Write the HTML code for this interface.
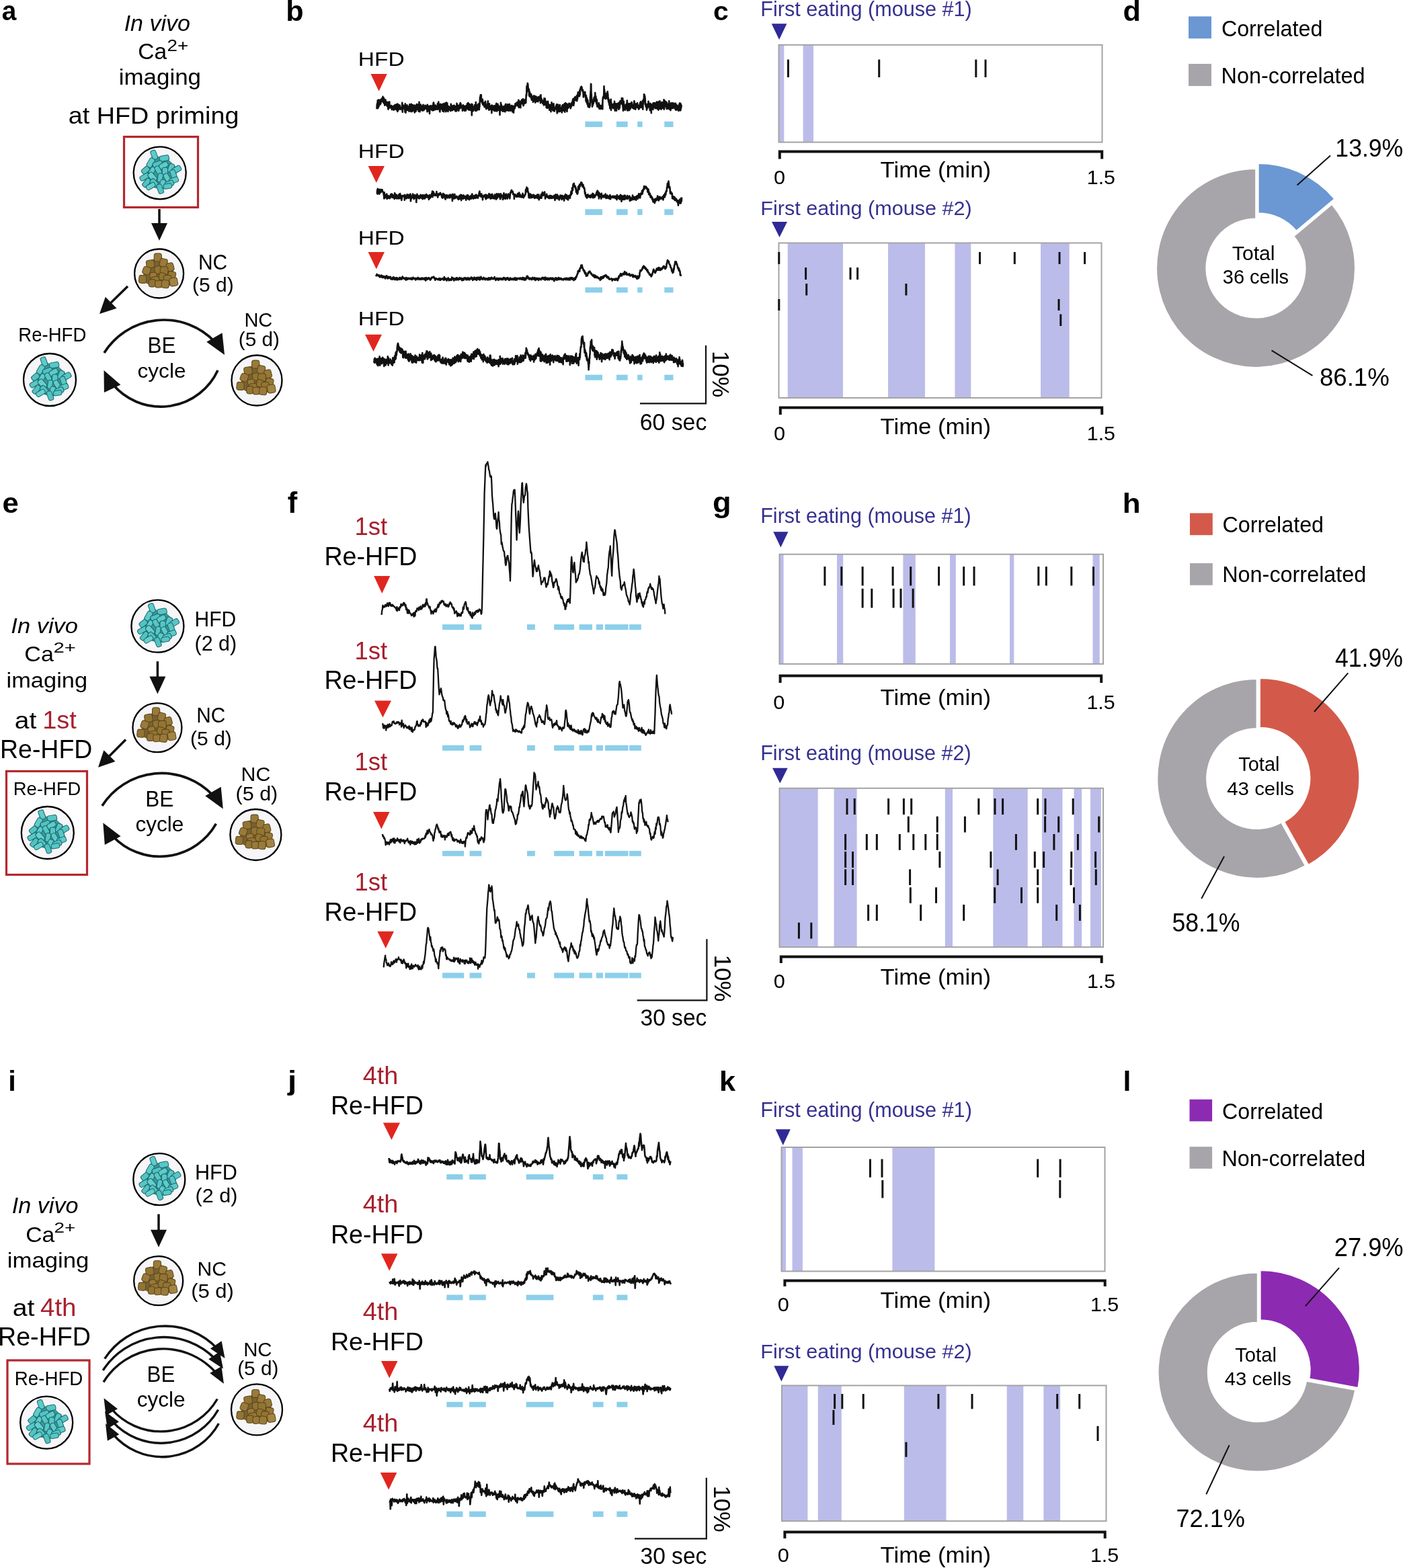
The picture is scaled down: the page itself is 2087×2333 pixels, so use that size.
<!DOCTYPE html><html><head><meta charset="utf-8"><title>Figure</title><style>html,body{margin:0;padding:0;background:#fff;}body{width:2087px;height:2333px;overflow:hidden;}svg{display:block;}text{font-family:"Liberation Sans",Arial,Helvetica,sans-serif;}</style></head><body><svg width="2087" height="2333" viewBox="0 0 2087 2333" font-family="Liberation Sans, Arial, Helvetica, sans-serif"><defs><symbol id="hfd" overflow="visible"><g transform="scale(0.92)"><g transform="scale(0.85)"><path d="M-12,-36 L0,-30 L14,-28 L30,-12 L32,4 L28,18 L14,28 L4,33 L-4,30 L-18,26 L-28,14 L-30,-2 L-24,-14 L-18,-26 Z" fill="#2b8c8c" opacity="0.9"/></g><rect x="-4.34" y="-7.61" width="8.67" height="15.23" rx="3" fill="#5fcbcb" stroke="#1b6a6b" stroke-width="1.1" transform="translate(-9.2 -29.2) rotate(-20)"/><rect x="-4.49" y="-7.66" width="8.98" height="15.33" rx="3" fill="#58c6c7" stroke="#1b6a6b" stroke-width="1.1" transform="translate(7.2 -23.7) rotate(80)"/><rect x="-4.35" y="-7.85" width="8.71" height="15.7" rx="3" fill="#5fcbcb" stroke="#1b6a6b" stroke-width="1.1" transform="translate(-14.7 -16.5) rotate(30)"/><rect x="-4.16" y="-7.8" width="8.32" height="15.61" rx="3" fill="#53c2c3" stroke="#1b6a6b" stroke-width="1.1" transform="translate(-3.7 -14.3) rotate(70)"/><rect x="-4.28" y="-7.36" width="8.56" height="14.72" rx="3" fill="#5fcbcb" stroke="#1b6a6b" stroke-width="1.1" transform="translate(6.2 -12.1) rotate(60)"/><rect x="-4.41" y="-7.11" width="8.82" height="14.22" rx="3" fill="#58c6c7" stroke="#1b6a6b" stroke-width="1.1" transform="translate(18.2 -7.7) rotate(20)"/><rect x="-4.54" y="-7.65" width="9.08" height="15.3" rx="3" fill="#58c6c7" stroke="#1b6a6b" stroke-width="1.1" transform="translate(27 -5.5) rotate(60)"/><rect x="-4.43" y="-6.61" width="8.87" height="13.22" rx="3" fill="#53c2c3" stroke="#1b6a6b" stroke-width="1.1" transform="translate(-23 -4.4) rotate(50)"/><rect x="-3.99" y="-6.5" width="7.98" height="13.01" rx="3" fill="#5fcbcb" stroke="#1b6a6b" stroke-width="1.1" transform="translate(-12.5 -3.3) rotate(30)"/><rect x="-4.05" y="-6.82" width="8.09" height="13.65" rx="3" fill="#58c6c7" stroke="#1b6a6b" stroke-width="1.1" transform="translate(-2.6 -4.4) rotate(-30)"/><rect x="-4.51" y="-6.93" width="9.02" height="13.87" rx="3" fill="#58c6c7" stroke="#1b6a6b" stroke-width="1.1" transform="translate(8.4 -1.7) rotate(0)"/><rect x="-4.28" y="-7.52" width="8.55" height="15.03" rx="3" fill="#58c6c7" stroke="#1b6a6b" stroke-width="1.1" transform="translate(22 2.2) rotate(-20)"/><rect x="-4.03" y="-7.95" width="8.05" height="15.91" rx="3" fill="#58c6c7" stroke="#1b6a6b" stroke-width="1.1" transform="translate(-24.6 6.5) rotate(60)"/><rect x="-4.58" y="-7.84" width="9.15" height="15.68" rx="3" fill="#66d0cf" stroke="#1b6a6b" stroke-width="1.1" transform="translate(-12 6.5) rotate(-40)"/><rect x="-3.92" y="-7.12" width="7.83" height="14.24" rx="3" fill="#58c6c7" stroke="#1b6a6b" stroke-width="1.1" transform="translate(0.6 7.6) rotate(10)"/><rect x="-4.08" y="-7" width="8.17" height="14" rx="3" fill="#5fcbcb" stroke="#1b6a6b" stroke-width="1.1" transform="translate(11.6 7.6) rotate(-30)"/><rect x="-4.32" y="-7.56" width="8.63" height="15.12" rx="3" fill="#5fcbcb" stroke="#1b6a6b" stroke-width="1.1" transform="translate(22.6 12) rotate(70)"/><rect x="-4.12" y="-7.73" width="8.23" height="15.46" rx="3" fill="#53c2c3" stroke="#1b6a6b" stroke-width="1.1" transform="translate(-21.3 15.9) rotate(40)"/><rect x="-4.39" y="-6.78" width="8.77" height="13.55" rx="3" fill="#53c2c3" stroke="#1b6a6b" stroke-width="1.1" transform="translate(-9.2 15.9) rotate(-45)"/><rect x="-4.39" y="-6.59" width="8.79" height="13.17" rx="3" fill="#5fcbcb" stroke="#1b6a6b" stroke-width="1.1" transform="translate(4.5 17.5) rotate(20)"/><rect x="-4.56" y="-7.04" width="9.13" height="14.07" rx="3" fill="#53c2c3" stroke="#1b6a6b" stroke-width="1.1" transform="translate(15.5 17.5) rotate(70)"/><rect x="-3.91" y="-7.68" width="7.83" height="15.36" rx="3" fill="#66d0cf" stroke="#1b6a6b" stroke-width="1.1" transform="translate(-14.7 21.4) rotate(60)"/><rect x="-4.16" y="-7.76" width="8.33" height="15.52" rx="3" fill="#53c2c3" stroke="#1b6a6b" stroke-width="1.1" transform="translate(0.6 25.8) rotate(-20)"/><rect x="-3.93" y="-6.77" width="7.87" height="13.54" rx="3" fill="#58c6c7" stroke="#1b6a6b" stroke-width="1.1" transform="translate(12.7 21.4) rotate(80)"/></g></symbol><symbol id="nc" overflow="visible"><g transform="scale(0.95)"><g transform="scale(0.85)"><path d="M-6,-30 L4,-31 L12,-22 L24,-14 L28,0 L30,18 L22,22 L2,24 L-16,22 L-31,14 L-30,4 L-24,-10 L-18,-20 Z" fill="#6a521f" opacity="0.9"/></g><rect x="-5.87" y="-6.24" width="11.75" height="12.48" rx="3.5" fill="#9a7a3a" stroke="#5e4819" stroke-width="1.1" transform="translate(-1.9 -25.2) rotate(0)"/><rect x="-6.09" y="-6.28" width="12.18" height="12.55" rx="3.5" fill="#927434" stroke="#5e4819" stroke-width="1.1" transform="translate(-13.6 -14.9) rotate(80)"/><rect x="-5.9" y="-6.4" width="11.8" height="12.8" rx="3.5" fill="#9a7a3a" stroke="#5e4819" stroke-width="1.1" transform="translate(7 -16.8) rotate(10)"/><rect x="-5.62" y="-6.37" width="11.24" height="12.74" rx="3.5" fill="#967838" stroke="#5e4819" stroke-width="1.1" transform="translate(17.3 -10.2) rotate(-15)"/><rect x="-5.79" y="-6.07" width="11.59" height="12.15" rx="3.5" fill="#9a7a3a" stroke="#5e4819" stroke-width="1.1" transform="translate(-19.6 -4.6) rotate(20)"/><rect x="-5.98" y="-5.91" width="11.96" height="11.82" rx="3.5" fill="#927434" stroke="#5e4819" stroke-width="1.1" transform="translate(-1 -5.6) rotate(85)"/><rect x="-6.17" y="-6.27" width="12.33" height="12.53" rx="3.5" fill="#927434" stroke="#5e4819" stroke-width="1.1" transform="translate(7.9 -4.6) rotate(0)"/><rect x="-6.01" y="-5.57" width="12.02" height="11.14" rx="3.5" fill="#967838" stroke="#5e4819" stroke-width="1.1" transform="translate(20 2.4) rotate(10)"/><rect x="-5.38" y="-5.5" width="10.75" height="11" rx="3.5" fill="#9a7a3a" stroke="#5e4819" stroke-width="1.1" transform="translate(-8.9 3.8) rotate(-10)"/><rect x="-5.46" y="-5.72" width="10.92" height="11.43" rx="3.5" fill="#927434" stroke="#5e4819" stroke-width="1.1" transform="translate(5.1 4.7) rotate(15)"/><rect x="-6.12" y="-5.79" width="12.24" height="11.58" rx="3.5" fill="#927434" stroke="#5e4819" stroke-width="1.1" transform="translate(13.1 8.4) rotate(0)"/><rect x="-5.79" y="-6.18" width="11.58" height="12.36" rx="3.5" fill="#927434" stroke="#5e4819" stroke-width="1.1" transform="translate(-25.7 8.9) rotate(5)"/><rect x="-5.43" y="-6.47" width="10.86" height="12.94" rx="3.5" fill="#927434" stroke="#5e4819" stroke-width="1.1" transform="translate(-6.1 10.3) rotate(80)"/><rect x="-6.22" y="-6.39" width="12.43" height="12.79" rx="3.5" fill="#a48444" stroke="#5e4819" stroke-width="1.1" transform="translate(22.8 13.1) rotate(-10)"/><rect x="-5.27" y="-5.91" width="10.54" height="11.83" rx="3.5" fill="#927434" stroke="#5e4819" stroke-width="1.1" transform="translate(-10.8 15) rotate(0)"/><rect x="-5.51" y="-5.83" width="11.03" height="11.66" rx="3.5" fill="#9a7a3a" stroke="#5e4819" stroke-width="1.1" transform="translate(-0.5 16.4) rotate(85)"/><rect x="-5.85" y="-6.21" width="11.69" height="12.42" rx="3.5" fill="#9a7a3a" stroke="#5e4819" stroke-width="1.1" transform="translate(9.8 16.4) rotate(5)"/></g></symbol></defs><text transform="translate(2.83 30.4) scale(0.972 1)" font-size="40" font-weight="bold" fill="#000">a</text><text transform="translate(1061.07 30.42) scale(1.074 1)" font-size="38" font-weight="bold" fill="#000">c</text><text transform="translate(3.56 762.58) scale(1.037 1)" font-size="42" font-weight="bold" fill="#000">e</text><text transform="translate(427.85 763.1) scale(0.987 1)" font-size="44" font-weight="bold" fill="#000">f</text><text transform="translate(1059.89 761.75) scale(1.049 1)" font-size="43.05" font-weight="bold" fill="#000">g</text><text transform="translate(1669.82 763) scale(1.099 1)" font-size="40" font-weight="bold" fill="#000">h</text><text transform="translate(12.3 1623.2) scale(0.973 1)" font-size="42.62" font-weight="bold" fill="#000">i</text><text transform="translate(427.92 1622.49) scale(1.150 1)" font-size="41.5" font-weight="bold" fill="#000">j</text><text transform="translate(1069.97 1623) scale(1.061 1)" font-size="40.83" font-weight="bold" fill="#000">k</text><text transform="translate(1670.39 1622.8) scale(1.052 1)" font-size="40.83" font-weight="bold" fill="#000">l</text><text transform="translate(425.29 30.8) scale(1.028 1)" font-size="42" font-weight="bold" fill="#000">b</text><text transform="translate(1670.47 30.8) scale(1.028 1)" font-size="42" font-weight="bold" fill="#000">d</text><text x="184.64" y="45.66" font-size="34.01" font-style="italic" fill="#000">In vivo</text><text x="205.33" y="88" font-size="33.5" fill="#000">Ca</text><text transform="translate(248.61 76) scale(1.212 1)" font-size="23" fill="#000">2+</text><text transform="translate(176.73 126.08) scale(1.061 1)" font-size="32.94" fill="#000">imaging</text><text transform="translate(101.8 184.09) scale(1.069 1)" font-size="35.29" fill="#000">at HFD priming</text><rect x="184.5" y="203.5" width="110" height="105" fill="none" stroke="#b5272d" stroke-width="3.2"/><circle cx="237.7" cy="257.3" r="39" fill="#f6f5f7" stroke="#000" stroke-width="2.3"/><use href="#hfd" x="237.7" y="257.3"/><line x1="237" y1="311" x2="237" y2="336" stroke="#111" stroke-width="3.5"/><polygon points="237,358 225,332 249,332" fill="#111"/><circle cx="236.6" cy="407" r="36.5" fill="#f6f5f7" stroke="#000" stroke-width="2.3"/><use href="#nc" x="236.6" y="407"/><text transform="translate(294.9 400.79) scale(0.980 1)" font-size="30.56" fill="#000">NC</text><text transform="translate(286.1 433.73) scale(1.006 1)" font-size="29.84" fill="#000">(5 d)</text><line x1="190" y1="426" x2="162.31" y2="453.03" stroke="#111" stroke-width="3.5"/><polygon points="148,467 156.79,441.65 173.56,458.82" fill="#111"/><text transform="translate(27.29 507.91) scale(0.955 1)" font-size="28.86" fill="#000">Re-HFD</text><circle cx="74" cy="565" r="39" fill="#f6f5f7" stroke="#000" stroke-width="2.3"/><use href="#hfd" x="74" y="565"/><path d="M155,525 A104.59,104.59 0 0 1 318.98,508.09" fill="none" stroke="#111" stroke-width="3.7"/><polygon points="334,528 307.25,508.86 330.58,495.28" fill="#111"/><text transform="translate(219.38 524.8) scale(0.966 1)" font-size="32.61" fill="#000">BE</text><text transform="translate(204.58 562.22) scale(1.039 1)" font-size="30.37" fill="#000">cycle</text><path d="M324,551 A93.43,93.43 0 0 1 167.91,572.01" fill="none" stroke="#111" stroke-width="3.7"/><polygon points="154.5,551 179.37,572.53 154.88,583.9" fill="#111"/><text transform="translate(363.38 486.01) scale(0.992 1)" font-size="29.3" fill="#000">NC</text><text transform="translate(354.82 515.12) scale(1.009 1)" font-size="29.41" fill="#000">(5 d)</text><circle cx="382" cy="566" r="37.5" fill="#f6f5f7" stroke="#000" stroke-width="2.3"/><use href="#nc" x="382" y="566"/><text transform="translate(16.32 942.28) scale(1.075 1)" font-size="32.11" font-style="italic" fill="#000">In vivo</text><text transform="translate(36.29 984) scale(1.067 1)" font-size="32" fill="#000">Ca</text><text transform="translate(79.53 970.7) scale(1.333 1)" font-size="22" fill="#000">2+</text><text transform="translate(9.56 1023) scale(1.095 1)" font-size="31.44" fill="#000">imaging</text><text transform="translate(21.85 1084) scale(1.083 1)" font-size="36" fill="#000">at</text><text transform="translate(63.15 1084) scale(1.056 1)" font-size="36" fill="#a8202d">1st</text><text transform="translate(0 1128.02) scale(0.975 1)" font-size="38.43" fill="#000">Re-HFD</text><rect x="9.5" y="1147.5" width="120" height="154" fill="none" stroke="#b5272d" stroke-width="3.2"/><text x="19.8" y="1182.73" font-size="27.43" fill="#000">Re-HFD</text><circle cx="70.8" cy="1239" r="39" fill="#f6f5f7" stroke="#000" stroke-width="2.3"/><use href="#hfd" x="70.8" y="1239"/><circle cx="234.4" cy="931.7" r="39" fill="#f6f5f7" stroke="#000" stroke-width="2.3"/><use href="#hfd" x="234.4" y="931.7"/><text transform="translate(289.5 931.6) scale(0.973 1)" font-size="30.87" fill="#000">HFD</text><text transform="translate(289.57 967.65) scale(0.992 1)" font-size="30.7" fill="#000">(2 d)</text><line x1="234.4" y1="984" x2="234.4" y2="1010.6" stroke="#111" stroke-width="3.5"/><polygon points="234.4,1032.6 222.4,1006.6 246.4,1006.6" fill="#111"/><circle cx="233.9" cy="1082.7" r="36.5" fill="#f6f5f7" stroke="#000" stroke-width="2.3"/><use href="#nc" x="233.9" y="1082.7"/><text transform="translate(292.22 1075.39) scale(0.975 1)" font-size="30.56" fill="#000">NC</text><text x="283.09" y="1108.79" font-size="30.05" fill="#000">(5 d)</text><line x1="187" y1="1100.4" x2="160.09" y2="1127.51" stroke="#111" stroke-width="3.5"/><polygon points="146,1141.7 154.39,1116.21 171.42,1133.12" fill="#111"/><path d="M151.9,1199 A105.09,105.09 0 0 1 316.98,1183.54" fill="none" stroke="#111" stroke-width="3.7"/><polygon points="331.8,1203.6 305.23,1184.2 328.69,1170.85" fill="#111"/><text transform="translate(216.28 1199.8) scale(0.945 1)" font-size="33.33" fill="#000">BE</text><text transform="translate(201.38 1236.81) scale(1.022 1)" font-size="30.91" fill="#000">cycle</text><path d="M321.4,1225.7 A96.21,96.21 0 0 1 167.98,1244.45" fill="none" stroke="#111" stroke-width="3.7"/><polygon points="153.3,1224.3 179.53,1244.16 155.83,1257.1" fill="#111"/><text x="358.58" y="1161.8" font-size="30.28" fill="#000">NC</text><text transform="translate(350.57 1191.21) scale(1.018 1)" font-size="29.95" fill="#000">(5 d)</text><circle cx="380.4" cy="1242" r="38" fill="#f6f5f7" stroke="#000" stroke-width="2.3"/><use href="#nc" x="380.4" y="1242"/><circle cx="236.8" cy="1754.7" r="38.5" fill="#f6f5f7" stroke="#000" stroke-width="2.3"/><use href="#hfd" x="236.8" y="1754.7"/><text transform="translate(289.94 1754.9) scale(0.985 1)" font-size="31.16" fill="#000">HFD</text><text transform="translate(290.57 1788.51) scale(1.020 1)" font-size="29.95" fill="#000">(2 d)</text><line x1="236" y1="1806.5" x2="236" y2="1833.7" stroke="#111" stroke-width="3.5"/><polygon points="236,1855.7 224,1829.7 248,1829.7" fill="#111"/><circle cx="235.7" cy="1905.7" r="36.5" fill="#f6f5f7" stroke="#000" stroke-width="2.3"/><use href="#nc" x="235.7" y="1905.7"/><text x="293.58" y="1898.4" font-size="30.14" fill="#000">NC</text><text transform="translate(284.14 1930.71) scale(1.035 1)" font-size="29.95" fill="#000">(5 d)</text><text transform="translate(17.83 1805.37) scale(1.046 1)" font-size="32.65" font-style="italic" fill="#000">In vivo</text><text transform="translate(38.32 1848.3) scale(1.052 1)" font-size="32" fill="#000">Ca</text><text transform="translate(80.61 1834) scale(1.267 1)" font-size="22" fill="#000">2+</text><text transform="translate(10.74 1886.03) scale(1.094 1)" font-size="31.76" fill="#000">imaging</text><text transform="translate(18.63 1957.5) scale(1.090 1)" font-size="36" fill="#000">at</text><text transform="translate(60.04 1957.5) scale(1.068 1)" font-size="36" fill="#a8202d">4th</text><text transform="translate(-3.01 2001.61) scale(0.958 1)" font-size="39.29" fill="#000">Re-HFD</text><rect x="11" y="2024" width="122" height="154" fill="none" stroke="#b5272d" stroke-width="3.2"/><text transform="translate(21.79 2060.71) scale(0.955 1)" font-size="29" fill="#000">Re-HFD</text><circle cx="69.2" cy="2116.6" r="39" fill="#f6f5f7" stroke="#000" stroke-width="2.3"/><use href="#hfd" x="69.2" y="2116.6"/><path d="M155.7,2021.7 A106.83,106.83 0 0 1 322.68,2006.06" fill="none" stroke="#111" stroke-width="3.4"/><polygon points="334.5,2020.9 312.93,2006.39 329.62,1995.36" fill="#111"/><path d="M153.2,2039 A107.04,107.04 0 0 1 320,2021.8" fill="none" stroke="#111" stroke-width="3.4"/><polygon points="332,2036.5 310.25,2022.26 326.8,2011.03" fill="#111"/><path d="M154,2056.3 A104.33,104.33 0 0 1 321.91,2043.33" fill="none" stroke="#111" stroke-width="3.4"/><polygon points="332.9,2058.8 312.19,2043.08 329.48,2033.03" fill="#111"/><path d="M323.3,2081.5 A97.14,97.14 0 0 1 165.34,2095.77" fill="none" stroke="#111" stroke-width="3.4"/><polygon points="154.5,2080.2 174.95,2096.26 157.5,2106.03" fill="#111"/><path d="M324.6,2097.5 A97.61,97.61 0 0 1 167.33,2115.21" fill="none" stroke="#111" stroke-width="3.4"/><polygon points="156,2100 176.96,2115.38 159.84,2125.72" fill="#111"/><path d="M325.4,2118 A96.18,96.18 0 0 1 167.76,2133.62" fill="none" stroke="#111" stroke-width="3.4"/><polygon points="157,2118 177.35,2134.18 159.84,2143.84" fill="#111"/><text transform="translate(218.6 2055.8) scale(0.950 1)" font-size="32.9" fill="#000">BE</text><text transform="translate(203.78 2093.15) scale(1.028 1)" font-size="30.7" fill="#000">cycle</text><text transform="translate(362.15 2017.8) scale(0.970 1)" font-size="30.28" fill="#000">NC</text><text transform="translate(353.21 2045.71) scale(0.994 1)" font-size="29.95" fill="#000">(5 d)</text><circle cx="382" cy="2097.4" r="38" fill="#f6f5f7" stroke="#000" stroke-width="2.3"/><use href="#nc" x="382" y="2097.4"/><path d="M560.5,162.3 560.8,155.4 561.0,155.4 561.3,153.5 561.5,159.1 561.8,149.3 562.0,161.2 562.3,153.4 562.5,156.4 562.8,154.5 563.0,159.4 563.3,148.5 563.5,153.5 563.8,153.1 564.0,157.4 564.3,150.4 564.5,152.9 564.8,150.5 565.0,153.0 565.3,154.3 565.5,148.9 565.8,155.3 566.0,154.3 566.3,152.8 566.5,153.7 566.8,148.6 567.0,150.0 567.3,147.2 567.5,148.9 567.8,151.0 568.0,147.0 568.3,147.6 568.5,146.4 568.8,145.6 569.0,145.8 569.3,147.5 569.5,143.9 569.8,147.7 570.0,152.3 570.3,149.8 570.5,147.4 570.8,145.6 571.0,146.4 571.3,154.0 571.5,149.4 571.8,147.7 572.0,150.5 572.3,156.6 572.5,151.0 572.8,152.8 573.0,152.2 573.3,150.6 573.5,148.5 573.8,151.2 574.0,151.9 574.3,154.5 574.5,155.5 574.8,156.1 575.0,154.4 575.3,156.4 575.5,151.7 575.8,158.0 576.0,156.0 576.3,153.9 576.5,156.5 576.8,155.0 577.0,158.9 577.3,160.3 577.5,162.6 577.8,152.1 578.0,152.2 578.3,155.2 578.5,157.5 578.8,159.9 579.0,158.4 579.3,151.5 579.5,156.8 579.8,160.4 580.0,158.7 580.3,160.4 580.5,157.6 580.8,157.8 581.0,159.1 581.3,159.8 581.5,159.3 581.8,159.2 582.0,157.0 582.3,160.2 582.5,159.6 582.8,162.8 583.0,163.1 583.3,160.2 583.5,158.6 583.8,158.0 584.0,161.3 584.3,160.3 584.5,159.1 584.8,160.2 585.0,158.2 585.3,162.2 585.5,158.8 585.8,163.8 586.0,161.3 586.3,161.9 586.5,156.8 586.8,160.6 587.0,162.3 587.3,157.2 587.5,159.3 587.8,160.2 588.0,156.0 588.3,161.1 588.5,162.6 588.8,157.5 589.0,161.2 589.3,156.2 589.5,160.0 589.8,155.3 590.0,163.5 590.3,161.3 590.5,160.0 590.8,157.8 591.0,163.9 591.3,166.0 591.5,154.5 591.8,163.8 592.0,165.0 592.3,161.1 592.5,156.5 592.8,162.7 593.0,159.6 593.3,158.3 593.5,156.4 593.8,161.8 594.0,162.5 594.3,158.2 594.5,161.7 594.8,156.7 595.0,162.5 595.3,160.2 595.5,159.5 595.8,159.8 596.0,162.7 596.3,162.4 596.5,161.7 596.8,160.5 597.0,160.3 597.3,162.0 597.5,160.8 597.8,162.2 598.0,159.2 598.3,152.8 598.5,163.2 598.8,166.7 599.0,161.4 599.3,159.8 599.5,159.7 599.8,159.8 600.0,160.2 600.3,156.7 600.5,158.6 600.8,157.1 601.0,160.9 601.3,159.2 601.5,161.6 601.8,159.6 602.0,163.1 602.3,160.8 602.5,166.7 602.8,154.4 603.0,158.2 603.3,162.8 603.5,167.7 603.8,159.4 604.0,160.2 604.3,159.4 604.5,164.1 604.8,159.2 605.0,162.1 605.3,159.2 605.5,156.3 605.8,161.1 606.0,161.6 606.3,164.0 606.5,159.8 606.8,158.3 607.0,161.8 607.3,160.8 607.5,161.0 607.8,159.9 608.0,163.6 608.3,161.2 608.5,165.8 608.8,163.4 609.0,162.1 609.3,155.2 609.5,161.9 609.8,161.4 610.0,162.5 610.3,163.2 610.5,158.9 610.8,162.6 611.0,158.4 611.3,166.0 611.5,156.1 611.8,154.8 612.0,155.2 612.3,157.4 612.5,156.8 612.8,166.0 613.0,159.1 613.3,156.1 613.5,163.5 613.8,158.3 614.0,156.4 614.3,162.7 614.5,162.0 614.8,158.8 615.0,164.3 615.3,160.5 615.5,165.0 615.8,161.6 616.0,164.8 616.3,160.4 616.5,156.5 616.8,167.5 617.0,158.5 617.3,159.5 617.5,158.0 617.8,159.5 618.0,160.8 618.3,160.7 618.5,162.1 618.8,165.5 619.0,159.7 619.3,156.4 619.5,156.6 619.8,158.1 620.0,155.1 620.3,162.6 620.5,158.6 620.8,159.2 621.0,160.1 621.3,155.9 621.5,157.5 621.8,162.1 622.0,162.0 622.3,158.8 622.5,165.5 622.8,156.2 623.0,159.1 623.3,159.4 623.5,151.7 623.8,165.9 624.0,161.2 624.3,157.0 624.5,166.3 624.8,161.9 625.0,161.4 625.3,158.3 625.5,160.4 625.8,155.5 626.0,162.5 626.3,159.0 626.5,160.5 626.8,163.7 627.0,161.0 627.3,160.9 627.5,160.9 627.8,157.9 628.0,162.6 628.3,164.7 628.5,162.4 628.8,162.8 629.0,157.5 629.3,157.5 629.5,155.8 629.8,163.8 630.0,159.3 630.3,164.3 630.5,157.8 630.8,158.8 631.0,160.4 631.3,162.9 631.5,160.3 631.8,160.7 632.0,160.1 632.3,160.6 632.5,156.7 632.8,160.3 633.0,159.5 633.3,159.9 633.5,161.6 633.8,158.0 634.0,159.8 634.3,159.2 634.5,161.3 634.8,162.4 635.0,157.2 635.3,161.8 635.5,166.3 635.8,155.7 636.0,157.6 636.3,157.4 636.5,159.2 636.8,164.9 637.0,160.1 637.3,158.0 637.5,161.9 637.8,158.3 638.0,163.4 638.3,161.0 638.5,164.2 638.8,158.1 639.0,169.1 639.3,162.5 639.5,162.0 639.8,159.9 640.0,157.9 640.3,157.4 640.5,159.6 640.8,157.6 641.0,160.9 641.3,157.5 641.5,161.9 641.8,162.9 642.0,157.9 642.3,163.6 642.5,159.3 642.8,163.5 643.0,161.3 643.3,163.4 643.5,157.0 643.8,159.7 644.0,164.4 644.3,158.2 644.5,153.9 644.8,154.2 645.0,152.5 645.3,153.7 645.5,158.8 645.8,163.8 646.0,158.7 646.3,161.0 646.5,159.7 646.8,160.0 647.0,159.5 647.3,159.5 647.5,161.4 647.8,156.5 648.0,163.0 648.3,162.7 648.5,159.4 648.8,162.4 649.0,157.9 649.3,158.4 649.5,160.4 649.8,159.4 650.0,158.6 650.3,158.0 650.5,158.3 650.8,162.8 651.0,154.1 651.3,161.0 651.5,159.3 651.8,162.1 652.0,161.5 652.3,151.6 652.5,161.7 652.8,160.9 653.0,160.0 653.3,158.5 653.5,162.5 653.8,158.7 654.0,165.4 654.3,161.6 654.5,166.4 654.8,157.6 655.0,154.7 655.3,162.1 655.5,162.5 655.8,160.0 656.0,155.3 656.3,158.6 656.5,161.8 656.8,159.4 657.0,159.6 657.3,159.4 657.5,157.1 657.8,158.3 658.0,155.6 658.3,165.2 658.5,158.5 658.8,161.3 659.0,156.8 659.3,162.3 659.5,154.3 659.8,162.7 660.0,159.8 660.3,166.2 660.5,156.0 660.8,160.1 661.0,161.0 661.3,163.6 661.5,158.6 661.8,160.2 662.0,153.5 662.3,157.4 662.5,161.2 662.8,163.2 663.0,159.0 663.3,166.1 663.5,165.2 663.8,159.7 664.0,152.6 664.3,154.5 664.5,157.5 664.8,163.2 665.0,160.8 665.3,153.6 665.5,159.2 665.8,164.7 666.0,158.7 666.3,157.6 666.5,166.0 666.8,160.0 667.0,158.4 667.3,160.9 667.5,159.9 667.8,158.6 668.0,163.5 668.3,163.2 668.5,162.4 668.8,159.5 669.0,163.3 669.3,159.7 669.5,161.2 669.8,162.9 670.0,162.3 670.3,165.2 670.5,161.2 670.8,154.8 671.0,156.3 671.3,163.9 671.5,158.8 671.8,161.0 672.0,157.3 672.3,162.8 672.5,158.7 672.8,164.2 673.0,158.2 673.3,163.2 673.5,161.8 673.8,157.6 674.0,163.1 674.3,157.1 674.5,157.3 674.8,162.0 675.0,157.9 675.3,158.0 675.5,158.8 675.8,156.8 676.0,162.9 676.3,161.6 676.5,159.6 676.8,159.5 677.0,161.1 677.3,165.1 677.5,162.4 677.8,158.3 678.0,162.1 678.3,159.4 678.5,159.2 678.8,165.4 679.0,158.5 679.3,158.3 679.5,153.9 679.8,155.6 680.0,161.1 680.3,157.7 680.5,161.3 680.8,156.4 681.0,157.5 681.3,161.8 681.5,164.1 681.8,161.5 682.0,163.4 682.3,164.9 682.5,162.9 682.8,157.0 683.0,159.4 683.3,161.6 683.5,158.5 683.8,161.1 684.0,155.0 684.3,157.3 684.5,161.3 684.8,153.0 685.0,156.4 685.3,159.7 685.5,154.6 685.8,159.9 686.0,157.3 686.3,158.9 686.5,158.9 686.8,160.3 687.0,158.0 687.3,160.0 687.5,157.9 687.8,161.4 688.0,164.8 688.3,160.3 688.5,160.2 688.8,156.2 689.0,161.8 689.3,157.4 689.5,157.3 689.8,161.4 690.0,160.2 690.3,163.0 690.5,164.0 690.8,158.1 691.0,160.1 691.3,165.0 691.5,162.6 691.8,161.8 692.0,163.6 692.3,157.9 692.5,161.6 692.8,163.9 693.0,164.5 693.3,157.3 693.5,158.9 693.8,160.8 694.0,158.8 694.3,158.5 694.5,161.7 694.8,158.6 695.0,154.3 695.3,160.8 695.5,158.4 695.8,157.5 696.0,155.0 696.3,162.7 696.5,153.0 696.8,154.6 697.0,158.8 697.3,163.3 697.5,163.6 697.8,156.2 698.0,159.1 698.3,155.1 698.5,162.7 698.8,155.2 699.0,159.2 699.3,162.7 699.5,159.0 699.8,164.0 700.0,157.0 700.3,160.7 700.5,162.2 700.8,159.2 701.0,163.8 701.3,161.3 701.5,154.7 701.8,171.5 702.0,161.6 702.3,159.9 702.5,155.4 702.8,159.9 703.0,158.2 703.3,161.5 703.5,160.7 703.8,165.2 704.0,160.0 704.3,161.1 704.5,160.7 704.8,159.2 705.0,159.1 705.3,162.9 705.5,161.9 705.8,157.7 706.0,156.3 706.3,159.4 706.5,163.1 706.8,159.5 707.0,164.8 707.3,157.3 707.5,160.0 707.8,152.0 708.0,157.8 708.3,158.6 708.5,161.1 708.8,164.6 709.0,159.6 709.3,163.8 709.5,161.3 709.8,162.3 710.0,157.9 710.3,163.4 710.5,156.0 710.8,160.6 711.0,156.3 711.3,157.5 711.5,154.6 711.8,157.4 712.0,160.0 712.3,158.7 712.5,154.8 712.8,163.2 713.0,159.3 713.3,159.4 713.5,156.7 713.8,150.4 714.0,144.6 714.3,145.7 714.5,150.2 714.8,141.4 715.0,147.3 715.3,143.7 715.5,147.4 715.8,141.4 716.0,151.0 716.3,148.1 716.5,151.5 716.8,150.1 717.0,152.6 717.3,150.6 717.5,153.8 717.8,147.7 718.0,149.6 718.3,155.7 718.5,154.1 718.8,154.2 719.0,154.4 719.3,156.6 719.5,153.5 719.8,156.9 720.0,152.8 720.3,154.4 720.5,158.8 720.8,159.2 721.0,152.8 721.3,158.7 721.5,153.2 721.8,158.7 722.0,150.9 722.3,153.4 722.5,155.4 722.8,156.5 723.0,161.4 723.3,160.0 723.5,162.2 723.8,161.2 724.0,156.9 724.3,157.1 724.5,161.2 724.8,158.3 725.0,157.8 725.3,154.4 725.5,158.2 725.8,150.3 726.0,157.5 726.3,156.0 726.5,161.2 726.8,157.8 727.0,158.4 727.3,163.6 727.5,156.5 727.8,160.7 728.0,154.2 728.3,160.3 728.5,161.4 728.8,162.9 729.0,157.8 729.3,161.6 729.5,161.6 729.8,160.6 730.0,161.1 730.3,162.1 730.5,161.9 730.8,157.7 731.0,157.1 731.3,168.2 731.5,166.5 731.8,156.5 732.0,162.1 732.3,162.6 732.5,163.0 732.8,161.1 733.0,157.9 733.3,160.2 733.5,159.3 733.8,161.2 734.0,159.9 734.3,160.4 734.5,163.8 734.8,164.5 735.0,157.2 735.3,159.4 735.5,158.4 735.8,164.5 736.0,160.6 736.3,165.2 736.5,159.4 736.8,160.9 737.0,156.8 737.3,164.7 737.5,159.8 737.8,156.4 738.0,159.1 738.3,153.9 738.5,160.8 738.8,161.2 739.0,161.7 739.3,165.4 739.5,160.0 739.8,163.3 740.0,161.8 740.3,160.3 740.5,154.7 740.8,163.8 741.0,159.4 741.3,161.0 741.5,157.1 741.8,161.8 742.0,161.3 742.3,161.0 742.5,160.6 742.8,164.1 743.0,163.9 743.3,163.2 743.5,171.0 743.8,159.2 744.0,159.9 744.3,158.0 744.5,162.3 744.8,159.0 745.0,152.9 745.3,157.4 745.5,161.3 745.8,164.1 746.0,156.4 746.3,159.2 746.5,160.6 746.8,158.9 747.0,162.7 747.3,161.1 747.5,162.1 747.8,158.9 748.0,165.7 748.3,161.1 748.5,165.0 748.8,159.8 749.0,162.9 749.3,159.1 749.5,158.3 749.8,159.0 750.0,161.0 750.3,160.5 750.5,165.8 750.8,157.7 751.0,157.9 751.3,166.3 751.5,163.0 751.8,155.6 752.0,162.7 752.3,161.9 752.5,154.8 752.8,160.1 753.0,161.2 753.3,163.4 753.5,164.1 753.8,161.5 754.0,164.4 754.3,160.8 754.5,158.7 754.8,158.5 755.0,162.9 755.3,155.4 755.5,163.3 755.8,158.0 756.0,160.2 756.3,162.8 756.5,165.0 756.8,155.5 757.0,158.9 757.3,161.5 757.5,159.6 757.8,163.9 758.0,155.1 758.3,162.4 758.5,162.6 758.8,161.5 759.0,164.7 759.3,157.7 759.5,164.7 759.8,159.3 760.0,163.6 760.3,160.4 760.5,163.9 760.8,163.8 761.0,157.0 761.3,160.9 761.5,161.0 761.8,160.4 762.0,158.8 762.3,166.5 762.5,161.5 762.8,165.5 763.0,159.0 763.3,157.5 763.5,161.0 763.8,158.8 764.0,167.6 764.3,161.1 764.5,163.7 764.8,159.5 765.0,159.0 765.3,159.4 765.5,160.2 765.8,161.2 766.0,157.9 766.3,155.8 766.5,154.2 766.8,156.8 767.0,158.3 767.3,157.6 767.5,155.7 767.8,153.5 768.0,155.4 768.3,156.2 768.5,154.0 768.8,154.0 769.0,153.0 769.3,156.2 769.5,152.1 769.8,154.0 770.0,154.6 770.3,155.5 770.5,157.8 770.8,155.3 771.0,155.0 771.3,148.8 771.5,155.0 771.8,160.0 772.0,150.6 772.3,150.0 772.5,152.4 772.8,156.1 773.0,154.6 773.3,151.5 773.5,152.8 773.8,156.0 774.0,154.9 774.3,160.1 774.5,155.8 774.8,153.8 775.0,154.6 775.3,151.7 775.5,149.8 775.8,153.2 776.0,154.1 776.3,148.4 776.5,151.0 776.8,151.4 777.0,153.3 777.3,151.7 777.5,153.8 777.8,152.7 778.0,155.6 778.3,147.2 778.5,157.3 778.8,156.5 779.0,152.4 779.3,154.2 779.5,153.9 779.8,149.6 780.0,152.1 780.3,153.7 780.5,152.0 780.8,154.0 781.0,150.9 781.3,150.6 781.5,147.8 781.8,148.8 782.0,148.2 782.3,152.9 782.5,146.5 782.8,140.7 783.0,142.9 783.3,139.0 783.5,128.4 783.8,136.9 784.0,128.8 784.3,133.1 784.5,126.5 784.8,123.8 785.0,130.5 785.3,125.4 785.5,129.5 785.8,132.3 786.0,134.4 786.3,135.6 786.5,134.2 786.8,132.6 787.0,141.8 787.3,135.0 787.5,143.1 787.8,137.2 788.0,142.9 788.3,143.5 788.5,138.1 788.8,142.9 789.0,144.4 789.3,144.6 789.5,142.2 789.8,144.0 790.0,142.3 790.3,140.3 790.5,147.1 790.8,142.8 791.0,148.9 791.3,146.9 791.5,142.8 791.8,145.3 792.0,145.3 792.3,143.9 792.5,148.3 792.8,145.5 793.0,151.9 793.3,149.6 793.5,144.4 793.8,147.0 794.0,146.4 794.3,142.4 794.5,150.0 794.8,150.0 795.0,150.0 795.3,145.9 795.5,150.5 795.8,146.7 796.0,150.2 796.3,152.8 796.5,147.8 796.8,143.2 797.0,146.5 797.3,149.4 797.5,151.2 797.8,144.2 798.0,147.0 798.3,148.3 798.5,149.0 798.8,150.4 799.0,144.9 799.3,146.5 799.5,150.8 799.8,149.0 800.0,149.2 800.3,151.3 800.5,148.2 800.8,149.5 801.0,147.0 801.3,144.0 801.5,144.2 801.8,148.3 802.0,147.5 802.3,146.2 802.5,149.1 802.8,145.5 803.0,148.6 803.3,148.3 803.5,146.0 803.8,141.8 804.0,153.3 804.3,150.0 804.5,141.3 804.8,148.2 805.0,150.8 805.3,149.1 805.5,151.8 805.8,147.3 806.0,150.9 806.3,150.4 806.5,150.2 806.8,150.3 807.0,151.7 807.3,154.1 807.5,149.9 807.8,150.5 808.0,152.4 808.3,151.7 808.5,153.4 808.8,154.6 809.0,156.5 809.3,152.5 809.5,146.2 809.8,153.0 810.0,154.5 810.3,153.0 810.5,153.3 810.8,146.7 811.0,155.7 811.3,153.4 811.5,150.0 811.8,152.1 812.0,152.3 812.3,156.9 812.5,156.9 812.8,160.0 813.0,157.6 813.3,151.8 813.5,151.8 813.8,159.6 814.0,161.0 814.3,155.7 814.5,158.2 814.8,152.1 815.0,150.8 815.3,153.3 815.5,155.8 815.8,155.4 816.0,156.4 816.3,155.7 816.5,159.3 816.8,161.7 817.0,157.6 817.3,163.7 817.5,155.8 817.8,156.2 818.0,159.0 818.3,156.9 818.5,161.6 818.8,156.3 819.0,162.2 819.3,159.0 819.5,166.2 819.8,157.2 820.0,158.1 820.3,159.2 820.5,152.3 820.8,160.8 821.0,160.5 821.3,159.5 821.5,154.6 821.8,154.7 822.0,161.2 822.3,163.1 822.5,164.5 822.8,157.1 823.0,156.8 823.3,159.2 823.5,154.2 823.8,158.4 824.0,162.8 824.3,165.3 824.5,161.3 824.8,165.5 825.0,161.9 825.3,161.4 825.5,160.4 825.8,161.5 826.0,160.3 826.3,160.8 826.5,159.3 826.8,162.2 827.0,161.5 827.3,157.0 827.5,160.7 827.8,158.9 828.0,155.3 828.3,162.9 828.5,166.1 828.8,168.5 829.0,166.1 829.3,158.8 829.5,165.0 829.8,164.8 830.0,155.5 830.3,164.0 830.5,163.3 830.8,161.9 831.0,162.3 831.3,161.6 831.5,166.3 831.8,160.2 832.0,160.8 832.3,161.5 832.5,162.3 832.8,156.1 833.0,165.6 833.3,162.1 833.5,163.1 833.8,162.0 834.0,160.9 834.3,160.4 834.5,161.7 834.8,161.9 835.0,164.9 835.3,162.5 835.5,161.0 835.8,167.4 836.0,157.6 836.3,157.4 836.5,162.5 836.8,160.8 837.0,156.1 837.3,160.5 837.5,159.3 837.8,164.8 838.0,159.6 838.3,164.6 838.5,162.8 838.8,160.8 839.0,161.5 839.3,162.7 839.5,154.5 839.8,162.4 840.0,160.3 840.3,166.7 840.5,159.1 840.8,164.4 841.0,153.3 841.3,163.1 841.5,161.4 841.8,159.6 842.0,159.9 842.3,159.3 842.5,161.2 842.8,159.3 843.0,154.2 843.3,158.9 843.5,166.0 843.8,159.3 844.0,159.8 844.3,157.5 844.5,159.2 844.8,159.0 845.0,157.6 845.3,160.8 845.5,155.3 845.8,157.5 846.0,159.2 846.3,156.8 846.5,153.7 846.8,158.9 847.0,154.1 847.3,155.6 847.5,154.3 847.8,156.3 848.0,155.2 848.3,154.9 848.5,158.2 848.8,161.3 849.0,154.8 849.3,157.3 849.5,154.5 849.8,155.7 850.0,158.6 850.3,155.2 850.5,152.5 850.8,152.5 851.0,152.5 851.3,153.9 851.5,156.2 851.8,149.2 852.0,149.9 852.3,149.9 852.5,147.1 852.8,156.0 853.0,151.5 853.3,157.0 853.5,146.7 853.8,154.5 854.0,148.2 854.3,148.8 854.5,146.7 854.8,146.5 855.0,145.0 855.3,149.3 855.5,144.4 855.8,147.3 856.0,147.6 856.3,149.3 856.5,147.3 856.8,147.6 857.0,147.9 857.3,145.9 857.5,146.7 857.8,142.4 858.0,142.7 858.3,150.3 858.5,144.3 858.8,141.6 859.0,147.4 859.3,142.2 859.5,140.2 859.8,137.2 860.0,143.4 860.3,137.2 860.5,138.3 860.8,141.3 861.0,139.4 861.3,138.0 861.5,137.1 861.8,140.6 862.0,143.3 862.3,134.4 862.5,137.2 862.8,140.8 863.0,137.7 863.3,131.8 863.5,132.0 863.8,131.0 864.0,129.5 864.3,129.8 864.5,131.9 864.8,128.8 865.0,132.7 865.3,130.5 865.5,129.5 865.8,133.9 866.0,132.7 866.3,133.1 866.5,136.0 866.8,135.2 867.0,133.7 867.3,137.4 867.5,136.1 867.8,144.5 868.0,139.6 868.3,140.3 868.5,141.3 868.8,138.2 869.0,142.5 869.3,139.2 869.5,137.2 869.8,138.5 870.0,142.4 870.3,136.7 870.5,142.6 870.8,140.5 871.0,145.5 871.3,141.8 871.5,150.3 871.8,147.7 872.0,142.3 872.3,152.0 872.5,146.8 872.8,146.0 873.0,145.8 873.3,151.2 873.5,154.7 873.8,149.2 874.0,148.6 874.3,148.9 874.5,157.4 874.8,158.7 875.0,153.3 875.3,156.6 875.5,155.7 875.8,156.0 876.0,159.3 876.3,157.9 876.5,157.7 876.8,156.1 877.0,159.6 877.3,156.4 877.5,157.6 877.8,153.4 878.0,144.2 878.3,142.0 878.5,137.0 878.8,133.4 879.0,124.8 879.3,125.5 879.5,138.1 879.8,140.9 880.0,144.3 880.3,151.4 880.5,151.4 880.8,154.1 881.0,158.7 881.3,150.7 881.5,152.1 881.8,156.8 882.0,153.7 882.3,148.8 882.5,153.7 882.8,153.8 883.0,151.9 883.3,148.9 883.5,145.6 883.8,147.5 884.0,147.5 884.3,144.2 884.5,146.2 884.8,144.4 885.0,144.3 885.3,138.1 885.5,148.2 885.8,151.0 886.0,145.5 886.3,143.1 886.5,150.2 886.8,147.8 887.0,147.1 887.3,154.5 887.5,147.5 887.8,154.6 888.0,149.6 888.3,158.5 888.5,156.5 888.8,155.1 889.0,156.7 889.3,158.1 889.5,159.0 889.8,159.2 890.0,158.5 890.3,155.6 890.5,159.1 890.8,153.4 891.0,160.5 891.3,160.2 891.5,161.9 891.8,156.1 892.0,158.6 892.3,160.8 892.5,159.3 892.8,157.2 893.0,159.6 893.3,159.0 893.5,161.9 893.8,157.2 894.0,160.3 894.3,160.3 894.5,161.8 894.8,159.5 895.0,160.2 895.3,159.8 895.5,159.8 895.8,157.7 896.0,154.7 896.3,162.2 896.5,149.2 896.8,146.2 897.0,145.4 897.3,143.7 897.5,143.9 897.8,146.1 898.0,144.9 898.3,138.6 898.5,128.4 898.8,137.0 899.0,133.3 899.3,137.2 899.5,136.6 899.8,142.8 900.0,141.0 900.3,146.6 900.5,147.1 900.8,146.0 901.0,145.6 901.3,146.7 901.5,141.4 901.8,143.9 902.0,139.6 902.3,139.1 902.5,139.3 902.8,139.5 903.0,137.7 903.3,137.9 903.5,141.4 903.8,136.2 904.0,147.3 904.3,140.0 904.5,148.2 904.8,145.4 905.0,150.2 905.3,149.9 905.5,152.7 905.8,150.9 906.0,148.4 906.3,156.1 906.5,153.2 906.8,153.1 907.0,153.0 907.3,161.2 907.5,153.5 907.8,156.3 908.0,152.0 908.3,160.1 908.5,153.9 908.8,147.9 909.0,163.9 909.3,152.5 909.5,159.8 909.8,158.2 910.0,158.0 910.3,155.4 910.5,156.8 910.8,159.9 911.0,155.4 911.3,157.2 911.5,159.3 911.8,156.8 912.0,155.4 912.3,161.1 912.5,157.8 912.8,156.5 913.0,154.6 913.3,154.0 913.5,159.8 913.8,160.0 914.0,150.7 914.3,155.5 914.5,160.3 914.8,164.7 915.0,164.0 915.3,160.4 915.5,161.8 915.8,156.2 916.0,160.2 916.3,154.2 916.5,156.3 916.8,159.0 917.0,164.6 917.3,160.5 917.5,159.1 917.8,157.9 918.0,154.5 918.3,160.3 918.5,157.5 918.8,159.4 919.0,156.1 919.3,159.0 919.5,153.6 919.8,159.3 920.0,161.3 920.3,159.7 920.5,162.8 920.8,157.0 921.0,157.1 921.3,156.7 921.5,152.1 921.8,160.7 922.0,156.8 922.3,152.7 922.5,150.3 922.8,154.3 923.0,154.7 923.3,152.1 923.5,151.8 923.8,150.2 924.0,150.3 924.3,153.9 924.5,153.9 924.8,146.1 925.0,151.9 925.3,148.7 925.5,149.2 925.8,155.9 926.0,152.5 926.3,146.4 926.5,158.7 926.8,161.4 927.0,164.6 927.3,157.6 927.5,163.1 927.8,150.9 928.0,155.6 928.3,160.3 928.5,160.1 928.8,162.7 929.0,161.6 929.3,158.4 929.5,163.3 929.8,160.7 930.0,163.8 930.3,156.2 930.5,159.5 930.8,157.3 931.0,161.0 931.3,157.9 931.5,157.8 931.8,154.6 932.0,159.5 932.3,161.9 932.5,161.6 932.8,149.5 933.0,153.7 933.3,164.5 933.5,157.9 933.8,158.0 934.0,162.0 934.3,159.1 934.5,156.6 934.8,157.8 935.0,164.1 935.3,154.3 935.5,162.3 935.8,157.5 936.0,157.6 936.3,164.0 936.5,156.4 936.8,160.9 937.0,157.3 937.3,154.0 937.5,157.8 937.8,161.8 938.0,157.7 938.3,159.9 938.5,158.8 938.8,158.4 939.0,157.0 939.3,158.6 939.5,152.1 939.8,156.9 940.0,152.8 940.3,159.0 940.5,159.2 940.8,155.8 941.0,160.6 941.3,159.3 941.5,159.0 941.8,157.0 942.0,159.5 942.3,161.3 942.5,156.1 942.8,155.6 943.0,161.6 943.3,151.1 943.5,150.2 943.8,152.6 944.0,158.6 944.3,158.5 944.5,159.5 944.8,158.2 945.0,162.6 945.3,162.7 945.5,161.4 945.8,154.5 946.0,159.0 946.3,155.3 946.5,156.4 946.8,154.8 947.0,157.9 947.3,159.5 947.5,158.1 947.8,154.3 948.0,153.3 948.3,155.5 948.5,155.5 948.8,160.2 949.0,156.8 949.3,157.2 949.5,157.3 949.8,161.1 950.0,162.7 950.3,159.0 950.5,157.0 950.8,161.9 951.0,159.0 951.3,156.4 951.5,160.7 951.8,158.3 952.0,153.4 952.3,159.5 952.5,158.5 952.8,152.1 953.0,151.2 953.3,158.0 953.5,159.6 953.8,159.4 954.0,153.5 954.3,156.5 954.5,159.5 954.8,152.9 955.0,157.8 955.3,158.2 955.5,160.3 955.8,150.1 956.0,157.9 956.3,162.6 956.5,153.0 956.8,152.3 957.0,154.5 957.3,147.7 957.5,151.8 957.8,148.4 958.0,140.4 958.3,144.2 958.5,140.8 958.8,149.2 959.0,142.5 959.3,143.3 959.5,146.5 959.8,148.7 960.0,156.2 960.3,153.4 960.5,155.5 960.8,159.0 961.0,154.9 961.3,156.5 961.5,156.2 961.8,161.1 962.0,163.6 962.3,159.5 962.5,156.8 962.8,157.1 963.0,155.3 963.3,160.7 963.5,155.3 963.8,157.7 964.0,155.0 964.3,152.7 964.5,150.8 964.8,155.7 965.0,159.0 965.3,157.4 965.5,157.6 965.8,155.0 966.0,155.4 966.3,155.0 966.5,158.8 966.8,164.3 967.0,157.7 967.3,153.9 967.5,161.8 967.8,155.0 968.0,159.6 968.3,156.6 968.5,158.1 968.8,168.2 969.0,155.6 969.3,156.0 969.5,158.9 969.8,157.7 970.0,156.5 970.3,155.6 970.5,159.4 970.8,160.9 971.0,154.7 971.3,154.1 971.5,163.0 971.8,153.2 972.0,159.6 972.3,158.7 972.5,154.1 972.8,159.6 973.0,154.0 973.3,154.0 973.5,153.1 973.8,159.7 974.0,155.9 974.3,160.4 974.5,154.7 974.8,159.0 975.0,161.3 975.3,156.8 975.5,153.6 975.8,156.0 976.0,160.7 976.3,159.1 976.5,155.7 976.8,151.6 977.0,159.0 977.3,161.7 977.5,161.7 977.8,158.0 978.0,156.1 978.3,154.3 978.5,154.9 978.8,151.7 979.0,163.0 979.3,156.5 979.5,163.7 979.8,156.3 980.0,151.6 980.3,162.0 980.5,153.8 980.8,155.1 981.0,161.3 981.3,160.7 981.5,150.2 981.8,156.2 982.0,152.9 982.3,157.8 982.5,161.6 982.8,154.6 983.0,160.7 983.3,153.4 983.5,162.8 983.8,153.8 984.0,154.9 984.3,157.2 984.5,152.1 984.8,161.0 985.0,153.2 985.3,158.2 985.5,152.5 985.8,156.8 986.0,156.4 986.3,155.3 986.5,158.0 986.8,153.2 987.0,161.1 987.3,157.2 987.5,148.2 987.8,162.6 988.0,158.0 988.3,161.3 988.5,156.1 988.8,149.9 989.0,155.4 989.3,153.0 989.5,156.6 989.8,155.3 990.0,157.4 990.3,151.5 990.5,157.0 990.8,155.5 991.0,158.8 991.3,151.8 991.5,155.6 991.8,161.9 992.0,153.4 992.3,159.2 992.5,161.0 992.8,157.0 993.0,160.0 993.3,160.2 993.5,161.8 993.8,156.0 994.0,156.8 994.3,159.5 994.5,154.9 994.8,157.3 995.0,155.1 995.3,150.2 995.5,158.2 995.8,162.4 996.0,156.2 996.3,157.6 996.5,156.0 996.8,155.1 997.0,157.8 997.3,160.6 997.5,164.1 997.8,159.9 998.0,154.6 998.3,153.2 998.5,161.4 998.8,158.5 999.0,155.7 999.3,154.4 999.5,155.1 999.8,161.3 1000.0,157.5 1000.3,153.4 1000.5,160.3 1000.8,158.6 1001.0,156.8 1001.3,159.5 1001.5,155.3 1001.8,160.7 1002.0,153.5 1002.3,155.1 1002.5,153.7 1002.8,156.6 1003.0,155.6 1003.3,156.8 1003.5,157.9 1003.8,159.6 1004.0,158.4 1004.3,158.7 1004.5,162.8 1004.8,157.2 1005.0,153.7 1005.3,160.9 1005.5,163.6 1005.8,158.7 1006.0,160.6 1006.3,156.2 1006.5,158.7 1006.8,160.1 1007.0,159.3 1007.3,156.6 1007.5,163.1 1007.8,158.8 1008.0,161.1 1008.3,159.5 1008.5,160.9 1008.8,161.1 1009.0,157.7 1009.3,160.9 1009.5,164.9 1009.8,164.4 1010.0,160.7 1010.3,163.5 1010.5,154.6 1010.8,162.9 1011.0,158.8 1011.3,153.2 1011.5,159.1 1011.8,161.5 1012.0,156.5 1012.3,164.4 1012.5,162.7 1012.8,154.9 1013.0,161.7 1013.3,159.1 1013.5,157.1 1013.8,157.8 1014.0,157.4" fill="none" stroke="#111" stroke-width="2.6" stroke-linejoin="round"/><path d="M560.5,288.7 560.9,288.0 561.2,282.5 561.6,288.6 561.9,280.7 562.3,282.6 562.6,285.2 563.0,281.7 563.3,282.1 563.7,282.3 564.0,285.2 564.4,288.7 564.7,284.1 565.1,281.8 565.4,285.1 565.8,282.8 566.1,283.9 566.5,286.3 566.8,282.4 567.2,283.9 567.5,282.1 567.9,283.5 568.2,284.3 568.6,282.2 568.9,284.4 569.3,285.5 569.6,285.7 570.0,285.5 570.3,286.0 570.7,289.5 571.0,290.2 571.4,295.4 571.7,286.2 572.1,291.5 572.4,292.1 572.8,294.2 573.1,292.6 573.5,290.0 573.8,291.8 574.2,293.0 574.5,291.5 574.9,293.8 575.2,288.6 575.6,295.9 575.9,295.5 576.3,292.0 576.6,293.9 577.0,292.8 577.3,291.1 577.7,292.9 578.0,294.7 578.4,292.0 578.7,292.0 579.1,292.6 579.4,293.6 579.8,295.3 580.1,291.5 580.5,293.7 580.8,293.2 581.2,289.0 581.5,291.9 581.9,292.5 582.2,292.6 582.6,293.4 582.9,288.6 583.3,292.8 583.6,291.4 584.0,289.8 584.3,293.8 584.7,294.2 585.0,291.4 585.4,294.4 585.7,292.0 586.1,292.9 586.4,290.5 586.8,295.9 587.1,287.4 587.5,292.5 587.8,294.1 588.2,288.7 588.5,292.3 588.9,292.6 589.2,294.4 589.6,295.2 589.9,291.9 590.3,290.0 590.6,295.5 591.0,295.2 591.3,291.8 591.7,293.4 592.0,293.5 592.4,293.9 592.7,293.1 593.1,295.5 593.4,289.2 593.8,294.8 594.1,293.5 594.5,292.3 594.8,295.1 595.2,288.0 595.5,295.0 595.9,293.5 596.2,290.5 596.6,293.6 596.9,292.1 597.3,297.9 597.6,296.4 598.0,293.6 598.3,291.3 598.7,291.6 599.0,292.1 599.4,291.6 599.7,290.9 600.1,291.5 600.4,292.2 600.8,291.7 601.1,291.3 601.5,290.9 601.8,297.8 602.2,289.8 602.5,290.7 602.9,293.6 603.2,292.1 603.6,293.6 603.9,294.3 604.3,295.3 604.6,294.2 605.0,290.7 605.3,294.9 605.7,289.2 606.0,292.5 606.4,291.7 606.7,290.6 607.1,293.9 607.4,292.4 607.8,294.8 608.1,289.8 608.5,294.4 608.8,293.7 609.2,293.0 609.5,289.9 609.9,292.2 610.2,289.6 610.6,288.6 610.9,299.3 611.3,294.7 611.6,296.3 612.0,291.9 612.3,294.1 612.7,294.1 613.0,293.9 613.4,292.7 613.7,292.3 614.1,288.6 614.4,293.9 614.8,293.6 615.1,295.0 615.5,292.2 615.8,296.2 616.2,291.8 616.5,290.2 616.9,294.6 617.2,291.8 617.6,290.2 617.9,293.0 618.3,294.2 618.6,293.2 619.0,293.7 619.3,300.9 619.7,294.4 620.0,295.8 620.4,288.8 620.7,293.5 621.1,294.3 621.4,292.0 621.8,291.0 622.1,293.5 622.5,292.1 622.8,291.5 623.2,295.0 623.5,295.4 623.9,293.3 624.2,291.8 624.6,293.8 624.9,294.4 625.3,294.0 625.6,289.8 626.0,292.0 626.3,293.4 626.7,294.0 627.0,294.6 627.4,294.2 627.7,290.5 628.1,291.3 628.4,290.3 628.8,296.3 629.1,293.1 629.5,293.8 629.8,294.8 630.2,292.1 630.5,290.4 630.9,291.9 631.2,292.4 631.6,295.7 631.9,294.5 632.3,290.6 632.6,294.1 633.0,294.2 633.3,290.6 633.7,292.5 634.0,289.0 634.4,293.4 634.7,292.1 635.1,290.0 635.4,291.3 635.8,293.2 636.1,291.6 636.5,293.3 636.8,293.8 637.2,291.0 637.5,292.1 637.9,297.0 638.2,293.0 638.6,291.0 638.9,292.8 639.3,290.0 639.6,295.0 640.0,293.1 640.3,294.1 640.7,293.3 641.0,291.8 641.4,292.6 641.7,290.6 642.1,288.5 642.4,287.5 642.8,288.7 643.1,284.6 643.5,293.3 643.8,286.2 644.2,289.5 644.5,287.0 644.9,285.6 645.2,289.5 645.6,289.1 645.9,289.4 646.3,290.8 646.6,288.5 647.0,290.5 647.3,290.8 647.7,289.1 648.0,289.2 648.4,290.9 648.7,289.9 649.1,290.1 649.4,285.1 649.8,290.0 650.1,290.6 650.5,289.6 650.8,290.6 651.2,293.7 651.5,290.1 651.9,291.3 652.2,288.3 652.6,288.3 652.9,289.0 653.3,288.0 653.6,290.0 654.0,288.2 654.3,289.7 654.7,287.2 655.0,286.8 655.4,288.7 655.7,288.1 656.1,289.1 656.4,289.3 656.8,290.0 657.1,293.0 657.5,293.8 657.8,292.7 658.2,290.7 658.5,294.6 658.9,288.7 659.2,287.9 659.6,292.7 659.9,292.3 660.3,292.2 660.6,292.7 661.0,289.4 661.3,290.4 661.7,295.2 662.0,294.8 662.4,291.3 662.7,296.6 663.1,290.6 663.4,291.6 663.8,293.3 664.1,290.3 664.5,291.7 664.8,292.4 665.2,291.9 665.5,294.5 665.9,293.9 666.2,290.5 666.6,291.4 666.9,293.1 667.3,292.6 667.6,291.1 668.0,293.6 668.3,294.4 668.7,291.5 669.0,294.3 669.4,289.5 669.7,289.5 670.1,293.7 670.4,291.1 670.8,290.7 671.1,292.2 671.5,291.4 671.8,293.4 672.2,289.8 672.5,292.0 672.9,299.0 673.2,292.9 673.6,288.9 673.9,293.9 674.3,293.8 674.6,295.5 675.0,293.0 675.3,291.4 675.7,295.5 676.0,294.1 676.4,289.1 676.7,294.2 677.1,292.3 677.4,294.9 677.8,292.0 678.1,294.3 678.5,293.1 678.8,293.9 679.2,292.7 679.5,291.9 679.9,292.9 680.2,294.0 680.6,293.6 680.9,296.0 681.3,293.6 681.6,294.0 682.0,296.9 682.3,292.9 682.7,293.8 683.0,291.5 683.4,292.8 683.7,296.0 684.1,293.3 684.4,295.6 684.8,290.6 685.1,289.9 685.5,293.3 685.8,290.0 686.2,298.1 686.5,295.2 686.9,290.2 687.2,292.4 687.6,291.6 687.9,293.6 688.3,292.6 688.6,294.6 689.0,295.7 689.3,292.3 689.7,290.4 690.0,293.9 690.4,292.4 690.7,295.0 691.1,292.4 691.4,294.4 691.8,293.4 692.1,292.3 692.5,291.8 692.8,294.2 693.2,297.8 693.5,294.4 693.9,292.5 694.2,294.1 694.6,293.0 694.9,290.2 695.3,293.3 695.6,295.8 696.0,292.1 696.3,290.5 696.7,293.7 697.0,296.4 697.4,294.6 697.7,294.8 698.1,297.3 698.4,296.0 698.8,294.2 699.1,292.3 699.5,293.0 699.8,292.5 700.2,294.4 700.5,291.0 700.9,295.8 701.2,293.0 701.6,291.9 701.9,294.4 702.3,288.6 702.6,291.1 703.0,291.4 703.3,294.4 703.7,291.7 704.0,295.6 704.4,291.8 704.7,293.8 705.1,291.3 705.4,295.0 705.8,292.2 706.1,293.8 706.5,291.7 706.8,290.6 707.2,292.3 707.5,294.9 707.9,290.7 708.2,289.7 708.6,292.1 708.9,294.3 709.3,290.6 709.6,291.6 710.0,293.1 710.3,292.1 710.7,293.3 711.0,294.7 711.4,291.6 711.7,290.7 712.1,291.6 712.4,289.1 712.8,286.6 713.1,285.7 713.5,284.7 713.8,291.5 714.2,288.3 714.5,290.4 714.9,291.4 715.2,288.9 715.6,292.8 715.9,291.1 716.3,288.5 716.6,292.3 717.0,290.6 717.3,292.0 717.7,293.4 718.0,297.3 718.4,291.7 718.7,292.4 719.1,293.4 719.4,293.1 719.8,292.4 720.1,290.5 720.5,290.8 720.8,292.3 721.2,290.3 721.5,291.3 721.9,290.2 722.2,294.9 722.6,289.6 722.9,296.4 723.3,291.5 723.6,290.5 724.0,290.3 724.3,294.2 724.7,294.7 725.0,290.9 725.4,293.3 725.7,292.3 726.1,292.1 726.4,292.9 726.8,294.1 727.1,288.8 727.5,288.1 727.8,293.0 728.2,292.4 728.5,293.9 728.9,289.2 729.2,290.6 729.6,295.6 729.9,289.9 730.3,293.3 730.6,291.0 731.0,291.7 731.3,289.8 731.7,294.9 732.0,288.7 732.4,290.1 732.7,290.7 733.1,294.9 733.4,293.1 733.8,293.9 734.1,292.5 734.5,293.0 734.8,293.5 735.2,295.6 735.5,293.0 735.9,289.5 736.2,294.8 736.6,292.7 736.9,290.3 737.3,292.1 737.6,290.5 738.0,296.6 738.3,291.8 738.7,288.4 739.0,293.0 739.4,290.8 739.7,295.0 740.1,292.7 740.4,288.9 740.8,291.4 741.1,290.2 741.5,290.9 741.8,291.1 742.2,288.4 742.5,292.8 742.9,290.6 743.2,290.6 743.6,293.9 743.9,296.2 744.3,291.1 744.6,296.0 745.0,288.3 745.3,293.5 745.7,291.2 746.0,292.2 746.4,290.4 746.7,291.2 747.1,291.7 747.4,291.6 747.8,293.2 748.1,297.0 748.5,291.1 748.8,292.0 749.2,288.8 749.5,287.3 749.9,295.1 750.2,289.6 750.6,290.8 750.9,292.3 751.3,294.1 751.6,292.9 752.0,296.0 752.3,291.9 752.7,288.6 753.0,292.5 753.4,292.5 753.7,290.6 754.1,291.6 754.4,291.1 754.8,295.7 755.1,291.0 755.5,289.4 755.8,292.8 756.2,288.6 756.5,293.1 756.9,293.0 757.2,290.5 757.6,291.1 757.9,291.0 758.3,295.4 758.6,291.9 759.0,287.5 759.3,286.2 759.7,287.3 760.0,286.2 760.4,283.5 760.7,284.4 761.1,282.8 761.4,286.0 761.8,285.5 762.1,285.1 762.5,286.3 762.8,284.9 763.2,289.2 763.5,288.9 763.9,288.0 764.2,289.7 764.6,289.1 764.9,295.9 765.3,290.0 765.6,292.0 766.0,291.7 766.3,289.4 766.7,291.0 767.0,290.4 767.4,291.6 767.7,291.6 768.1,292.7 768.4,292.8 768.8,290.4 769.1,290.2 769.5,290.1 769.8,289.6 770.2,287.9 770.5,292.6 770.9,291.3 771.2,291.0 771.6,288.2 771.9,288.5 772.3,286.5 772.6,291.4 773.0,292.9 773.3,292.8 773.7,291.5 774.0,289.5 774.4,291.7 774.7,291.8 775.1,293.2 775.4,293.4 775.8,291.3 776.1,291.8 776.5,293.3 776.8,292.9 777.2,291.7 777.5,287.7 777.9,290.7 778.2,293.8 778.6,292.4 778.9,294.1 779.3,291.5 779.6,291.8 780.0,292.3 780.3,291.2 780.7,289.6 781.0,290.1 781.4,289.7 781.7,288.8 782.1,281.8 782.4,283.2 782.8,282.6 783.1,281.6 783.5,278.6 783.8,285.3 784.2,281.5 784.5,284.5 784.9,280.3 785.2,284.9 785.6,286.3 785.9,285.7 786.3,289.9 786.6,294.0 787.0,288.3 787.3,289.1 787.7,294.4 788.0,292.1 788.4,290.4 788.7,288.6 789.1,292.6 789.4,291.7 789.8,294.4 790.1,289.6 790.5,291.1 790.8,290.8 791.2,291.1 791.5,293.7 791.9,293.3 792.2,290.4 792.6,291.6 792.9,291.3 793.3,293.6 793.6,291.6 794.0,289.7 794.3,291.4 794.7,292.0 795.0,294.0 795.4,294.8 795.7,294.9 796.1,293.1 796.4,291.4 796.8,293.6 797.1,292.1 797.5,291.3 797.8,293.2 798.2,293.5 798.5,294.5 798.9,291.0 799.2,289.5 799.6,293.9 799.9,291.0 800.3,295.0 800.6,290.9 801.0,292.0 801.3,289.6 801.7,297.3 802.0,292.4 802.4,293.2 802.7,292.4 803.1,293.0 803.4,294.9 803.8,293.2 804.1,292.6 804.5,294.7 804.8,289.4 805.2,294.0 805.5,294.7 805.9,288.4 806.2,291.4 806.6,288.0 806.9,286.1 807.3,288.3 807.6,290.7 808.0,290.9 808.3,288.4 808.7,287.5 809.0,288.6 809.4,288.4 809.7,288.8 810.1,285.6 810.4,290.2 810.8,290.7 811.1,295.6 811.5,292.9 811.8,291.6 812.2,292.3 812.5,293.1 812.9,291.4 813.2,288.9 813.6,291.9 813.9,293.0 814.3,293.7 814.6,292.0 815.0,291.6 815.3,292.9 815.7,293.6 816.0,294.6 816.4,293.0 816.7,294.3 817.1,291.5 817.4,295.1 817.8,293.4 818.1,290.7 818.5,293.0 818.8,293.7 819.2,291.3 819.5,294.9 819.9,292.8 820.2,294.4 820.6,291.5 820.9,294.1 821.3,294.9 821.6,292.6 822.0,293.1 822.3,292.3 822.7,294.1 823.0,293.5 823.4,294.5 823.7,293.4 824.1,290.9 824.4,290.8 824.8,292.6 825.1,294.4 825.5,298.0 825.8,295.2 826.2,292.2 826.5,289.4 826.9,294.5 827.2,293.5 827.6,291.1 827.9,295.3 828.3,293.5 828.6,292.7 829.0,289.6 829.3,295.4 829.7,293.6 830.0,293.0 830.4,291.6 830.7,292.7 831.1,296.0 831.4,294.5 831.8,297.5 832.1,295.6 832.5,294.2 832.8,295.3 833.2,293.8 833.5,290.6 833.9,292.3 834.2,294.2 834.6,291.6 834.9,292.5 835.3,291.0 835.6,296.9 836.0,290.9 836.3,291.4 836.7,291.7 837.0,295.4 837.4,295.7 837.7,292.4 838.1,294.6 838.4,291.7 838.8,293.5 839.1,298.7 839.5,295.4 839.8,293.4 840.2,290.8 840.5,292.9 840.9,290.9 841.2,289.1 841.6,294.7 841.9,294.7 842.3,293.9 842.6,295.5 843.0,290.2 843.3,296.3 843.7,291.3 844.0,294.3 844.4,294.4 844.7,295.7 845.1,297.5 845.4,294.2 845.8,292.8 846.1,291.3 846.5,294.0 846.8,291.8 847.2,290.8 847.5,293.1 847.9,294.9 848.2,292.1 848.6,289.4 848.9,290.5 849.3,286.5 849.6,284.8 850.0,289.5 850.3,285.8 850.7,288.1 851.0,279.6 851.4,283.0 851.7,279.0 852.1,283.2 852.4,275.8 852.8,273.8 853.1,273.9 853.5,273.3 853.8,272.9 854.2,276.5 854.5,276.9 854.9,278.2 855.2,278.1 855.6,276.8 855.9,277.7 856.3,281.3 856.6,279.3 857.0,285.6 857.3,283.3 857.7,282.7 858.0,287.4 858.4,286.4 858.7,288.8 859.1,285.8 859.4,287.8 859.8,282.5 860.1,277.8 860.5,278.1 860.8,276.8 861.2,280.2 861.5,281.9 861.9,277.2 862.2,274.3 862.6,277.6 862.9,276.4 863.3,274.1 863.6,274.9 864.0,273.7 864.3,271.4 864.7,275.1 865.0,272.7 865.4,271.8 865.7,273.3 866.1,276.9 866.4,277.7 866.8,277.5 867.1,274.8 867.5,274.7 867.8,278.5 868.2,278.6 868.5,280.2 868.9,278.7 869.2,280.4 869.6,281.4 869.9,286.5 870.3,288.5 870.6,286.4 871.0,290.3 871.3,291.9 871.7,290.5 872.0,292.2 872.4,293.8 872.7,290.2 873.1,294.7 873.4,291.8 873.8,292.3 874.1,291.7 874.5,289.2 874.8,292.9 875.2,292.2 875.5,291.4 875.9,291.8 876.2,293.0 876.6,291.9 876.9,291.1 877.3,292.4 877.6,293.7 878.0,292.3 878.3,290.6 878.7,293.9 879.0,291.6 879.4,293.4 879.7,291.9 880.1,290.3 880.4,289.6 880.8,290.4 881.1,291.7 881.5,287.7 881.8,293.0 882.2,294.4 882.5,291.7 882.9,290.0 883.2,288.9 883.6,292.6 883.9,293.0 884.3,292.3 884.6,293.6 885.0,290.8 885.3,291.0 885.7,291.5 886.0,289.9 886.4,290.7 886.7,290.2 887.1,288.1 887.4,286.1 887.8,286.0 888.1,289.0 888.5,283.9 888.8,285.8 889.2,284.1 889.5,291.3 889.9,286.0 890.2,289.1 890.6,286.5 890.9,295.4 891.3,286.9 891.6,290.9 892.0,288.3 892.3,293.0 892.7,289.4 893.0,291.3 893.4,289.0 893.7,291.4 894.1,292.3 894.4,295.8 894.8,287.7 895.1,293.4 895.5,292.4 895.8,291.1 896.2,291.9 896.5,293.2 896.9,292.3 897.2,292.3 897.6,290.9 897.9,291.7 898.3,293.4 898.6,290.6 899.0,291.5 899.3,292.7 899.7,293.2 900.0,293.3 900.4,292.2 900.7,288.5 901.1,294.1 901.4,294.6 901.8,295.0 902.1,293.3 902.5,294.4 902.8,292.1 903.2,290.5 903.5,292.4 903.9,292.3 904.2,294.8 904.6,294.4 904.9,291.8 905.3,292.0 905.6,292.7 906.0,293.0 906.3,295.7 906.7,291.9 907.0,295.5 907.4,290.1 907.7,291.6 908.1,296.3 908.4,293.7 908.8,293.2 909.1,294.1 909.5,292.6 909.8,293.1 910.2,293.5 910.5,293.5 910.9,293.8 911.2,291.9 911.6,293.8 911.9,291.7 912.3,294.3 912.6,292.8 913.0,293.7 913.3,293.7 913.7,291.7 914.0,292.1 914.4,292.9 914.7,294.1 915.1,295.1 915.4,293.2 915.8,291.9 916.1,293.8 916.5,293.3 916.8,294.9 917.2,295.8 917.5,297.3 917.9,290.1 918.2,292.5 918.6,293.3 918.9,295.0 919.3,294.8 919.6,293.6 920.0,295.0 920.3,292.4 920.7,292.8 921.0,294.2 921.4,291.5 921.7,296.7 922.1,292.0 922.4,291.4 922.8,294.3 923.1,289.9 923.5,292.8 923.8,293.4 924.2,296.3 924.5,299.8 924.9,294.1 925.2,291.2 925.6,294.3 925.9,295.1 926.3,292.0 926.6,294.5 927.0,297.0 927.3,294.9 927.7,292.4 928.0,292.8 928.4,290.7 928.7,293.1 929.1,292.8 929.4,296.8 929.8,290.9 930.1,290.9 930.5,294.4 930.8,295.2 931.2,293.0 931.5,294.5 931.9,295.4 932.2,295.6 932.6,294.9 932.9,295.2 933.3,291.1 933.6,295.8 934.0,294.5 934.3,292.6 934.7,293.5 935.0,293.7 935.4,293.2 935.7,294.0 936.1,293.6 936.4,291.5 936.8,298.6 937.1,295.1 937.5,298.8 937.8,293.9 938.2,297.6 938.5,294.2 938.9,297.6 939.2,296.3 939.6,296.0 939.9,294.2 940.3,295.0 940.6,297.2 941.0,290.6 941.3,293.2 941.7,292.1 942.0,292.8 942.4,295.9 942.7,296.3 943.1,294.3 943.4,297.0 943.8,293.3 944.1,293.6 944.5,295.0 944.8,295.6 945.2,294.5 945.5,292.7 945.9,295.8 946.2,297.8 946.6,293.4 946.9,294.0 947.3,291.5 947.6,293.5 948.0,291.4 948.3,293.3 948.7,295.9 949.0,293.6 949.4,290.9 949.7,293.7 950.1,288.4 950.4,294.0 950.8,292.0 951.1,289.0 951.5,290.2 951.8,288.8 952.2,294.4 952.5,291.3 952.9,287.9 953.2,288.4 953.6,289.7 953.9,287.5 954.3,288.4 954.6,288.0 955.0,283.7 955.3,287.1 955.7,288.5 956.0,285.1 956.4,285.0 956.7,282.0 957.1,281.4 957.4,282.3 957.8,279.2 958.1,277.1 958.5,281.2 958.8,277.6 959.2,278.6 959.5,277.7 959.9,277.6 960.2,277.8 960.6,278.4 960.9,277.5 961.3,280.4 961.6,278.7 962.0,280.8 962.3,279.6 962.7,281.7 963.0,280.5 963.4,285.7 963.7,284.3 964.1,282.9 964.4,281.5 964.8,284.3 965.1,289.0 965.5,285.9 965.8,289.8 966.2,288.1 966.5,288.6 966.9,287.8 967.2,291.2 967.6,293.4 967.9,293.6 968.3,293.8 968.6,291.3 969.0,294.3 969.3,292.5 969.7,293.5 970.0,296.4 970.4,294.0 970.7,297.5 971.1,296.3 971.4,300.2 971.8,297.5 972.1,299.2 972.5,300.7 972.8,300.3 973.2,300.8 973.5,296.5 973.9,302.2 974.2,297.6 974.6,299.9 974.9,295.7 975.3,299.2 975.6,297.8 976.0,298.0 976.3,295.8 976.7,296.7 977.0,294.9 977.4,295.6 977.7,297.5 978.1,291.5 978.4,295.7 978.8,295.4 979.1,292.6 979.5,294.7 979.8,298.4 980.2,296.2 980.5,294.3 980.9,296.8 981.2,296.0 981.6,292.7 981.9,294.5 982.3,295.0 982.6,295.1 983.0,295.7 983.3,295.0 983.7,295.0 984.0,293.8 984.4,294.1 984.7,293.7 985.1,295.7 985.4,294.0 985.8,292.5 986.1,294.7 986.5,297.5 986.8,291.9 987.2,294.2 987.5,290.1 987.9,291.0 988.2,291.9 988.6,291.8 988.9,293.3 989.3,287.6 989.6,288.2 990.0,290.2 990.3,289.6 990.7,284.2 991.0,284.5 991.4,285.2 991.7,284.3 992.1,278.6 992.4,279.8 992.8,273.3 993.1,278.5 993.5,278.6 993.8,271.5 994.2,271.9 994.5,269.6 994.9,273.1 995.2,276.8 995.6,278.6 995.9,279.9 996.3,278.0 996.6,280.8 997.0,287.9 997.3,285.5 997.7,285.0 998.0,287.2 998.4,286.3 998.7,288.6 999.1,287.6 999.4,288.6 999.8,287.6 1000.1,295.1 1000.5,293.8 1000.8,294.4 1001.2,295.5 1001.5,293.8 1001.9,292.3 1002.2,295.8 1002.6,296.5 1002.9,296.6 1003.3,295.1 1003.6,293.2 1004.0,298.1 1004.3,297.7 1004.7,297.1 1005.0,297.1 1005.4,297.7 1005.7,297.2 1006.1,295.7 1006.4,298.8 1006.8,298.5 1007.1,300.3 1007.5,299.4 1007.8,301.0 1008.2,298.3 1008.5,302.0 1008.9,305.6 1009.2,301.0 1009.6,302.2 1009.9,302.4 1010.3,301.1 1010.6,300.6 1011.0,296.7 1011.3,298.0 1011.7,302.4 1012.0,299.5 1012.4,299.2 1012.7,302.4 1013.1,294.9 1013.4,300.1 1013.8,299.1 1014.1,293.6" fill="none" stroke="#111" stroke-width="2.6" stroke-linejoin="round"/><path d="M559.2,411.3 559.7,410.1 560.1,409.8 560.6,408.0 561.0,409.6 561.5,409.7 561.9,410.0 562.4,409.6 562.8,410.2 563.3,409.9 563.7,409.1 564.2,411.4 564.6,411.5 565.1,412.4 565.5,410.9 566.0,410.5 566.4,410.5 566.9,409.6 567.3,412.2 567.8,410.2 568.2,410.2 568.7,411.3 569.1,413.1 569.6,411.9 570.0,410.8 570.5,411.2 570.9,412.6 571.4,411.9 571.8,411.4 572.3,412.0 572.7,413.1 573.2,414.4 573.6,411.3 574.1,412.0 574.5,412.0 575.0,410.4 575.4,412.0 575.9,412.0 576.3,414.3 576.8,413.1 577.2,411.7 577.7,414.1 578.1,413.2 578.6,411.9 579.0,413.1 579.5,413.2 579.9,413.1 580.4,414.1 580.8,411.9 581.3,414.0 581.7,415.3 582.2,415.2 582.6,415.4 583.1,415.4 583.5,415.8 584.0,413.2 584.4,415.2 584.9,412.5 585.3,413.7 585.8,412.4 586.2,415.4 586.7,415.7 587.1,414.2 587.6,416.1 588.0,413.7 588.5,414.5 588.9,414.5 589.4,413.3 589.8,414.8 590.3,416.3 590.7,413.4 591.2,415.3 591.6,414.2 592.1,416.2 592.5,414.9 593.0,415.1 593.4,415.1 593.9,414.7 594.3,413.0 594.8,415.8 595.2,413.1 595.7,414.7 596.1,415.0 596.6,413.6 597.0,414.6 597.5,415.6 597.9,414.4 598.4,413.6 598.8,411.5 599.3,413.5 599.7,413.9 600.2,414.0 600.6,413.5 601.1,414.9 601.5,413.9 602.0,414.4 602.4,415.2 602.9,413.6 603.3,414.2 603.8,416.7 604.2,415.4 604.7,413.2 605.1,414.4 605.6,415.1 606.0,415.8 606.5,414.7 606.9,414.0 607.4,413.8 607.8,415.2 608.3,414.9 608.7,414.0 609.2,414.4 609.6,414.1 610.1,415.3 610.5,413.9 611.0,415.0 611.4,415.4 611.9,415.1 612.3,413.7 612.8,415.9 613.2,413.9 613.7,415.0 614.1,413.8 614.6,412.8 615.0,414.8 615.5,414.9 615.9,414.5 616.4,414.9 616.8,414.0 617.3,413.9 617.7,414.5 618.2,416.5 618.6,415.4 619.1,414.1 619.5,415.2 620.0,414.2 620.4,414.2 620.9,415.5 621.3,414.1 621.8,413.0 622.2,413.8 622.7,414.8 623.1,414.8 623.6,415.9 624.0,414.0 624.5,415.4 624.9,415.1 625.4,414.5 625.8,415.5 626.3,415.2 626.7,413.8 627.2,415.8 627.6,413.5 628.1,414.8 628.5,414.7 629.0,415.1 629.4,414.0 629.9,414.7 630.3,414.6 630.8,415.7 631.2,413.9 631.7,414.8 632.1,414.5 632.6,413.5 633.0,417.4 633.5,414.7 633.9,413.3 634.4,416.2 634.8,413.7 635.3,415.1 635.7,415.6 636.2,414.1 636.6,414.4 637.1,414.2 637.5,414.7 638.0,413.2 638.4,413.6 638.9,414.7 639.3,415.8 639.8,415.4 640.2,416.5 640.7,415.5 641.1,414.3 641.6,414.7 642.0,412.8 642.5,413.5 642.9,412.6 643.4,413.0 643.8,413.0 644.3,412.1 644.7,412.3 645.2,411.7 645.6,413.4 646.1,414.1 646.5,414.6 647.0,413.7 647.4,416.7 647.9,416.0 648.3,414.7 648.8,414.3 649.2,414.5 649.7,415.0 650.1,414.8 650.6,415.3 651.0,415.6 651.5,416.2 651.9,416.0 652.4,414.7 652.8,415.2 653.3,414.4 653.7,414.2 654.2,416.7 654.6,414.4 655.1,416.8 655.5,414.5 656.0,415.1 656.4,415.9 656.9,414.9 657.3,415.2 657.8,414.6 658.2,414.4 658.7,414.7 659.1,414.2 659.6,416.5 660.0,414.7 660.5,416.6 660.9,412.1 661.4,414.9 661.8,415.4 662.3,414.5 662.7,415.9 663.2,415.5 663.6,414.6 664.1,415.3 664.5,417.6 665.0,415.1 665.4,415.1 665.9,414.4 666.3,415.0 666.8,413.5 667.2,414.6 667.7,417.3 668.1,415.9 668.6,415.5 669.0,415.9 669.5,416.7 669.9,415.4 670.4,416.9 670.8,415.9 671.3,415.0 671.7,416.6 672.2,412.5 672.6,414.3 673.1,415.1 673.5,413.9 674.0,414.7 674.4,414.2 674.9,414.2 675.3,417.5 675.8,415.5 676.2,414.8 676.7,416.1 677.1,414.6 677.6,415.7 678.0,415.2 678.5,416.5 678.9,413.4 679.4,415.6 679.8,415.0 680.3,413.7 680.7,415.9 681.2,414.0 681.6,416.5 682.1,415.3 682.5,415.5 683.0,414.9 683.4,415.7 683.9,413.0 684.3,414.9 684.8,414.2 685.2,415.1 685.7,414.8 686.1,415.5 686.6,414.0 687.0,416.7 687.5,417.2 687.9,414.6 688.4,414.8 688.8,415.1 689.3,416.1 689.7,416.7 690.2,413.6 690.6,414.2 691.1,413.8 691.5,413.7 692.0,413.2 692.4,415.2 692.9,413.7 693.3,416.3 693.8,415.7 694.2,413.8 694.7,413.8 695.1,414.2 695.6,416.2 696.0,414.0 696.5,413.3 696.9,414.8 697.4,415.2 697.8,414.2 698.3,416.5 698.7,415.1 699.2,415.3 699.6,414.0 700.1,414.8 700.5,414.7 701.0,412.6 701.4,415.1 701.9,413.0 702.3,414.8 702.8,413.4 703.2,416.9 703.7,415.2 704.1,415.7 704.6,415.8 705.0,413.5 705.5,412.6 705.9,414.5 706.4,415.7 706.8,414.9 707.3,415.6 707.7,415.8 708.2,413.3 708.6,415.1 709.1,416.8 709.5,414.3 710.0,412.8 710.4,414.6 710.9,414.4 711.3,415.3 711.8,413.9 712.2,414.9 712.7,412.6 713.1,415.7 713.6,416.4 714.0,416.1 714.5,413.3 714.9,415.2 715.4,411.9 715.8,415.1 716.3,414.8 716.7,413.8 717.2,415.2 717.6,415.0 718.1,415.8 718.5,415.0 719.0,415.1 719.4,412.9 719.9,413.7 720.3,414.4 720.8,415.1 721.2,414.8 721.7,416.3 722.1,414.0 722.6,414.6 723.0,415.1 723.5,414.6 723.9,415.3 724.4,414.3 724.8,416.3 725.3,414.5 725.7,416.0 726.2,414.8 726.6,416.3 727.1,413.4 727.5,415.4 728.0,414.4 728.4,415.1 728.9,416.0 729.3,413.7 729.8,413.5 730.2,413.8 730.7,415.1 731.1,412.9 731.6,414.9 732.0,413.5 732.5,413.7 732.9,414.5 733.4,415.2 733.8,414.2 734.3,414.3 734.7,414.8 735.2,414.6 735.6,412.2 736.1,414.4 736.5,414.9 737.0,415.9 737.4,416.9 737.9,415.5 738.3,414.9 738.8,413.9 739.2,414.9 739.7,415.6 740.1,416.1 740.6,414.0 741.0,415.1 741.5,415.7 741.9,416.7 742.4,415.1 742.8,414.3 743.3,414.1 743.7,414.5 744.2,414.2 744.6,415.7 745.1,415.9 745.5,415.6 746.0,416.0 746.4,414.4 746.9,415.2 747.3,414.5 747.8,414.9 748.2,416.1 748.7,414.8 749.1,413.0 749.6,414.6 750.0,414.1 750.5,413.3 750.9,414.0 751.4,415.8 751.8,416.5 752.3,414.3 752.7,415.8 753.2,416.0 753.6,413.7 754.1,414.8 754.5,414.8 755.0,415.0 755.4,413.2 755.9,414.5 756.3,415.9 756.8,416.1 757.2,416.7 757.7,414.5 758.1,416.7 758.6,415.5 759.0,413.5 759.5,415.6 759.9,414.5 760.4,415.4 760.8,414.7 761.3,416.0 761.7,415.1 762.2,414.6 762.6,415.8 763.1,415.1 763.5,414.4 764.0,416.1 764.4,414.4 764.9,414.2 765.3,414.3 765.8,413.4 766.2,414.3 766.7,416.7 767.1,413.9 767.6,414.8 768.0,413.7 768.5,414.2 768.9,416.4 769.4,415.7 769.8,414.2 770.3,414.8 770.7,414.0 771.2,414.1 771.6,413.9 772.1,413.9 772.5,415.2 773.0,415.4 773.4,415.3 773.9,414.7 774.3,413.5 774.8,414.8 775.2,413.9 775.7,415.7 776.1,415.4 776.6,415.6 777.0,414.5 777.5,413.0 777.9,415.8 778.4,416.1 778.8,413.4 779.3,415.0 779.7,416.0 780.2,413.8 780.6,416.6 781.1,414.5 781.5,413.8 782.0,416.2 782.4,414.7 782.9,413.2 783.3,414.2 783.8,410.8 784.2,414.1 784.7,410.9 785.1,412.4 785.6,412.3 786.0,413.7 786.5,414.7 786.9,413.5 787.4,415.6 787.8,414.5 788.3,414.1 788.7,414.6 789.2,413.8 789.6,414.0 790.1,415.8 790.5,414.7 791.0,416.0 791.4,415.3 791.9,413.8 792.3,412.9 792.8,414.1 793.2,415.1 793.7,414.8 794.1,414.0 794.6,415.8 795.0,413.1 795.5,413.6 795.9,415.0 796.4,417.0 796.8,415.2 797.3,413.8 797.7,415.4 798.2,415.5 798.6,415.8 799.1,414.4 799.5,414.0 800.0,415.0 800.4,415.3 800.9,416.4 801.3,416.9 801.8,414.1 802.2,414.3 802.7,414.8 803.1,414.6 803.6,415.3 804.0,415.3 804.5,415.1 804.9,416.2 805.4,414.7 805.8,413.8 806.3,413.3 806.7,413.8 807.2,413.8 807.6,413.0 808.1,415.5 808.5,415.0 809.0,414.4 809.4,413.9 809.9,413.3 810.3,413.9 810.8,416.7 811.2,412.6 811.7,415.0 812.1,415.6 812.6,415.0 813.0,414.5 813.5,415.6 813.9,413.7 814.4,415.4 814.8,416.3 815.3,413.8 815.7,414.0 816.2,415.0 816.6,415.8 817.1,416.2 817.5,415.5 818.0,414.2 818.4,413.7 818.9,415.1 819.3,415.2 819.8,413.7 820.2,414.9 820.7,415.2 821.1,415.9 821.6,413.8 822.0,415.4 822.5,413.7 822.9,414.4 823.4,414.8 823.8,416.4 824.3,418.1 824.7,415.1 825.2,415.3 825.6,415.8 826.1,413.5 826.5,415.6 827.0,413.6 827.4,416.5 827.9,416.3 828.3,415.3 828.8,414.0 829.2,416.5 829.7,415.1 830.1,414.9 830.6,415.4 831.0,413.1 831.5,415.3 831.9,415.8 832.4,415.2 832.8,415.0 833.3,413.9 833.7,415.5 834.2,415.0 834.6,414.8 835.1,414.3 835.5,415.7 836.0,416.1 836.4,415.2 836.9,415.7 837.3,416.2 837.8,416.4 838.2,415.1 838.7,414.6 839.1,414.4 839.6,414.8 840.0,415.4 840.5,415.8 840.9,414.4 841.4,415.0 841.8,413.8 842.3,416.1 842.7,414.4 843.2,415.2 843.6,414.1 844.1,414.5 844.5,414.1 845.0,416.5 845.4,415.2 845.9,414.7 846.3,413.9 846.8,414.2 847.2,415.4 847.7,416.5 848.1,413.4 848.6,413.9 849.0,414.7 849.5,414.2 849.9,413.2 850.4,414.9 850.8,415.6 851.3,413.3 851.7,415.0 852.2,415.8 852.6,415.8 853.1,414.4 853.5,417.1 854.0,415.4 854.4,414.0 854.9,415.8 855.3,413.7 855.8,415.7 856.2,412.8 856.7,413.8 857.1,411.3 857.6,411.8 858.0,410.3 858.5,408.9 858.9,407.4 859.4,407.3 859.8,403.3 860.3,404.4 860.7,403.2 861.2,402.3 861.6,401.8 862.1,404.0 862.5,399.7 863.0,399.7 863.4,398.4 863.9,399.1 864.3,394.8 864.8,397.9 865.2,395.0 865.7,394.5 866.1,396.6 866.6,398.5 867.0,399.9 867.5,400.6 867.9,402.5 868.4,402.6 868.8,403.6 869.3,402.4 869.7,405.8 870.2,407.1 870.6,406.4 871.1,405.7 871.5,407.0 872.0,410.7 872.4,409.2 872.9,409.9 873.3,409.5 873.8,410.1 874.2,408.0 874.7,406.8 875.1,405.3 875.6,405.8 876.0,406.0 876.5,403.9 876.9,404.0 877.4,403.7 877.8,404.4 878.3,405.2 878.7,405.8 879.2,407.6 879.6,407.8 880.1,407.5 880.5,408.9 881.0,409.5 881.4,410.2 881.9,410.1 882.3,410.6 882.8,408.9 883.2,410.9 883.7,412.1 884.1,409.6 884.6,412.8 885.0,411.7 885.5,411.3 885.9,410.0 886.4,413.0 886.8,411.2 887.3,411.8 887.7,413.1 888.2,411.7 888.6,412.0 889.1,412.0 889.5,413.2 890.0,414.1 890.4,414.2 890.9,414.4 891.3,413.8 891.8,414.5 892.2,413.9 892.7,416.8 893.1,414.9 893.6,412.4 894.0,413.1 894.5,415.5 894.9,412.2 895.4,412.9 895.8,413.5 896.3,411.7 896.7,413.6 897.2,413.9 897.6,411.1 898.1,412.8 898.5,410.5 899.0,410.2 899.4,411.1 899.9,410.9 900.3,409.8 900.8,410.9 901.2,409.0 901.7,410.1 902.1,410.2 902.6,412.5 903.0,412.9 903.5,413.2 903.9,411.6 904.4,413.5 904.8,414.2 905.3,412.5 905.7,413.7 906.2,415.5 906.6,415.6 907.1,415.2 907.5,415.5 908.0,415.4 908.4,415.2 908.9,415.0 909.3,414.3 909.8,415.0 910.2,414.9 910.7,417.6 911.1,415.6 911.6,415.4 912.0,415.2 912.5,415.4 912.9,415.3 913.4,416.1 913.8,415.6 914.3,416.5 914.7,415.0 915.2,416.1 915.6,416.7 916.1,414.7 916.5,416.1 917.0,416.2 917.4,415.6 917.9,415.5 918.3,414.2 918.8,417.3 919.2,415.2 919.7,413.8 920.1,414.6 920.6,410.9 921.0,412.6 921.5,411.0 921.9,410.1 922.4,409.2 922.8,408.0 923.3,407.2 923.7,410.4 924.2,408.3 924.6,408.1 925.1,410.1 925.5,407.7 926.0,408.0 926.4,407.8 926.9,407.8 927.3,406.7 927.8,407.0 928.2,408.7 928.7,408.0 929.1,404.2 929.6,405.0 930.0,407.3 930.5,407.0 930.9,406.9 931.4,408.4 931.8,405.7 932.3,408.8 932.7,407.8 933.2,408.4 933.6,408.2 934.1,408.9 934.5,407.9 935.0,407.8 935.4,409.2 935.9,408.7 936.3,407.4 936.8,410.1 937.2,410.1 937.7,410.5 938.1,409.3 938.6,409.7 939.0,409.1 939.5,408.7 939.9,409.8 940.4,410.1 940.8,409.4 941.3,412.1 941.7,408.8 942.2,409.7 942.6,410.0 943.1,412.1 943.5,410.7 944.0,410.8 944.4,410.4 944.9,410.7 945.3,410.3 945.8,412.8 946.2,412.5 946.7,413.1 947.1,411.6 947.6,415.0 948.0,411.6 948.5,410.7 948.9,412.7 949.4,413.3 949.8,414.1 950.3,412.5 950.7,412.2 951.2,411.1 951.6,406.3 952.1,404.1 952.5,402.1 953.0,403.3 953.4,403.3 953.9,402.5 954.3,401.9 954.8,401.8 955.2,399.9 955.7,400.0 956.1,397.4 956.6,396.9 957.0,397.3 957.5,395.6 957.9,397.4 958.4,398.7 958.8,398.1 959.3,397.4 959.7,397.9 960.2,400.5 960.6,398.7 961.1,400.1 961.5,400.2 962.0,401.2 962.4,402.9 962.9,401.9 963.3,401.7 963.8,405.2 964.2,404.6 964.7,405.7 965.1,405.6 965.6,407.1 966.0,408.2 966.5,408.9 966.9,407.9 967.4,408.5 967.8,409.9 968.3,410.4 968.7,411.4 969.2,410.7 969.6,408.1 970.1,408.9 970.5,407.3 971.0,405.2 971.4,404.3 971.9,401.6 972.3,400.7 972.8,402.9 973.2,402.8 973.7,405.0 974.1,404.9 974.6,406.0 975.0,405.1 975.5,404.2 975.9,401.9 976.4,402.7 976.8,399.6 977.3,401.7 977.7,401.4 978.2,401.7 978.6,399.4 979.1,398.6 979.5,398.1 980.0,401.9 980.4,398.8 980.9,401.4 981.3,398.5 981.8,401.1 982.2,402.1 982.7,401.8 983.1,401.0 983.6,399.8 984.0,399.2 984.5,400.7 984.9,399.7 985.4,398.6 985.8,398.5 986.3,397.0 986.7,398.5 987.2,398.3 987.6,395.8 988.1,396.8 988.5,398.2 989.0,396.9 989.4,400.0 989.9,400.0 990.3,398.6 990.8,398.4 991.2,397.1 991.7,392.2 992.1,392.0 992.6,389.2 993.0,387.1 993.5,388.7 993.9,388.4 994.4,388.4 994.8,389.2 995.3,391.5 995.7,393.1 996.2,393.3 996.6,394.1 997.1,395.2 997.5,397.8 998.0,398.4 998.4,398.5 998.9,400.3 999.3,403.2 999.8,402.7 1000.2,404.3 1000.7,406.0 1001.1,405.2 1001.6,405.0 1002.0,399.7 1002.5,401.2 1002.9,397.1 1003.4,394.2 1003.8,393.5 1004.3,389.4 1004.7,389.5 1005.2,389.4 1005.6,389.3 1006.1,390.7 1006.5,393.3 1007.0,393.0 1007.4,394.9 1007.9,396.5 1008.3,399.0 1008.8,398.2 1009.2,399.9 1009.7,402.2 1010.1,399.7 1010.6,403.2 1011.0,402.8 1011.5,404.1 1011.9,409.1 1012.4,408.5 1012.8,411.0" fill="none" stroke="#111" stroke-width="2.7" stroke-linejoin="round"/><path d="M556.3,537.6 556.6,539.0 556.8,534.5 557.1,539.6 557.3,536.2 557.6,532.7 557.8,535.5 558.1,539.3 558.3,538.5 558.6,534.0 558.8,539.3 559.1,537.2 559.3,538.7 559.6,538.5 559.8,534.0 560.1,538.5 560.3,535.7 560.6,542.1 560.8,539.6 561.1,537.6 561.3,534.5 561.6,537.6 561.8,538.0 562.1,533.8 562.3,544.1 562.6,538.7 562.8,542.5 563.1,534.1 563.3,542.4 563.6,533.4 563.8,535.5 564.1,539.1 564.3,537.6 564.6,530.4 564.8,534.2 565.1,540.0 565.3,543.7 565.6,540.2 565.8,536.6 566.1,539.9 566.3,534.0 566.6,539.0 566.8,533.4 567.1,537.4 567.3,537.1 567.6,539.9 567.8,536.6 568.1,541.1 568.3,536.9 568.6,540.0 568.8,539.8 569.1,531.9 569.3,537.6 569.6,537.6 569.8,535.1 570.1,538.0 570.3,533.1 570.6,539.1 570.8,539.0 571.1,538.4 571.3,544.9 571.6,538.5 571.8,537.7 572.1,535.3 572.3,538.4 572.6,534.6 572.8,541.3 573.1,535.5 573.3,537.9 573.6,543.4 573.8,541.0 574.1,538.2 574.3,541.6 574.6,537.3 574.8,539.9 575.1,537.5 575.3,534.8 575.6,538.8 575.8,540.3 576.1,536.4 576.3,534.2 576.6,535.9 576.8,530.3 577.1,535.6 577.3,534.2 577.6,543.5 577.8,535.8 578.1,532.8 578.3,540.1 578.6,536.9 578.8,537.6 579.1,538.0 579.3,538.1 579.6,536.3 579.8,540.3 580.1,539.0 580.3,536.0 580.6,537.0 580.8,534.6 581.1,538.3 581.3,539.7 581.6,539.4 581.8,539.3 582.1,537.1 582.3,542.2 582.6,536.9 582.8,537.6 583.1,536.5 583.3,537.7 583.6,536.8 583.8,543.6 584.1,538.7 584.3,532.4 584.6,536.1 584.8,532.7 585.1,539.2 585.3,540.2 585.6,534.3 585.8,537.1 586.1,534.2 586.3,535.7 586.6,539.2 586.8,532.6 587.1,529.5 587.3,534.9 587.6,533.9 587.8,534.0 588.1,534.6 588.3,529.1 588.6,524.8 588.8,533.4 589.1,528.2 589.3,524.4 589.6,523.1 589.8,528.5 590.1,524.3 590.3,523.2 590.6,523.4 590.8,517.4 591.1,514.6 591.3,514.0 591.6,511.8 591.8,512.9 592.1,510.8 592.3,514.1 592.6,513.1 592.8,514.8 593.1,517.5 593.3,520.3 593.6,521.3 593.8,517.5 594.1,518.4 594.3,516.7 594.6,521.8 594.8,523.9 595.1,518.1 595.3,522.7 595.6,519.9 595.8,520.9 596.1,522.5 596.3,521.3 596.6,525.5 596.8,518.5 597.1,521.1 597.3,523.1 597.6,520.5 597.8,524.9 598.1,519.5 598.3,524.4 598.6,520.1 598.8,524.2 599.1,526.4 599.3,531.7 599.6,528.5 599.8,530.4 600.1,525.9 600.3,532.3 600.6,525.4 600.8,525.6 601.1,522.7 601.3,527.4 601.6,530.1 601.8,525.3 602.1,526.3 602.3,526.2 602.6,526.8 602.8,526.2 603.1,524.2 603.3,532.6 603.6,522.7 603.8,526.1 604.1,530.1 604.3,532.3 604.6,528.8 604.8,528.8 605.1,530.0 605.3,529.3 605.6,532.8 605.8,528.8 606.1,527.4 606.3,529.0 606.6,530.8 606.8,534.3 607.1,535.5 607.3,529.6 607.6,526.5 607.8,526.9 608.1,537.5 608.3,530.0 608.6,532.7 608.8,537.1 609.1,529.4 609.3,531.0 609.6,529.9 609.8,528.5 610.1,534.3 610.3,535.1 610.6,526.4 610.8,535.1 611.1,531.5 611.3,532.9 611.6,533.0 611.8,528.6 612.1,531.7 612.3,529.7 612.6,538.5 612.8,539.4 613.1,533.2 613.3,529.5 613.6,536.6 613.8,532.7 614.1,538.6 614.3,539.4 614.6,538.6 614.8,532.4 615.1,530.7 615.3,531.8 615.6,533.6 615.8,531.2 616.1,537.7 616.3,536.2 616.6,534.2 616.8,533.2 617.1,536.4 617.3,538.6 617.6,528.6 617.8,535.0 618.1,533.4 618.3,532.0 618.6,533.1 618.8,534.5 619.1,539.6 619.3,534.1 619.6,532.6 619.8,530.2 620.1,536.1 620.3,531.5 620.6,533.3 620.8,535.7 621.1,533.7 621.3,532.3 621.6,532.9 621.8,536.0 622.1,533.2 622.3,533.9 622.6,534.4 622.8,532.1 623.1,534.0 623.3,532.1 623.6,536.3 623.8,534.3 624.1,527.6 624.3,532.1 624.6,536.0 624.8,531.9 625.1,531.3 625.3,535.4 625.6,529.2 625.8,532.5 626.1,534.0 626.3,534.8 626.6,529.0 626.8,528.3 627.1,536.5 627.3,529.6 627.6,531.6 627.8,539.1 628.1,530.4 628.3,525.1 628.6,540.0 628.8,534.6 629.1,532.6 629.3,539.6 629.6,530.8 629.8,535.1 630.1,530.5 630.3,529.4 630.6,531.9 630.8,532.4 631.1,533.3 631.3,532.8 631.6,527.5 631.8,528.5 632.1,534.3 632.3,530.1 632.6,528.3 632.8,531.8 633.1,531.7 633.3,531.1 633.6,525.3 633.8,525.6 634.1,528.7 634.3,529.8 634.6,522.4 634.8,524.4 635.1,525.0 635.3,528.9 635.6,522.8 635.8,534.4 636.1,526.7 636.3,528.5 636.6,533.5 636.8,528.9 637.1,529.5 637.3,526.9 637.6,529.0 637.8,524.6 638.1,527.7 638.3,528.3 638.6,525.4 638.8,531.6 639.1,530.1 639.3,523.3 639.6,531.5 639.8,526.5 640.1,531.2 640.3,527.3 640.6,528.8 640.8,531.3 641.1,536.0 641.3,525.7 641.6,529.3 641.8,529.5 642.1,533.9 642.3,529.9 642.6,532.0 642.8,534.9 643.1,533.3 643.3,529.9 643.6,529.9 643.8,530.5 644.1,531.9 644.3,528.9 644.6,531.5 644.8,533.5 645.1,530.4 645.3,530.5 645.6,532.9 645.8,534.5 646.1,528.2 646.3,529.4 646.6,536.3 646.8,532.5 647.1,529.4 647.3,533.1 647.6,537.6 647.8,531.1 648.1,530.2 648.3,532.4 648.6,538.1 648.8,531.4 649.1,535.1 649.3,536.6 649.6,535.5 649.8,532.8 650.1,535.8 650.3,534.5 650.6,536.5 650.8,535.4 651.1,534.7 651.3,529.2 651.6,536.4 651.8,534.3 652.1,528.5 652.3,534.7 652.6,535.8 652.8,534.7 653.1,527.8 653.3,533.1 653.6,532.5 653.8,534.5 654.1,528.7 654.3,536.5 654.6,537.4 654.8,537.6 655.1,535.8 655.3,535.8 655.6,539.2 655.8,537.6 656.1,535.1 656.3,537.4 656.6,538.7 656.8,540.3 657.1,538.2 657.3,534.6 657.6,535.6 657.8,537.8 658.1,538.2 658.3,540.4 658.6,531.8 658.8,535.4 659.1,534.1 659.3,540.7 659.6,539.8 659.8,538.5 660.1,539.9 660.3,535.8 660.6,539.1 660.8,537.7 661.1,537.8 661.3,537.1 661.6,540.4 661.8,540.7 662.1,533.3 662.3,535.9 662.6,537.8 662.8,539.2 663.1,532.7 663.3,534.8 663.6,536.6 663.8,542.7 664.1,534.9 664.3,536.3 664.6,537.4 664.8,537.2 665.1,538.0 665.3,537.4 665.6,536.9 665.8,538.3 666.1,538.3 666.3,538.6 666.6,538.7 666.8,534.0 667.1,538.0 667.3,537.9 667.6,539.8 667.8,539.6 668.1,542.1 668.3,535.1 668.6,537.1 668.8,538.1 669.1,535.6 669.3,536.7 669.6,536.4 669.8,536.1 670.1,544.3 670.3,537.3 670.6,541.9 670.8,535.0 671.1,538.4 671.3,535.6 671.6,538.5 671.8,542.5 672.1,543.3 672.3,540.0 672.6,538.9 672.8,537.6 673.1,538.7 673.3,541.6 673.6,532.7 673.8,536.5 674.1,534.4 674.3,540.1 674.6,533.3 674.8,539.3 675.1,533.2 675.3,533.3 675.6,540.8 675.8,539.2 676.1,533.4 676.3,530.8 676.6,533.0 676.8,537.4 677.1,535.4 677.3,532.6 677.6,536.8 677.8,539.1 678.1,531.6 678.3,534.5 678.6,532.2 678.8,537.7 679.1,534.6 679.3,532.2 679.6,529.1 679.8,535.9 680.1,532.9 680.3,534.0 680.6,532.9 680.8,534.5 681.1,528.0 681.3,530.6 681.6,533.8 681.8,538.1 682.1,533.5 682.3,532.2 682.6,530.4 682.8,530.1 683.1,531.3 683.3,529.5 683.6,532.0 683.8,531.6 684.1,537.3 684.3,531.0 684.6,534.4 684.8,529.7 685.1,533.6 685.3,537.9 685.6,528.8 685.8,527.0 686.1,533.4 686.3,530.3 686.6,529.2 686.8,531.2 687.1,530.6 687.3,533.2 687.6,530.7 687.8,527.6 688.1,525.8 688.3,523.8 688.6,525.6 688.8,532.0 689.1,524.3 689.3,528.5 689.6,531.9 689.8,529.8 690.1,532.5 690.3,530.0 690.6,532.3 690.8,525.8 691.1,524.9 691.3,533.0 691.6,528.6 691.8,528.1 692.1,526.5 692.3,533.2 692.6,530.2 692.8,530.6 693.1,527.5 693.3,530.0 693.6,528.8 693.8,530.0 694.1,531.6 694.3,529.4 694.6,528.8 694.8,533.9 695.1,528.9 695.3,536.3 695.6,537.1 695.8,528.7 696.1,537.9 696.3,531.0 696.6,537.7 696.8,532.3 697.1,536.7 697.3,531.4 697.6,536.2 697.8,534.4 698.1,538.6 698.3,536.0 698.6,530.8 698.8,534.2 699.1,531.1 699.3,533.4 699.6,537.2 699.8,537.1 700.1,532.7 700.3,529.6 700.6,532.1 700.8,537.8 701.1,531.0 701.3,526.9 701.6,526.9 701.8,527.2 702.1,533.8 702.3,529.3 702.6,527.9 702.8,531.0 703.1,532.6 703.3,529.1 703.6,526.9 703.8,529.7 704.1,531.3 704.3,523.7 704.6,524.3 704.8,534.2 705.1,529.3 705.3,528.9 705.6,523.4 705.8,524.4 706.1,526.4 706.3,530.7 706.6,527.0 706.8,521.7 707.1,530.9 707.3,530.8 707.6,528.5 707.8,522.4 708.1,523.5 708.3,524.5 708.6,525.4 708.8,530.2 709.1,520.6 709.3,522.3 709.6,524.1 709.8,522.3 710.1,522.2 710.3,519.1 710.6,523.4 710.8,522.5 711.1,524.3 711.3,526.8 711.6,523.5 711.8,524.2 712.1,525.7 712.3,523.8 712.6,526.0 712.8,520.5 713.1,523.5 713.3,527.8 713.6,527.2 713.8,529.3 714.1,523.2 714.3,525.8 714.6,527.4 714.8,527.7 715.1,527.6 715.3,532.7 715.6,527.4 715.8,528.1 716.1,530.9 716.3,531.0 716.6,530.3 716.8,535.1 717.1,532.1 717.3,530.1 717.6,528.2 717.8,534.9 718.1,529.7 718.3,532.8 718.6,530.2 718.8,538.2 719.1,534.2 719.3,527.0 719.6,533.2 719.8,528.3 720.1,530.9 720.3,535.1 720.6,529.0 720.8,533.9 721.1,532.8 721.3,535.4 721.6,530.4 721.8,535.2 722.1,532.5 722.3,536.7 722.6,533.9 722.8,535.8 723.1,538.0 723.3,537.4 723.6,534.2 723.8,536.5 724.1,534.5 724.3,535.9 724.6,539.6 724.8,532.3 725.1,531.5 725.3,536.5 725.6,533.6 725.8,539.0 726.1,538.0 726.3,537.5 726.6,535.7 726.8,534.5 727.1,533.4 727.3,534.5 727.6,536.1 727.8,533.5 728.1,539.5 728.3,538.5 728.6,532.8 728.8,528.9 729.1,540.3 729.3,533.5 729.6,528.7 729.8,532.4 730.1,538.1 730.3,541.6 730.6,540.5 730.8,542.3 731.1,543.3 731.3,543.7 731.6,535.4 731.8,537.9 732.1,536.7 732.3,538.8 732.6,537.8 732.8,539.7 733.1,544.4 733.3,536.8 733.6,541.1 733.8,536.0 734.1,535.1 734.3,541.9 734.6,538.5 734.8,539.1 735.1,543.2 735.3,534.9 735.6,539.0 735.8,543.2 736.1,535.7 736.3,539.6 736.6,541.5 736.8,541.5 737.1,540.8 737.3,541.6 737.6,540.2 737.8,541.1 738.1,539.9 738.3,536.0 738.6,539.0 738.8,538.3 739.1,542.0 739.3,540.2 739.6,540.2 739.8,539.2 740.1,540.6 740.3,537.0 740.6,539.4 740.8,536.6 741.1,537.5 741.3,535.3 741.6,545.2 741.8,540.4 742.1,535.7 742.3,537.4 742.6,539.5 742.8,537.2 743.1,540.7 743.3,539.8 743.6,541.9 743.8,530.0 744.1,540.7 744.3,539.1 744.6,541.4 744.8,536.7 745.1,536.2 745.3,535.0 745.6,539.8 745.8,538.8 746.1,533.3 746.3,536.6 746.6,538.2 746.8,534.7 747.1,537.2 747.3,537.9 747.6,536.6 747.8,533.4 748.1,541.6 748.3,538.9 748.6,539.2 748.8,536.5 749.1,538.7 749.3,536.1 749.6,537.8 749.8,538.5 750.1,539.9 750.3,536.4 750.6,535.8 750.8,541.8 751.1,534.0 751.3,538.6 751.6,537.7 751.8,540.1 752.1,536.7 752.3,534.9 752.6,538.3 752.8,534.0 753.1,534.8 753.3,537.9 753.6,538.3 753.8,533.6 754.1,541.7 754.3,537.8 754.6,541.6 754.8,541.1 755.1,538.0 755.3,536.6 755.6,533.6 755.8,540.8 756.1,542.4 756.3,538.3 756.6,538.0 756.8,535.1 757.1,534.8 757.3,537.4 757.6,541.3 757.8,536.9 758.1,540.3 758.3,538.9 758.6,537.4 758.8,535.2 759.1,536.6 759.3,534.1 759.6,540.2 759.8,539.1 760.1,534.8 760.3,535.6 760.6,533.7 760.8,538.1 761.1,539.4 761.3,535.0 761.6,536.3 761.8,538.7 762.1,532.7 762.3,538.2 762.6,542.2 762.8,542.3 763.1,537.1 763.3,537.3 763.6,539.6 763.8,539.3 764.1,541.6 764.3,538.0 764.6,538.2 764.8,538.1 765.1,542.1 765.3,534.3 765.6,540.9 765.8,537.8 766.1,537.9 766.3,534.6 766.6,536.9 766.8,534.3 767.1,529.3 767.3,537.6 767.6,532.9 767.8,536.9 768.1,532.9 768.3,535.6 768.6,535.4 768.8,531.5 769.1,536.6 769.3,534.7 769.6,529.4 769.8,541.7 770.1,537.8 770.3,537.3 770.6,536.3 770.8,538.6 771.1,534.7 771.3,538.2 771.6,538.8 771.8,534.5 772.1,536.1 772.3,536.3 772.6,531.5 772.8,536.8 773.1,535.5 773.3,539.3 773.6,536.1 773.8,533.0 774.1,535.9 774.3,533.9 774.6,528.5 774.8,534.7 775.1,531.5 775.3,538.9 775.6,536.0 775.8,537.6 776.1,536.0 776.3,534.3 776.6,536.9 776.8,530.3 777.1,537.1 777.3,534.3 777.6,528.5 777.8,533.5 778.1,535.3 778.3,531.7 778.6,536.7 778.8,536.0 779.1,530.1 779.3,529.2 779.6,530.4 779.8,529.2 780.1,532.3 780.3,533.0 780.6,531.3 780.8,531.0 781.1,528.1 781.3,527.1 781.6,524.6 781.8,532.6 782.1,527.6 782.3,525.8 782.6,521.3 782.8,517.9 783.1,519.3 783.3,519.5 783.6,520.4 783.8,523.9 784.1,521.5 784.3,525.2 784.6,525.4 784.8,526.5 785.1,524.8 785.3,528.0 785.6,526.8 785.8,527.6 786.1,527.1 786.3,527.8 786.6,529.5 786.8,531.4 787.1,528.0 787.3,529.8 787.6,531.5 787.8,535.0 788.1,531.9 788.3,533.9 788.6,534.8 788.8,532.3 789.1,536.9 789.3,529.5 789.6,528.5 789.8,529.2 790.1,530.2 790.3,531.0 790.6,532.0 790.8,534.0 791.1,531.6 791.3,531.5 791.6,534.9 791.8,532.8 792.1,534.1 792.3,532.3 792.6,529.8 792.8,533.5 793.1,533.4 793.3,535.0 793.6,534.0 793.8,531.6 794.1,538.5 794.3,530.6 794.6,528.8 794.8,532.5 795.1,532.9 795.3,535.7 795.6,532.0 795.8,533.2 796.1,533.4 796.3,534.2 796.6,526.9 796.8,531.9 797.1,527.0 797.3,533.5 797.6,527.4 797.8,527.1 798.1,530.2 798.3,528.1 798.6,527.4 798.8,529.3 799.1,525.2 799.3,524.4 799.6,528.7 799.8,523.5 800.1,525.2 800.3,520.6 800.6,523.6 800.8,522.2 801.1,523.8 801.3,529.7 801.6,518.0 801.8,521.4 802.1,523.9 802.3,525.9 802.6,521.7 802.8,526.5 803.1,524.8 803.3,528.0 803.6,525.6 803.8,537.3 804.1,530.2 804.3,532.2 804.6,523.8 804.8,528.9 805.1,531.4 805.3,537.5 805.6,530.5 805.8,534.1 806.1,530.4 806.3,532.7 806.6,527.4 806.8,527.4 807.1,530.8 807.3,535.6 807.6,535.6 807.8,532.5 808.1,529.3 808.3,536.5 808.6,532.1 808.8,530.4 809.1,532.0 809.3,532.4 809.6,538.3 809.8,533.2 810.1,531.6 810.3,531.9 810.6,528.6 810.8,537.0 811.1,530.4 811.3,533.6 811.6,530.4 811.8,531.0 812.1,526.8 812.3,533.6 812.6,539.9 812.8,538.7 813.1,534.6 813.3,537.6 813.6,531.1 813.8,530.0 814.1,536.9 814.3,531.5 814.6,539.8 814.8,537.6 815.1,530.1 815.3,532.4 815.6,532.4 815.8,535.8 816.1,532.4 816.3,533.4 816.6,529.0 816.8,538.4 817.1,536.2 817.3,533.8 817.6,528.8 817.8,534.1 818.1,542.6 818.3,534.9 818.6,537.4 818.8,527.2 819.1,532.8 819.3,533.0 819.6,536.9 819.8,530.8 820.1,536.3 820.3,537.0 820.6,534.0 820.8,533.2 821.1,535.1 821.3,530.7 821.6,528.9 821.8,528.6 822.1,534.2 822.3,532.9 822.6,533.3 822.8,532.1 823.1,533.4 823.3,539.3 823.6,532.8 823.8,531.0 824.1,530.1 824.3,530.9 824.6,535.4 824.8,533.1 825.1,532.6 825.3,533.1 825.6,529.5 825.8,531.1 826.1,532.6 826.3,532.5 826.6,534.5 826.8,536.5 827.1,531.8 827.3,534.8 827.6,535.0 827.8,532.0 828.1,535.5 828.3,536.8 828.6,529.0 828.8,535.1 829.1,535.1 829.3,534.9 829.6,529.4 829.8,536.9 830.1,533.5 830.3,531.5 830.6,529.3 830.8,535.2 831.1,533.5 831.3,529.9 831.6,538.9 831.8,530.3 832.1,536.1 832.3,531.2 832.6,533.5 832.8,536.1 833.1,533.4 833.3,535.8 833.6,534.3 833.8,538.8 834.1,536.5 834.3,535.8 834.6,532.2 834.8,533.2 835.1,535.0 835.3,539.5 835.6,539.0 835.8,535.0 836.1,538.0 836.3,535.0 836.6,535.3 836.8,534.6 837.1,533.0 837.3,534.9 837.6,542.2 837.8,531.6 838.1,535.4 838.3,534.1 838.6,531.1 838.8,532.7 839.1,528.6 839.3,529.9 839.6,533.3 839.8,533.8 840.1,529.5 840.3,529.5 840.6,526.6 840.8,533.3 841.1,529.9 841.3,529.5 841.6,533.2 841.8,532.9 842.1,529.2 842.3,537.5 842.6,529.4 842.8,529.6 843.1,537.4 843.3,533.6 843.6,529.3 843.8,537.6 844.1,537.1 844.3,533.9 844.6,534.2 844.8,535.0 845.1,536.9 845.3,534.0 845.6,531.1 845.8,534.1 846.1,532.9 846.3,529.5 846.6,532.9 846.8,531.2 847.1,534.7 847.3,538.0 847.6,535.9 847.8,542.9 848.1,535.7 848.3,534.9 848.6,531.7 848.8,537.0 849.1,535.5 849.3,529.5 849.6,532.5 849.8,536.4 850.1,533.0 850.3,535.7 850.6,535.1 850.8,540.6 851.1,530.0 851.3,533.9 851.6,530.4 851.8,531.8 852.1,540.3 852.3,537.3 852.6,536.3 852.8,534.3 853.1,534.6 853.3,540.6 853.6,531.4 853.8,538.4 854.1,537.9 854.3,531.8 854.6,535.2 854.8,532.4 855.1,534.7 855.3,537.2 855.6,535.5 855.8,538.3 856.1,536.8 856.3,527.8 856.6,537.0 856.8,530.7 857.1,525.7 857.3,533.5 857.6,533.0 857.8,540.8 858.1,537.7 858.3,537.2 858.6,534.8 858.8,537.3 859.1,532.6 859.3,538.0 859.6,533.2 859.8,534.1 860.1,535.5 860.3,532.4 860.6,543.6 860.8,535.2 861.1,533.4 861.3,531.8 861.6,532.6 861.8,534.5 862.1,534.9 862.3,526.5 862.6,527.4 862.8,532.0 863.1,525.2 863.3,522.1 863.6,518.6 863.8,516.8 864.1,515.7 864.3,517.2 864.6,514.8 864.8,506.9 865.1,503.6 865.3,505.5 865.6,501.2 865.8,506.8 866.1,508.1 866.3,503.4 866.6,500.2 866.8,503.3 867.1,508.0 867.3,505.7 867.6,511.1 867.8,511.7 868.1,512.1 868.3,512.5 868.6,511.7 868.8,516.6 869.1,509.9 869.3,517.9 869.6,524.7 869.8,522.8 870.1,520.1 870.3,520.4 870.6,523.6 870.8,523.2 871.1,529.8 871.3,524.2 871.6,526.6 871.8,524.7 872.1,531.2 872.3,525.8 872.6,534.2 872.8,534.6 873.1,530.3 873.3,536.5 873.6,535.7 873.8,535.9 874.1,534.4 874.3,534.5 874.6,535.9 874.8,536.1 875.1,542.1 875.3,539.9 875.6,550.2 875.8,545.8 876.1,545.9 876.3,537.4 876.6,541.1 876.8,532.1 877.1,533.4 877.3,528.5 877.6,526.6 877.8,517.9 878.1,515.6 878.3,518.3 878.6,513.8 878.8,507.7 879.1,511.6 879.3,510.8 879.6,509.4 879.8,517.9 880.1,505.5 880.3,512.1 880.6,516.2 880.8,515.5 881.1,520.8 881.3,517.3 881.6,517.7 881.8,514.8 882.1,522.3 882.3,516.2 882.6,517.6 882.8,518.2 883.1,521.8 883.3,518.7 883.6,520.9 883.8,520.2 884.1,517.1 884.3,520.7 884.6,529.2 884.8,522.1 885.1,524.0 885.3,531.5 885.6,521.7 885.8,526.4 886.1,528.2 886.3,521.9 886.6,529.7 886.8,528.0 887.1,522.0 887.3,526.0 887.6,522.4 887.8,534.7 888.1,532.9 888.3,526.8 888.6,525.0 888.8,528.6 889.1,524.1 889.3,527.1 889.6,524.7 889.8,527.5 890.1,529.8 890.3,529.8 890.6,531.2 890.8,527.8 891.1,532.2 891.3,530.1 891.6,531.1 891.8,534.8 892.1,530.7 892.3,527.9 892.6,533.1 892.8,528.2 893.1,531.8 893.3,531.3 893.6,525.1 893.8,527.1 894.1,528.6 894.3,532.3 894.6,534.0 894.8,531.4 895.1,538.1 895.3,533.5 895.6,526.4 895.8,532.9 896.1,527.9 896.3,528.5 896.6,530.0 896.8,530.1 897.1,531.8 897.3,533.0 897.6,534.0 897.8,528.9 898.1,530.8 898.3,534.0 898.6,527.1 898.8,533.4 899.1,532.5 899.3,529.2 899.6,533.9 899.8,531.4 900.1,532.3 900.3,534.9 900.6,529.8 900.8,526.6 901.1,528.6 901.3,526.6 901.6,532.9 901.8,528.7 902.1,528.4 902.3,527.8 902.6,533.0 902.8,530.5 903.1,531.8 903.3,530.2 903.6,527.2 903.8,526.6 904.1,532.9 904.3,528.4 904.6,531.2 904.8,525.7 905.1,528.2 905.3,527.4 905.6,526.4 905.8,530.6 906.1,531.5 906.3,528.1 906.6,535.1 906.8,528.7 907.1,523.9 907.3,530.2 907.6,524.7 907.8,527.4 908.1,528.9 908.3,531.0 908.6,528.6 908.8,524.1 909.1,529.5 909.3,525.8 909.6,528.2 909.8,527.7 910.1,523.2 910.3,520.4 910.6,524.0 910.8,521.5 911.1,521.5 911.3,522.8 911.6,520.6 911.8,520.8 912.1,523.0 912.3,525.8 912.6,525.1 912.8,528.7 913.1,529.7 913.3,529.5 913.6,525.9 913.8,525.3 914.1,527.5 914.3,527.6 914.6,533.7 914.8,533.3 915.1,525.6 915.3,528.9 915.6,529.3 915.8,526.7 916.1,528.0 916.3,526.0 916.6,526.9 916.8,527.8 917.1,528.4 917.3,524.6 917.6,528.8 917.8,523.7 918.1,524.8 918.3,524.9 918.6,523.3 918.8,527.9 919.1,525.1 919.3,524.7 919.6,533.0 919.8,527.7 920.1,527.8 920.3,522.7 920.6,529.5 920.8,535.1 921.1,530.0 921.3,530.6 921.6,534.3 921.8,535.1 922.1,536.5 922.3,535.6 922.6,533.3 922.8,531.6 923.1,533.1 923.3,530.6 923.6,528.2 923.8,522.4 924.1,520.6 924.3,524.3 924.6,516.2 924.8,516.8 925.1,512.7 925.3,507.9 925.6,515.6 925.8,511.7 926.1,520.6 926.3,515.6 926.6,515.7 926.8,518.0 927.1,519.3 927.3,519.2 927.6,520.3 927.8,525.5 928.1,523.7 928.3,526.4 928.6,525.4 928.8,527.5 929.1,524.0 929.3,530.8 929.6,523.7 929.8,521.5 930.1,522.9 930.3,524.2 930.6,526.5 930.8,532.7 931.1,524.2 931.3,530.2 931.6,525.6 931.8,532.6 932.1,530.6 932.3,534.6 932.6,528.6 932.8,532.0 933.1,532.5 933.3,528.9 933.6,530.1 933.8,528.8 934.1,528.5 934.3,529.3 934.6,527.9 934.8,534.1 935.1,531.5 935.3,529.4 935.6,532.4 935.8,533.5 936.1,531.8 936.3,536.2 936.6,532.6 936.8,534.0 937.1,540.4 937.3,532.4 937.6,534.4 937.8,535.2 938.1,530.6 938.3,533.1 938.6,536.7 938.8,539.2 939.1,532.3 939.3,535.8 939.6,533.5 939.8,533.0 940.1,530.8 940.3,535.5 940.6,528.1 940.8,536.3 941.1,535.1 941.3,535.3 941.6,533.7 941.8,530.5 942.1,529.7 942.3,534.7 942.6,535.9 942.8,534.9 943.1,531.6 943.3,537.0 943.6,541.3 943.8,533.1 944.1,531.5 944.3,533.2 944.6,539.7 944.8,532.0 945.1,533.0 945.3,533.9 945.6,533.5 945.8,536.4 946.1,533.1 946.3,530.8 946.6,534.9 946.8,534.5 947.1,540.4 947.3,538.1 947.6,539.9 947.8,534.6 948.1,535.7 948.3,536.0 948.6,534.5 948.8,529.7 949.1,536.2 949.3,535.1 949.6,539.4 949.8,537.7 950.1,533.0 950.3,535.6 950.6,531.2 950.8,538.0 951.1,534.0 951.3,530.5 951.6,528.0 951.8,536.9 952.1,536.3 952.3,531.7 952.6,541.4 952.8,532.7 953.1,539.2 953.3,532.3 953.6,535.2 953.8,532.8 954.1,540.7 954.3,537.4 954.6,535.3 954.8,535.7 955.1,535.0 955.3,535.1 955.6,530.0 955.8,534.9 956.1,537.3 956.3,530.5 956.6,528.2 956.8,527.4 957.1,528.2 957.3,533.5 957.6,531.4 957.8,525.6 958.1,533.4 958.3,527.5 958.6,530.9 958.8,528.4 959.1,526.8 959.3,530.9 959.6,529.8 959.8,532.2 960.1,532.1 960.3,528.9 960.6,534.3 960.8,532.2 961.1,535.4 961.3,537.1 961.6,535.9 961.8,537.2 962.1,539.6 962.3,533.5 962.6,532.5 962.8,531.3 963.1,537.5 963.3,531.8 963.6,536.4 963.8,538.8 964.1,531.9 964.3,538.8 964.6,531.5 964.8,536.7 965.1,534.5 965.3,529.9 965.6,534.3 965.8,539.1 966.1,533.9 966.3,530.8 966.6,537.3 966.8,537.3 967.1,531.1 967.3,534.8 967.6,530.5 967.8,530.1 968.1,536.6 968.3,536.7 968.6,539.1 968.8,536.8 969.1,533.9 969.3,537.8 969.6,531.8 969.8,533.2 970.1,534.8 970.3,533.1 970.6,533.9 970.8,532.0 971.1,537.3 971.3,538.9 971.6,537.9 971.8,540.2 972.1,537.4 972.3,537.0 972.6,530.6 972.8,535.0 973.1,530.1 973.3,537.8 973.6,535.2 973.8,534.2 974.1,533.3 974.3,532.5 974.6,534.2 974.8,533.6 975.1,535.5 975.3,530.6 975.6,533.2 975.8,539.0 976.1,528.6 976.3,533.1 976.6,530.7 976.8,535.6 977.1,536.7 977.3,533.3 977.6,532.3 977.8,533.7 978.1,537.2 978.3,532.1 978.6,533.6 978.8,537.7 979.1,531.3 979.3,530.2 979.6,535.9 979.8,537.3 980.1,535.3 980.3,539.7 980.6,529.2 980.8,530.1 981.1,532.8 981.3,524.3 981.6,529.3 981.8,536.6 982.1,533.8 982.3,527.2 982.6,537.3 982.8,535.7 983.1,532.3 983.3,530.3 983.6,534.4 983.8,537.0 984.1,533.4 984.3,531.0 984.6,535.4 984.8,535.5 985.1,530.0 985.3,530.3 985.6,531.4 985.8,536.6 986.1,530.7 986.3,533.4 986.6,534.9 986.8,531.0 987.1,530.9 987.3,531.3 987.6,532.9 987.8,530.8 988.1,539.1 988.3,535.1 988.6,536.7 988.8,530.4 989.1,530.3 989.3,529.6 989.6,530.4 989.8,535.1 990.1,536.6 990.3,536.4 990.6,535.6 990.8,526.6 991.1,531.6 991.3,534.0 991.6,535.0 991.8,532.1 992.1,533.7 992.3,532.3 992.6,531.9 992.8,534.1 993.1,529.9 993.3,530.5 993.6,533.2 993.8,533.0 994.1,532.3 994.3,534.6 994.6,530.4 994.8,532.7 995.1,535.3 995.3,529.8 995.6,530.7 995.8,535.6 996.1,530.7 996.3,533.6 996.6,529.0 996.8,529.5 997.1,527.9 997.3,527.7 997.6,535.4 997.8,531.8 998.1,530.3 998.3,535.3 998.6,533.3 998.8,534.2 999.1,533.4 999.3,535.7 999.6,529.3 999.8,529.3 1000.1,532.6 1000.3,534.4 1000.6,534.3 1000.8,532.4 1001.1,536.0 1001.3,535.7 1001.6,534.7 1001.8,534.8 1002.1,539.1 1002.3,534.7 1002.6,531.9 1002.8,532.6 1003.1,539.0 1003.3,535.3 1003.6,537.0 1003.8,537.4 1004.1,536.3 1004.3,534.2 1004.6,536.2 1004.8,538.5 1005.1,533.9 1005.3,536.8 1005.6,537.0 1005.8,533.2 1006.1,536.1 1006.3,538.3 1006.6,537.3 1006.8,534.8 1007.1,541.2 1007.3,535.6 1007.6,540.0 1007.8,539.2 1008.1,537.8 1008.3,541.9 1008.6,545.2 1008.8,540.9 1009.1,539.7 1009.3,539.0 1009.6,538.6 1009.8,534.2 1010.1,540.9 1010.3,536.1 1010.6,531.4 1010.8,539.0 1011.1,537.6 1011.3,534.5 1011.6,541.3 1011.8,539.6 1012.1,542.3 1012.3,538.1 1012.6,538.3 1012.8,540.2 1013.1,542.2 1013.3,540.1 1013.6,544.6 1013.8,538.6 1014.1,538.9 1014.3,537.9 1014.6,537.5 1014.8,536.4 1015.1,535.8 1015.3,539.0 1015.6,541.6 1015.8,545.0 1016.1,540.4" fill="none" stroke="#111" stroke-width="2.6" stroke-linejoin="round"/><text transform="translate(532.82 97.9) scale(1.122 1)" font-size="29.86" fill="#000">HFD</text><text transform="translate(532.82 235) scale(1.117 1)" font-size="30" fill="#000">HFD</text><text transform="translate(532.82 364.2) scale(1.122 1)" font-size="29.86" fill="#000">HFD</text><text transform="translate(532.82 484) scale(1.117 1)" font-size="30" fill="#000">HFD</text><polygon points="551.4,110 575.8,110 563.6,135.8" fill="#e0271f"/><polygon points="547.6,247 572,247 559.8,272" fill="#e0271f"/><polygon points="547.6,375 572,375 559.8,400.5" fill="#e0271f"/><polygon points="543,497.7 568,497.7 555.5,523" fill="#e0271f"/><rect x="870.4" y="180.7" width="25.6" height="8.4" fill="#8ccfea"/><rect x="917" y="180.7" width="16.7" height="8.4" fill="#8ccfea"/><rect x="948.2" y="180.7" width="7.4" height="8.4" fill="#8ccfea"/><rect x="988.3" y="180.7" width="13.2" height="8.4" fill="#8ccfea"/><rect x="870.4" y="311.2" width="25.6" height="8.7" fill="#8ccfea"/><rect x="917" y="311.2" width="16.7" height="8.7" fill="#8ccfea"/><rect x="948.2" y="311.2" width="7.4" height="8.7" fill="#8ccfea"/><rect x="988.3" y="311.2" width="13.2" height="8.7" fill="#8ccfea"/><rect x="870.4" y="427.5" width="25.6" height="7.9" fill="#8ccfea"/><rect x="917" y="427.5" width="16.7" height="7.9" fill="#8ccfea"/><rect x="948.2" y="427.5" width="7.4" height="7.9" fill="#8ccfea"/><rect x="988.3" y="427.5" width="13.2" height="7.9" fill="#8ccfea"/><rect x="870.4" y="557.6" width="25.6" height="8.1" fill="#8ccfea"/><rect x="917" y="557.6" width="16.7" height="8.1" fill="#8ccfea"/><rect x="948.2" y="557.6" width="7.4" height="8.1" fill="#8ccfea"/><rect x="988.3" y="557.6" width="13.2" height="8.1" fill="#8ccfea"/><path d="M952,600.3 H1050 V514" fill="none" stroke="#111" stroke-width="2.2"/><text transform="translate(951.71 640.45) scale(0.980 1)" font-size="34.51" fill="#000">60 sec</text><text transform="translate(1059.75 521.9) rotate(90) scale(0.998 1)" font-size="34.79" fill="#000">10%</text><path d="M567.6,914.8 568.2,908.9 568.8,906.8 569.4,900.6 570.0,904.1 570.6,902.8 571.2,902.0 571.8,903.3 572.4,903.2 573.0,899.8 573.6,899.8 574.2,900.2 574.8,902.2 575.4,901.6 576.0,897.5 576.6,897.5 577.2,900.8 577.8,902.1 578.4,898.5 579.0,896.8 579.6,900.0 580.2,896.8 580.8,899.4 581.4,901.7 582.0,900.4 582.6,899.9 583.2,901.8 583.8,899.7 584.4,901.2 585.0,901.0 585.6,902.3 586.2,902.1 586.8,903.1 587.4,903.1 588.0,904.5 588.6,904.8 589.2,905.7 589.8,908.3 590.4,902.8 591.0,908.9 591.6,906.2 592.2,904.6 592.8,907.1 593.4,906.9 594.0,908.0 594.6,902.8 595.2,904.5 595.8,903.4 596.4,898.9 597.0,899.0 597.6,901.6 598.2,900.9 598.8,900.8 599.4,898.8 600.0,897.6 600.6,896.7 601.2,900.2 601.8,897.5 602.4,900.2 603.0,902.6 603.6,900.1 604.2,907.2 604.8,904.3 605.4,907.1 606.0,912.3 606.6,906.8 607.2,907.9 607.8,912.7 608.4,907.9 609.0,909.7 609.6,912.1 610.2,912.5 610.8,913.3 611.4,913.4 612.0,915.9 612.6,915.8 613.2,915.4 613.8,913.4 614.4,913.9 615.0,912.0 615.6,917.7 616.2,911.6 616.8,915.8 617.4,916.5 618.0,909.5 618.6,909.1 619.2,908.3 619.8,909.7 620.4,905.1 621.0,905.9 621.6,904.9 622.2,905.3 622.8,908.1 623.4,903.4 624.0,905.3 624.6,905.5 625.2,906.5 625.8,902.0 626.4,906.6 627.0,905.0 627.6,905.7 628.2,903.9 628.8,899.7 629.4,900.8 630.0,902.9 630.6,900.5 631.2,899.5 631.8,902.4 632.4,902.3 633.0,897.0 633.6,900.1 634.2,891.4 634.8,891.3 635.4,898.4 636.0,897.4 636.6,900.4 637.2,901.6 637.8,901.7 638.4,904.5 639.0,904.8 639.6,902.7 640.2,907.5 640.8,908.7 641.4,913.3 642.0,908.7 642.6,911.1 643.2,909.8 643.8,910.1 644.4,913.3 645.0,910.4 645.6,908.3 646.2,909.2 646.8,910.1 647.4,906.2 648.0,907.3 648.6,910.4 649.2,908.1 649.8,905.4 650.4,903.6 651.0,903.3 651.6,899.5 652.2,903.6 652.8,901.4 653.4,900.1 654.0,896.3 654.6,896.5 655.2,898.0 655.8,896.5 656.4,894.1 657.0,895.1 657.6,895.9 658.2,893.5 658.8,894.6 659.4,894.8 660.0,895.1 660.6,899.8 661.2,900.1 661.8,900.6 662.4,898.4 663.0,899.5 663.6,902.3 664.2,901.1 664.8,901.6 665.4,899.3 666.0,901.4 666.6,903.1 667.2,902.0 667.8,901.5 668.4,897.9 669.0,899.0 669.6,895.8 670.2,898.5 670.8,897.2 671.4,898.3 672.0,899.3 672.6,903.4 673.2,903.8 673.8,905.0 674.4,903.6 675.0,907.5 675.6,905.7 676.2,912.8 676.8,910.3 677.4,911.6 678.0,911.6 678.6,909.2 679.2,910.2 679.8,913.5 680.4,917.2 681.0,912.5 681.6,914.0 682.2,915.9 682.8,913.2 683.4,913.8 684.0,916.5 684.6,915.9 685.2,913.9 685.8,916.4 686.4,911.6 687.0,911.3 687.6,912.4 688.2,911.3 688.8,903.4 689.4,904.4 690.0,906.1 690.6,899.6 691.2,899.1 691.8,896.9 692.4,895.4 693.0,896.1 693.6,900.7 694.2,904.9 694.8,907.4 695.4,906.4 696.0,904.4 696.6,910.1 697.2,910.4 697.8,912.7 698.4,912.6 699.0,910.2 699.6,915.5 700.2,911.5 700.8,915.1 701.4,918.0 702.0,917.9 702.6,919.7 703.2,911.3 703.8,916.1 704.4,916.2 705.0,913.5 705.6,914.9 706.2,910.8 706.8,913.7 707.4,912.9 708.0,909.2 708.6,909.3 709.2,909.6 709.8,908.1 710.4,910.9 711.0,908.5 711.6,910.2 712.2,909.3 712.8,906.5 713.4,907.0 714.0,906.9 714.6,908.6 715.2,910.0 715.8,913.7 716.4,912.6 717.0,903.1 717.6,877.1 718.2,849.4 718.8,823.5 719.4,796.7 720.0,767.1 720.6,734.4 721.2,720.1 721.8,704.3 722.4,691.8 723.0,693.6 723.6,690.1 724.2,689.5 724.8,688.7 725.4,687.2 726.0,690.7 726.6,694.1 727.2,699.1 727.8,699.9 728.4,704.4 729.0,708.4 729.6,709.9 730.2,707.9 730.8,708.7 731.4,719.8 732.0,737.0 732.6,744.2 733.2,749.9 733.8,759.2 734.4,767.8 735.0,772.2 735.6,772.4 736.2,766.5 736.8,763.8 737.4,770.7 738.0,776.5 738.6,785.3 739.2,787.0 739.8,779.6 740.4,773.0 741.0,770.1 741.6,762.0 742.2,773.3 742.8,775.9 743.4,786.4 744.0,790.7 744.6,794.3 745.2,795.8 745.8,809.7 746.4,806.6 747.0,809.4 747.6,813.9 748.2,816.2 748.8,819.0 749.4,820.4 750.0,820.3 750.6,827.4 751.2,829.1 751.8,838.6 752.4,841.2 753.0,838.8 753.6,832.4 754.2,828.6 754.8,827.0 755.4,826.8 756.0,832.0 756.6,834.5 757.2,837.4 757.8,847.2 758.4,853.4 759.0,864.3 759.6,841.0 760.2,797.8 760.8,765.4 761.4,749.9 762.0,747.7 762.6,741.6 763.2,737.9 763.8,731.3 764.4,729.1 765.0,730.0 765.6,728.6 766.2,738.3 766.8,754.6 767.4,770.9 768.0,785.4 768.6,803.5 769.2,789.1 769.8,781.2 770.4,767.1 771.0,760.3 771.6,765.8 772.2,783.1 772.8,792.9 773.4,784.4 774.0,773.2 774.6,753.3 775.2,742.2 775.8,732.4 776.4,719.5 777.0,718.4 777.6,732.4 778.2,739.2 778.8,747.8 779.4,743.6 780.0,738.4 780.6,737.5 781.2,736.4 781.8,725.8 782.4,722.5 783.0,719.6 783.6,723.7 784.2,730.6 784.8,733.2 785.4,755.4 786.0,768.9 786.6,781.7 787.2,790.7 787.8,799.2 788.4,806.8 789.0,815.1 789.6,822.6 790.2,821.4 790.8,823.5 791.4,835.1 792.0,846.7 792.6,857.9 793.2,853.9 793.8,843.0 794.4,838.8 795.0,833.4 795.6,838.4 796.2,842.8 796.8,843.8 797.4,847.6 798.0,850.3 798.6,846.0 799.2,849.9 799.8,845.3 800.4,843.7 801.0,841.1 801.6,846.2 802.2,847.8 802.8,850.4 803.4,856.4 804.0,859.0 804.6,864.4 805.2,869.7 805.8,865.6 806.4,866.3 807.0,865.3 807.6,865.7 808.2,863.8 808.8,861.7 809.4,859.5 810.0,860.5 810.6,859.6 811.2,866.6 811.8,869.0 812.4,873.6 813.0,872.8 813.6,870.1 814.2,867.7 814.8,869.6 815.4,864.8 816.0,862.6 816.6,857.3 817.2,858.6 817.8,849.6 818.4,857.1 819.0,851.7 819.6,854.7 820.2,855.0 820.8,858.9 821.4,865.5 822.0,867.1 822.6,871.5 823.2,874.2 823.8,872.1 824.4,866.1 825.0,867.0 825.6,865.8 826.2,865.3 826.8,862.1 827.4,861.3 828.0,863.3 828.6,866.0 829.2,870.7 829.8,871.4 830.4,877.3 831.0,873.2 831.6,876.5 832.2,882.1 832.8,883.5 833.4,883.4 834.0,887.7 834.6,889.1 835.2,890.4 835.8,887.7 836.4,889.3 837.0,891.2 837.6,893.2 838.2,897.6 838.8,896.9 839.4,901.1 840.0,898.3 840.6,906.4 841.2,906.6 841.8,901.7 842.4,902.2 843.0,895.2 843.6,896.2 844.2,892.2 844.8,895.2 845.4,895.2 846.0,891.1 846.6,891.7 847.2,891.8 847.8,897.4 848.4,882.6 849.0,859.9 849.6,837.2 850.2,828.6 850.8,835.7 851.4,841.8 852.0,850.3 852.6,851.9 853.2,846.1 853.8,841.9 854.4,836.9 855.0,845.0 855.6,851.8 856.2,857.0 856.8,866.7 857.4,864.7 858.0,863.7 858.6,864.0 859.2,860.9 859.8,860.9 860.4,856.4 861.0,854.2 861.6,854.2 862.2,851.0 862.8,847.4 863.4,840.3 864.0,833.9 864.6,829.3 865.2,824.2 865.8,821.7 866.4,826.6 867.0,829.2 867.6,835.3 868.2,834.9 868.8,836.1 869.4,827.6 870.0,826.1 870.6,824.5 871.2,817.9 871.8,816.9 872.4,806.6 873.0,812.8 873.6,819.8 874.2,825.9 874.8,829.4 875.4,837.8 876.0,835.8 876.6,846.3 877.2,849.0 877.8,854.4 878.4,855.9 879.0,857.4 879.6,861.5 880.2,864.6 880.8,869.8 881.4,871.0 882.0,875.4 882.6,878.5 883.2,883.4 883.8,876.5 884.4,875.7 885.0,873.9 885.6,869.9 886.2,863.4 886.8,860.0 887.4,857.0 888.0,858.9 888.6,858.9 889.2,860.2 889.8,860.7 890.4,863.6 891.0,868.6 891.6,865.4 892.2,870.6 892.8,874.0 893.4,872.0 894.0,877.8 894.6,874.2 895.2,879.3 895.8,877.3 896.4,876.4 897.0,880.9 897.6,885.5 898.2,882.0 898.8,885.5 899.4,884.0 900.0,885.3 900.6,882.4 901.2,875.5 901.8,871.4 902.4,867.2 903.0,856.7 903.6,852.1 904.2,847.1 904.8,844.8 905.4,832.7 906.0,825.6 906.6,820.7 907.2,817.2 907.8,812.5 908.4,823.8 909.0,835.3 909.6,847.5 910.2,856.9 910.8,840.6 911.4,830.2 912.0,824.3 912.6,815.6 913.2,800.5 913.8,794.2 914.4,788.5 915.0,789.2 915.6,794.9 916.2,798.0 916.8,802.6 917.4,805.9 918.0,811.7 918.6,821.7 919.2,826.1 919.8,835.4 920.4,845.5 921.0,850.1 921.6,857.5 922.2,860.9 922.8,864.8 923.4,874.9 924.0,875.8 924.6,877.7 925.2,874.5 925.8,872.3 926.4,870.7 927.0,870.9 927.6,869.4 928.2,870.4 928.8,865.9 929.4,869.9 930.0,874.0 930.6,876.3 931.2,879.9 931.8,884.4 932.4,886.5 933.0,887.3 933.6,889.6 934.2,890.6 934.8,894.9 935.4,895.7 936.0,894.9 936.6,899.5 937.2,896.2 937.8,890.3 938.4,882.6 939.0,880.6 939.6,875.0 940.2,869.8 940.8,866.3 941.4,857.3 942.0,853.9 942.6,846.9 943.2,849.9 943.8,857.8 944.4,864.1 945.0,872.2 945.6,876.7 946.2,887.1 946.8,890.0 947.4,895.8 948.0,892.9 948.6,886.6 949.2,883.4 949.8,890.4 950.4,885.2 951.0,887.1 951.6,882.5 952.2,886.5 952.8,887.1 953.4,891.7 954.0,891.9 954.6,897.7 955.2,895.3 955.8,901.5 956.4,901.0 957.0,903.1 957.6,897.0 958.2,894.9 958.8,898.7 959.4,892.3 960.0,892.3 960.6,890.6 961.2,887.6 961.8,888.0 962.4,882.3 963.0,880.1 963.6,881.8 964.2,875.7 964.8,876.2 965.4,873.4 966.0,874.2 966.6,872.7 967.2,868.7 967.8,871.7 968.4,872.8 969.0,876.7 969.6,875.5 970.2,874.4 970.8,876.9 971.4,875.9 972.0,878.3 972.6,880.7 973.2,885.8 973.8,887.5 974.4,892.0 975.0,893.2 975.6,897.8 976.2,893.9 976.8,890.9 977.4,885.4 978.0,880.0 978.6,874.8 979.2,870.4 979.8,867.3 980.4,857.1 981.0,862.3 981.6,861.3 982.2,871.9 982.8,877.8 983.4,886.1 984.0,891.3 984.6,897.0 985.2,898.7 985.8,901.6 986.4,905.6 987.0,902.9 987.6,899.2 988.2,903.7 988.8,906.6 989.4,913.6" fill="none" stroke="#111" stroke-width="2.3" stroke-linejoin="round"/><path d="M568.9,1076.1 569.5,1077.5 570.1,1082.8 570.7,1079.3 571.3,1083.8 571.9,1079.2 572.5,1081.9 573.1,1081.4 573.7,1079.9 574.3,1086.7 574.9,1079.8 575.5,1081.6 576.1,1082.6 576.7,1078.0 577.3,1082.6 577.9,1079.6 578.5,1081.5 579.1,1077.7 579.7,1077.2 580.3,1081.2 580.9,1079.7 581.5,1078.9 582.1,1079.6 582.7,1079.2 583.3,1075.9 583.9,1073.7 584.5,1074.5 585.1,1074.1 585.7,1073.1 586.3,1075.9 586.9,1076.0 587.5,1076.7 588.1,1077.0 588.7,1075.7 589.3,1075.8 589.9,1076.2 590.5,1074.0 591.1,1074.4 591.7,1075.6 592.3,1074.1 592.9,1074.1 593.5,1075.3 594.1,1078.3 594.7,1076.7 595.3,1075.7 595.9,1075.5 596.5,1076.7 597.1,1081.5 597.7,1071.6 598.3,1078.9 598.9,1078.6 599.5,1080.1 600.1,1076.6 600.7,1083.1 601.3,1081.3 601.9,1079.6 602.5,1080.3 603.1,1078.9 603.7,1080.7 604.3,1080.6 604.9,1083.0 605.5,1082.1 606.1,1081.6 606.7,1083.4 607.3,1083.5 607.9,1083.2 608.5,1080.2 609.1,1085.4 609.7,1081.6 610.3,1082.2 610.9,1084.3 611.5,1085.8 612.1,1087.8 612.7,1082.3 613.3,1088.6 613.9,1089.2 614.5,1085.6 615.1,1086.4 615.7,1086.0 616.3,1086.3 616.9,1085.2 617.5,1081.7 618.1,1081.5 618.7,1079.4 619.3,1079.4 619.9,1074.0 620.5,1072.9 621.1,1078.2 621.7,1078.0 622.3,1080.6 622.9,1080.2 623.5,1078.6 624.1,1078.7 624.7,1080.5 625.3,1078.4 625.9,1075.0 626.5,1077.4 627.1,1072.0 627.7,1072.7 628.3,1073.0 628.9,1070.4 629.5,1071.2 630.1,1073.9 630.7,1074.1 631.3,1074.2 631.9,1074.0 632.5,1073.3 633.1,1074.4 633.7,1082.0 634.3,1075.5 634.9,1079.9 635.5,1076.3 636.1,1080.0 636.7,1078.9 637.3,1076.6 637.9,1073.6 638.5,1071.4 639.1,1075.0 639.7,1069.9 640.3,1069.1 640.9,1073.6 641.5,1072.6 642.1,1069.1 642.7,1065.5 643.3,1061.3 643.9,1059.8 644.5,1031.1 645.1,999.2 645.7,978.8 646.3,973.5 646.9,962.7 647.5,961.9 648.1,969.5 648.7,978.1 649.3,980.6 649.9,985.6 650.5,994.5 651.1,994.4 651.7,1004.0 652.3,1016.0 652.9,1025.4 653.5,1033.3 654.1,1026.4 654.7,1030.3 655.3,1027.8 655.9,1024.2 656.5,1027.4 657.1,1033.0 657.7,1034.7 658.3,1037.0 658.9,1037.8 659.5,1042.0 660.1,1041.2 660.7,1042.1 661.3,1042.3 661.9,1048.6 662.5,1053.1 663.1,1056.1 663.7,1056.7 664.3,1062.1 664.9,1062.6 665.5,1058.9 666.1,1066.3 666.7,1062.9 667.3,1066.2 667.9,1072.1 668.5,1073.2 669.1,1072.5 669.7,1073.9 670.3,1077.2 670.9,1073.2 671.5,1077.6 672.1,1076.4 672.7,1078.5 673.3,1077.0 673.9,1075.3 674.5,1077.9 675.1,1077.1 675.7,1075.5 676.3,1076.4 676.9,1077.2 677.5,1079.6 678.1,1081.4 678.7,1080.4 679.3,1078.6 679.9,1080.6 680.5,1082.7 681.1,1083.8 681.7,1080.1 682.3,1082.6 682.9,1081.4 683.5,1078.2 684.1,1080.0 684.7,1081.6 685.3,1081.4 685.9,1080.1 686.5,1078.1 687.1,1078.4 687.7,1074.3 688.3,1071.6 688.9,1074.0 689.5,1070.3 690.1,1071.4 690.7,1066.8 691.3,1069.3 691.9,1064.8 692.5,1066.1 693.1,1070.9 693.7,1074.1 694.3,1070.4 694.9,1076.1 695.5,1077.2 696.1,1077.1 696.7,1076.3 697.3,1073.8 697.9,1076.2 698.5,1078.8 699.1,1082.4 699.7,1080.7 700.3,1079.4 700.9,1080.4 701.5,1076.7 702.1,1080.2 702.7,1077.2 703.3,1081.1 703.9,1078.5 704.5,1076.4 705.1,1076.4 705.7,1074.0 706.3,1077.0 706.9,1074.3 707.5,1075.6 708.1,1077.6 708.7,1075.7 709.3,1075.6 709.9,1079.3 710.5,1075.2 711.1,1075.6 711.7,1072.6 712.3,1070.4 712.9,1072.7 713.5,1069.7 714.1,1065.7 714.7,1073.3 715.3,1073.9 715.9,1072.3 716.5,1077.8 717.1,1076.2 717.7,1076.5 718.3,1076.7 718.9,1081.7 719.5,1079.3 720.1,1078.8 720.7,1078.6 721.3,1077.7 721.9,1074.8 722.5,1070.1 723.1,1063.3 723.7,1059.8 724.3,1049.5 724.9,1047.1 725.5,1041.0 726.1,1036.7 726.7,1034.2 727.3,1036.5 727.9,1040.9 728.5,1046.0 729.1,1049.5 729.7,1045.9 730.3,1043.1 730.9,1043.0 731.5,1035.1 732.1,1027.6 732.7,1032.0 733.3,1034.6 733.9,1033.2 734.5,1034.7 735.1,1039.0 735.7,1043.9 736.3,1046.3 736.9,1049.7 737.5,1056.3 738.1,1054.9 738.7,1060.0 739.3,1057.4 739.9,1061.3 740.5,1063.0 741.1,1064.5 741.7,1057.7 742.3,1052.8 742.9,1047.5 743.5,1044.7 744.1,1041.5 744.7,1035.4 745.3,1040.1 745.9,1041.3 746.5,1042.6 747.1,1046.8 747.7,1048.6 748.3,1041.1 748.9,1047.4 749.5,1049.5 750.1,1049.4 750.7,1055.7 751.3,1060.6 751.9,1060.6 752.5,1056.4 753.1,1054.7 753.7,1050.6 754.3,1045.2 754.9,1042.4 755.5,1035.7 756.1,1035.5 756.7,1040.0 757.3,1043.5 757.9,1046.2 758.5,1053.9 759.1,1058.2 759.7,1064.9 760.3,1067.1 760.9,1074.6 761.5,1076.6 762.1,1079.4 762.7,1084.8 763.3,1088.2 763.9,1085.5 764.5,1087.7 765.1,1087.4 765.7,1086.6 766.3,1089.1 766.9,1086.5 767.5,1085.2 768.1,1088.2 768.7,1086.5 769.3,1087.3 769.9,1087.2 770.5,1088.7 771.1,1088.4 771.7,1089.2 772.3,1087.6 772.9,1087.9 773.5,1089.2 774.1,1089.2 774.7,1090.0 775.3,1088.8 775.9,1090.7 776.5,1084.7 777.1,1084.5 777.7,1082.9 778.3,1084.9 778.9,1080.6 779.5,1079.4 780.1,1082.4 780.7,1076.2 781.3,1069.7 781.9,1062.5 782.5,1061.1 783.1,1056.5 783.7,1051.5 784.3,1048.7 784.9,1045.4 785.5,1046.3 786.1,1048.5 786.7,1052.1 787.3,1058.2 787.9,1062.2 788.5,1059.2 789.1,1054.7 789.7,1051.8 790.3,1050.9 790.9,1053.3 791.5,1054.7 792.1,1057.2 792.7,1061.1 793.3,1062.7 793.9,1064.4 794.5,1066.3 795.1,1069.5 795.7,1072.4 796.3,1076.6 796.9,1078.7 797.5,1079.3 798.1,1081.4 798.7,1074.2 799.3,1075.5 799.9,1068.7 800.5,1067.5 801.1,1066.9 801.7,1066.0 802.3,1063.9 802.9,1066.9 803.5,1065.8 804.1,1068.7 804.7,1071.1 805.3,1070.4 805.9,1074.9 806.5,1073.6 807.1,1074.6 807.7,1072.8 808.3,1074.2 808.9,1075.6 809.5,1077.3 810.1,1077.6 810.7,1071.2 811.3,1064.2 811.9,1057.3 812.5,1057.3 813.1,1049.2 813.7,1052.3 814.3,1056.3 814.9,1067.6 815.5,1069.9 816.1,1069.8 816.7,1068.8 817.3,1067.5 817.9,1071.9 818.5,1071.1 819.1,1071.4 819.7,1070.4 820.3,1070.7 820.9,1074.0 821.5,1079.4 822.1,1082.9 822.7,1079.7 823.3,1080.3 823.9,1077.0 824.5,1077.2 825.1,1078.8 825.7,1075.8 826.3,1076.6 826.9,1077.8 827.5,1074.2 828.1,1072.1 828.7,1079.0 829.3,1078.6 829.9,1079.4 830.5,1081.3 831.1,1081.8 831.7,1085.2 832.3,1081.4 832.9,1084.0 833.5,1081.8 834.1,1083.9 834.7,1085.2 835.3,1083.7 835.9,1087.2 836.5,1083.6 837.1,1082.2 837.7,1083.9 838.3,1083.6 838.9,1083.5 839.5,1081.1 840.1,1074.2 840.7,1069.6 841.3,1058.1 841.9,1056.7 842.5,1059.9 843.1,1066.5 843.7,1070.7 844.3,1080.5 844.9,1075.6 845.5,1077.7 846.1,1079.9 846.7,1082.6 847.3,1079.4 847.9,1083.5 848.5,1085.1 849.1,1082.0 849.7,1079.3 850.3,1086.0 850.9,1084.6 851.5,1085.1 852.1,1087.6 852.7,1087.4 853.3,1085.2 853.9,1087.0 854.5,1085.4 855.1,1088.3 855.7,1087.6 856.3,1089.0 856.9,1087.1 857.5,1089.1 858.1,1089.6 858.7,1090.3 859.3,1089.7 859.9,1086.0 860.5,1091.1 861.1,1087.9 861.7,1091.8 862.3,1089.6 862.9,1089.3 863.5,1087.8 864.1,1092.0 864.7,1086.9 865.3,1090.7 865.9,1090.9 866.5,1093.5 867.1,1089.8 867.7,1086.7 868.3,1084.9 868.9,1085.4 869.5,1084.2 870.1,1089.9 870.7,1088.2 871.3,1085.7 871.9,1089.5 872.5,1088.5 873.1,1090.5 873.7,1089.4 874.3,1086.9 874.9,1089.1 875.5,1089.0 876.1,1086.0 876.7,1084.4 877.3,1080.2 877.9,1077.4 878.5,1074.8 879.1,1072.3 879.7,1065.8 880.3,1062.2 880.9,1065.7 881.5,1060.3 882.1,1062.2 882.7,1061.3 883.3,1063.7 883.9,1065.9 884.5,1066.8 885.1,1066.9 885.7,1069.5 886.3,1067.9 886.9,1070.1 887.5,1067.9 888.1,1072.6 888.7,1070.3 889.3,1074.6 889.9,1070.7 890.5,1073.9 891.1,1074.5 891.7,1075.1 892.3,1074.8 892.9,1076.6 893.5,1072.4 894.1,1067.4 894.7,1066.6 895.3,1068.0 895.9,1061.9 896.5,1066.9 897.1,1064.5 897.7,1063.6 898.3,1070.5 898.9,1068.9 899.5,1065.3 900.1,1074.1 900.7,1072.2 901.3,1075.6 901.9,1077.1 902.5,1077.9 903.1,1076.6 903.7,1074.6 904.3,1080.7 904.9,1079.0 905.5,1079.6 906.1,1077.2 906.7,1079.5 907.3,1081.8 907.9,1081.8 908.5,1081.6 909.1,1074.2 909.7,1067.6 910.3,1066.2 910.9,1060.0 911.5,1058.4 912.1,1059.7 912.7,1057.7 913.3,1058.1 913.9,1062.0 914.5,1062.1 915.1,1059.5 915.7,1062.7 916.3,1057.2 916.9,1054.0 917.5,1049.4 918.1,1048.8 918.7,1048.2 919.3,1042.3 919.9,1036.5 920.5,1027.9 921.1,1016.4 921.7,1013.9 922.3,1016.6 922.9,1018.9 923.5,1021.9 924.1,1025.0 924.7,1030.9 925.3,1038.6 925.9,1045.4 926.5,1053.1 927.1,1050.6 927.7,1052.4 928.3,1048.7 928.9,1055.5 929.5,1058.7 930.1,1060.3 930.7,1064.4 931.3,1065.8 931.9,1064.2 932.5,1056.7 933.1,1051.0 933.7,1043.3 934.3,1042.9 934.9,1041.1 935.5,1044.8 936.1,1049.5 936.7,1057.7 937.3,1060.3 937.9,1060.3 938.5,1064.1 939.1,1066.9 939.7,1069.2 940.3,1071.6 940.9,1070.1 941.5,1074.1 942.1,1073.1 942.7,1078.3 943.3,1077.6 943.9,1076.7 944.5,1084.1 945.1,1083.1 945.7,1080.5 946.3,1083.8 946.9,1081.7 947.5,1085.0 948.1,1085.0 948.7,1082.8 949.3,1085.2 949.9,1087.8 950.5,1086.6 951.1,1082.8 951.7,1086.1 952.3,1087.1 952.9,1086.4 953.5,1088.4 954.1,1085.3 954.7,1082.6 955.3,1090.4 955.9,1085.8 956.5,1088.2 957.1,1085.9 957.7,1090.9 958.3,1087.7 958.9,1090.4 959.5,1090.5 960.1,1093.2 960.7,1093.9 961.3,1091.6 961.9,1091.9 962.5,1090.3 963.1,1090.1 963.7,1087.8 964.3,1090.3 964.9,1085.4 965.5,1091.0 966.1,1089.7 966.7,1089.5 967.3,1091.8 967.9,1086.1 968.5,1087.9 969.1,1090.9 969.7,1089.3 970.3,1091.1 970.9,1089.6 971.5,1087.9 972.1,1091.1 972.7,1090.7 973.3,1091.4 973.9,1075.4 974.5,1062.4 975.1,1040.7 975.7,1025.5 976.3,1013.5 976.9,1004.7 977.5,1012.6 978.1,1020.5 978.7,1025.1 979.3,1031.3 979.9,1035.3 980.5,1036.0 981.1,1044.8 981.7,1049.1 982.3,1052.2 982.9,1054.6 983.5,1059.7 984.1,1063.9 984.7,1065.0 985.3,1067.9 985.9,1070.0 986.5,1076.2 987.1,1076.1 987.7,1078.5 988.3,1082.4 988.9,1076.4 989.5,1079.2 990.1,1082.9 990.7,1081.1 991.3,1084.3 991.9,1080.3 992.5,1079.1 993.1,1078.4 993.7,1069.6 994.3,1066.9 994.9,1061.7 995.5,1060.1 996.1,1050.7 996.7,1048.4 997.3,1052.0 997.9,1056.4 998.5,1057.9 999.1,1062.8" fill="none" stroke="#111" stroke-width="2.3" stroke-linejoin="round"/><path d="M568.9,1241.0 569.5,1244.6 570.1,1243.6 570.7,1245.2 571.3,1247.6 571.9,1246.5 572.5,1248.8 573.1,1251.3 573.7,1257.3 574.3,1254.0 574.9,1254.0 575.5,1252.6 576.1,1255.8 576.7,1253.7 577.3,1255.5 577.9,1253.9 578.5,1253.0 579.1,1256.6 579.7,1253.0 580.3,1251.3 580.9,1249.3 581.5,1253.6 582.1,1253.0 582.7,1248.9 583.3,1250.7 583.9,1251.4 584.5,1247.6 585.1,1250.3 585.7,1253.6 586.3,1247.5 586.9,1251.6 587.5,1254.4 588.1,1249.3 588.7,1249.6 589.3,1250.9 589.9,1251.4 590.5,1251.1 591.1,1247.2 591.7,1248.6 592.3,1250.3 592.9,1249.4 593.5,1252.4 594.1,1249.5 594.7,1249.5 595.3,1254.0 595.9,1250.2 596.5,1248.5 597.1,1250.5 597.7,1250.1 598.3,1252.0 598.9,1251.6 599.5,1250.0 600.1,1250.0 600.7,1249.8 601.3,1253.6 601.9,1255.0 602.5,1250.9 603.1,1252.2 603.7,1251.9 604.3,1250.2 604.9,1250.2 605.5,1250.4 606.1,1247.6 606.7,1250.1 607.3,1252.8 607.9,1253.9 608.5,1251.8 609.1,1251.6 609.7,1253.8 610.3,1256.9 610.9,1251.1 611.5,1251.6 612.1,1252.4 612.7,1254.6 613.3,1251.9 613.9,1254.8 614.5,1252.6 615.1,1255.3 615.7,1253.7 616.3,1253.7 616.9,1256.4 617.5,1252.5 618.1,1253.5 618.7,1256.2 619.3,1255.8 619.9,1254.2 620.5,1249.0 621.1,1254.4 621.7,1253.2 622.3,1251.3 622.9,1247.7 623.5,1252.9 624.1,1254.5 624.7,1251.8 625.3,1253.3 625.9,1249.1 626.5,1250.6 627.1,1248.7 627.7,1247.6 628.3,1248.9 628.9,1247.6 629.5,1247.7 630.1,1247.5 630.7,1248.0 631.3,1247.3 631.9,1247.1 632.5,1243.2 633.1,1245.3 633.7,1239.9 634.3,1242.5 634.9,1241.5 635.5,1235.6 636.1,1238.4 636.7,1240.2 637.3,1237.8 637.9,1234.8 638.5,1234.0 639.1,1236.6 639.7,1237.4 640.3,1239.7 640.9,1239.3 641.5,1241.9 642.1,1241.8 642.7,1241.7 643.3,1243.6 643.9,1247.0 644.5,1251.2 645.1,1247.5 645.7,1247.7 646.3,1239.4 646.9,1238.6 647.5,1233.9 648.1,1233.1 648.7,1229.4 649.3,1227.5 649.9,1226.5 650.5,1228.4 651.1,1230.0 651.7,1234.4 652.3,1232.3 652.9,1236.2 653.5,1238.6 654.1,1236.7 654.7,1239.0 655.3,1237.2 655.9,1242.4 656.5,1245.2 657.1,1242.0 657.7,1244.7 658.3,1245.7 658.9,1244.9 659.5,1243.4 660.1,1244.9 660.7,1243.2 661.3,1243.8 661.9,1249.5 662.5,1243.8 663.1,1243.5 663.7,1245.3 664.3,1244.9 664.9,1245.3 665.5,1241.7 666.1,1240.5 666.7,1240.0 667.3,1242.9 667.9,1242.9 668.5,1238.7 669.1,1238.6 669.7,1238.9 670.3,1237.6 670.9,1240.1 671.5,1244.6 672.1,1241.8 672.7,1246.6 673.3,1249.8 673.9,1246.7 674.5,1251.2 675.1,1249.2 675.7,1248.4 676.3,1251.4 676.9,1250.0 677.5,1249.5 678.1,1249.1 678.7,1248.7 679.3,1249.5 679.9,1250.3 680.5,1252.6 681.1,1250.7 681.7,1252.0 682.3,1250.8 682.9,1252.7 683.5,1251.7 684.1,1254.5 684.7,1252.7 685.3,1249.0 685.9,1252.2 686.5,1251.7 687.1,1254.7 687.7,1252.9 688.3,1254.8 688.9,1254.7 689.5,1252.0 690.1,1252.9 690.7,1253.7 691.3,1251.7 691.9,1259.6 692.5,1252.4 693.1,1247.3 693.7,1245.5 694.3,1247.1 694.9,1244.5 695.5,1240.7 696.1,1238.9 696.7,1241.2 697.3,1239.9 697.9,1241.3 698.5,1240.0 699.1,1242.1 699.7,1236.0 700.3,1240.5 700.9,1237.4 701.5,1236.9 702.1,1239.6 702.7,1232.6 703.3,1235.1 703.9,1233.3 704.5,1235.3 705.1,1228.7 705.7,1233.1 706.3,1235.7 706.9,1237.1 707.5,1239.8 708.1,1241.5 708.7,1240.9 709.3,1244.8 709.9,1244.0 710.5,1251.7 711.1,1253.7 711.7,1251.0 712.3,1255.4 712.9,1251.7 713.5,1248.1 714.1,1248.8 714.7,1250.5 715.3,1248.2 715.9,1245.4 716.5,1248.0 717.1,1246.5 717.7,1247.1 718.3,1246.8 718.9,1251.6 719.5,1253.4 720.1,1250.8 720.7,1250.1 721.3,1237.5 721.9,1225.8 722.5,1210.7 723.1,1204.9 723.7,1205.0 724.3,1209.9 724.9,1211.0 725.5,1219.5 726.1,1213.3 726.7,1204.6 727.3,1206.1 727.9,1199.8 728.5,1197.6 729.1,1202.0 729.7,1202.7 730.3,1208.3 730.9,1211.3 731.5,1211.5 732.1,1219.8 732.7,1224.7 733.3,1220.4 733.9,1224.8 734.5,1220.4 735.1,1217.5 735.7,1215.5 736.3,1209.3 736.9,1204.5 737.5,1203.8 738.1,1199.5 738.7,1197.5 739.3,1188.8 739.9,1189.4 740.5,1192.2 741.1,1183.4 741.7,1179.4 742.3,1172.7 742.9,1166.1 743.5,1163.1 744.1,1158.8 744.7,1166.3 745.3,1176.4 745.9,1187.9 746.5,1194.7 747.1,1204.2 747.7,1208.9 748.3,1209.6 748.9,1207.7 749.5,1205.6 750.1,1195.2 750.7,1185.3 751.3,1174.5 751.9,1174.0 752.5,1175.8 753.1,1181.3 753.7,1184.7 754.3,1192.8 754.9,1194.4 755.5,1196.5 756.1,1200.3 756.7,1206.3 757.3,1205.3 757.9,1199.5 758.5,1202.0 759.1,1201.6 759.7,1199.7 760.3,1200.4 760.9,1207.3 761.5,1207.1 762.1,1209.0 762.7,1209.5 763.3,1212.0 763.9,1213.7 764.5,1215.9 765.1,1217.9 765.7,1219.1 766.3,1222.5 766.9,1226.6 767.5,1225.8 768.1,1225.1 768.7,1219.4 769.3,1219.5 769.9,1212.0 770.5,1212.2 771.1,1210.9 771.7,1206.9 772.3,1200.9 772.9,1201.4 773.5,1195.6 774.1,1193.1 774.7,1189.1 775.3,1182.6 775.9,1184.2 776.5,1181.0 777.1,1178.6 777.7,1177.4 778.3,1189.2 778.9,1194.6 779.5,1200.0 780.1,1191.0 780.7,1184.2 781.3,1173.7 781.9,1168.2 782.5,1169.5 783.1,1174.4 783.7,1176.1 784.3,1178.5 784.9,1181.7 785.5,1188.7 786.1,1195.9 786.7,1200.0 787.3,1198.4 787.9,1203.4 788.5,1203.4 789.1,1199.2 789.7,1200.4 790.3,1198.2 790.9,1199.1 791.5,1195.9 792.1,1185.9 792.7,1177.3 793.3,1167.2 793.9,1160.2 794.5,1149.4 795.1,1152.7 795.7,1151.4 796.3,1154.8 796.9,1165.1 797.5,1174.8 798.1,1172.0 798.7,1169.3 799.3,1167.9 799.9,1166.8 800.5,1162.8 801.1,1168.6 801.7,1171.8 802.3,1170.6 802.9,1176.3 803.5,1181.5 804.1,1181.7 804.7,1186.2 805.3,1194.2 805.9,1194.9 806.5,1200.4 807.1,1203.0 807.7,1203.5 808.3,1197.4 808.9,1198.8 809.5,1199.7 810.1,1200.9 810.7,1197.9 811.3,1194.0 811.9,1195.0 812.5,1187.1 813.1,1190.1 813.7,1189.5 814.3,1190.7 814.9,1193.6 815.5,1194.0 816.1,1203.0 816.7,1204.2 817.3,1208.6 817.9,1215.5 818.5,1206.0 819.1,1211.3 819.7,1205.4 820.3,1202.2 820.9,1196.9 821.5,1195.4 822.1,1197.4 822.7,1200.7 823.3,1201.2 823.9,1209.1 824.5,1212.7 825.1,1218.1 825.7,1218.1 826.3,1215.0 826.9,1212.0 827.5,1205.9 828.1,1202.3 828.7,1203.0 829.3,1199.5 829.9,1203.5 830.5,1201.7 831.1,1204.6 831.7,1208.8 832.3,1209.0 832.9,1208.8 833.5,1209.1 834.1,1204.9 834.7,1198.7 835.3,1195.9 835.9,1194.0 836.5,1189.6 837.1,1184.9 837.7,1178.8 838.3,1168.9 838.9,1176.0 839.5,1182.1 840.1,1187.5 840.7,1189.4 841.3,1190.7 841.9,1190.1 842.5,1188.3 843.1,1187.1 843.7,1181.5 844.3,1185.7 844.9,1192.0 845.5,1199.9 846.1,1205.3 846.7,1206.0 847.3,1211.0 847.9,1208.7 848.5,1215.3 849.1,1216.3 849.7,1222.0 850.3,1220.2 850.9,1222.2 851.5,1223.9 852.1,1228.2 852.7,1227.6 853.3,1232.8 853.9,1233.8 854.5,1233.6 855.1,1235.0 855.7,1234.6 856.3,1240.9 856.9,1239.9 857.5,1237.2 858.1,1242.7 858.7,1239.3 859.3,1242.7 859.9,1243.9 860.5,1242.6 861.1,1242.7 861.7,1245.1 862.3,1246.2 862.9,1246.0 863.5,1246.9 864.1,1243.7 864.7,1246.6 865.3,1245.1 865.9,1247.5 866.5,1245.5 867.1,1246.3 867.7,1246.3 868.3,1247.6 868.9,1248.2 869.5,1248.8 870.1,1250.5 870.7,1247.7 871.3,1251.5 871.9,1245.3 872.5,1242.3 873.1,1242.1 873.7,1238.5 874.3,1235.3 874.9,1233.1 875.5,1226.6 876.1,1227.5 876.7,1219.7 877.3,1219.0 877.9,1220.4 878.5,1218.4 879.1,1214.8 879.7,1209.2 880.3,1212.9 880.9,1214.6 881.5,1216.8 882.1,1219.6 882.7,1223.2 883.3,1226.3 883.9,1225.9 884.5,1223.5 885.1,1225.0 885.7,1225.1 886.3,1226.0 886.9,1222.8 887.5,1222.8 888.1,1222.1 888.7,1220.9 889.3,1223.2 889.9,1220.8 890.5,1223.1 891.1,1222.4 891.7,1220.2 892.3,1220.0 892.9,1218.2 893.5,1218.8 894.1,1217.7 894.7,1218.8 895.3,1214.6 895.9,1216.6 896.5,1214.8 897.1,1215.4 897.7,1214.7 898.3,1217.3 898.9,1221.6 899.5,1224.2 900.1,1223.5 900.7,1230.3 901.3,1228.1 901.9,1228.5 902.5,1230.7 903.1,1229.0 903.7,1227.3 904.3,1232.1 904.9,1231.8 905.5,1233.8 906.1,1234.6 906.7,1231.5 907.3,1233.4 907.9,1237.2 908.5,1238.7 909.1,1232.6 909.7,1225.3 910.3,1217.9 910.9,1210.0 911.5,1209.0 912.1,1209.6 912.7,1207.4 913.3,1210.4 913.9,1215.7 914.5,1213.0 915.1,1212.2 915.7,1210.0 916.3,1205.4 916.9,1203.0 917.5,1200.9 918.1,1207.7 918.7,1218.3 919.3,1224.8 919.9,1238.3 920.5,1233.9 921.1,1232.9 921.7,1231.9 922.3,1230.0 922.9,1220.8 923.5,1219.6 924.1,1216.8 924.7,1207.9 925.3,1209.8 925.9,1205.0 926.5,1200.2 927.1,1199.4 927.7,1194.0 928.3,1190.2 928.9,1192.6 929.5,1186.9 930.1,1188.9 930.7,1183.8 931.3,1195.2 931.9,1197.6 932.5,1203.6 933.1,1207.2 933.7,1211.3 934.3,1210.0 934.9,1213.7 935.5,1215.2 936.1,1216.0 936.7,1214.2 937.3,1214.0 937.9,1213.4 938.5,1208.5 939.1,1210.6 939.7,1213.2 940.3,1215.9 940.9,1222.8 941.5,1221.8 942.1,1225.2 942.7,1224.2 943.3,1229.1 943.9,1233.5 944.5,1230.8 945.1,1231.7 945.7,1231.1 946.3,1232.7 946.9,1239.9 947.5,1234.8 948.1,1237.2 948.7,1228.1 949.3,1216.1 949.9,1205.5 950.5,1194.0 951.1,1195.3 951.7,1190.5 952.3,1192.5 952.9,1193.2 953.5,1189.5 954.1,1194.0 954.7,1200.1 955.3,1208.5 955.9,1209.2 956.5,1217.8 957.1,1217.4 957.7,1223.0 958.3,1219.6 958.9,1223.3 959.5,1227.9 960.1,1224.8 960.7,1226.6 961.3,1222.7 961.9,1227.2 962.5,1228.7 963.1,1228.1 963.7,1230.2 964.3,1228.7 964.9,1231.8 965.5,1232.3 966.1,1233.9 966.7,1240.5 967.3,1239.5 967.9,1243.8 968.5,1249.0 969.1,1249.6 969.7,1247.2 970.3,1246.7 970.9,1244.7 971.5,1244.8 972.1,1247.1 972.7,1245.7 973.3,1240.2 973.9,1237.3 974.5,1240.9 975.1,1231.4 975.7,1234.2 976.3,1225.4 976.9,1227.8 977.5,1224.4 978.1,1220.1 978.7,1215.8 979.3,1216.1 979.9,1216.0 980.5,1219.0 981.1,1227.0 981.7,1225.5 982.3,1228.5 982.9,1236.0 983.5,1242.7 984.1,1237.7 984.7,1241.0 985.3,1242.9 985.9,1246.8 986.5,1245.7 987.1,1240.2 987.7,1238.8 988.3,1235.0 988.9,1233.9 989.5,1229.3 990.1,1226.9 990.7,1222.0 991.3,1219.1 991.9,1213.2 992.5,1217.4 993.1,1219.9 993.7,1223.2" fill="none" stroke="#111" stroke-width="2.3" stroke-linejoin="round"/><path d="M570.7,1439.4 571.3,1432.9 571.9,1429.3 572.5,1425.1 573.1,1421.6 573.7,1428.0 574.3,1427.3 574.9,1433.0 575.5,1433.0 576.1,1436.4 576.7,1434.3 577.3,1435.0 577.9,1433.2 578.5,1436.8 579.1,1435.5 579.7,1437.4 580.3,1438.0 580.9,1437.4 581.5,1434.8 582.1,1431.1 582.7,1431.9 583.3,1435.1 583.9,1434.8 584.5,1434.7 585.1,1430.6 585.7,1429.4 586.3,1432.7 586.9,1432.3 587.5,1430.4 588.1,1430.1 588.7,1427.2 589.3,1429.1 589.9,1431.7 590.5,1427.1 591.1,1427.7 591.7,1428.0 592.3,1427.3 592.9,1424.2 593.5,1427.0 594.1,1427.1 594.7,1427.9 595.3,1428.1 595.9,1429.1 596.5,1427.5 597.1,1432.9 597.7,1429.4 598.3,1433.1 598.9,1433.4 599.5,1431.2 600.1,1429.0 600.7,1427.5 601.3,1429.3 601.9,1432.2 602.5,1433.7 603.1,1432.5 603.7,1433.6 604.3,1440.3 604.9,1436.3 605.5,1434.1 606.1,1438.1 606.7,1435.7 607.3,1433.6 607.9,1439.1 608.5,1437.4 609.1,1438.9 609.7,1442.2 610.3,1438.8 610.9,1437.0 611.5,1441.6 612.1,1434.4 612.7,1436.1 613.3,1440.9 613.9,1441.1 614.5,1437.6 615.1,1436.6 615.7,1438.5 616.3,1438.4 616.9,1438.1 617.5,1436.8 618.1,1435.1 618.7,1436.4 619.3,1437.3 619.9,1437.6 620.5,1437.4 621.1,1438.7 621.7,1435.9 622.3,1441.3 622.9,1442.5 623.5,1439.1 624.1,1437.9 624.7,1441.5 625.3,1442.2 625.9,1441.0 626.5,1442.3 627.1,1438.5 627.7,1436.5 628.3,1440.6 628.9,1435.9 629.5,1435.1 630.1,1430.7 630.7,1433.4 631.3,1428.7 631.9,1424.3 632.5,1420.1 633.1,1413.7 633.7,1405.6 634.3,1403.6 634.9,1395.7 635.5,1389.4 636.1,1381.7 636.7,1380.3 637.3,1381.1 637.9,1384.5 638.5,1389.9 639.1,1393.5 639.7,1398.9 640.3,1394.2 640.9,1401.4 641.5,1402.9 642.1,1408.5 642.7,1407.3 643.3,1409.4 643.9,1412.4 644.5,1414.9 645.1,1412.1 645.7,1415.3 646.3,1421.0 646.9,1423.1 647.5,1425.2 648.1,1430.8 648.7,1427.2 649.3,1431.3 649.9,1431.2 650.5,1433.7 651.1,1432.8 651.7,1435.7 652.3,1441.1 652.9,1431.9 653.5,1425.1 654.1,1421.8 654.7,1414.0 655.3,1415.7 655.9,1410.5 656.5,1410.7 657.1,1409.5 657.7,1411.7 658.3,1409.4 658.9,1415.6 659.5,1412.5 660.1,1413.0 660.7,1411.9 661.3,1411.7 661.9,1413.6 662.5,1413.6 663.1,1421.8 663.7,1420.5 664.3,1427.1 664.9,1427.4 665.5,1424.1 666.1,1426.2 666.7,1426.6 667.3,1426.6 667.9,1426.9 668.5,1428.2 669.1,1427.5 669.7,1427.6 670.3,1429.5 670.9,1429.8 671.5,1428.8 672.1,1430.3 672.7,1428.4 673.3,1429.7 673.9,1428.6 674.5,1430.5 675.1,1424.6 675.7,1431.0 676.3,1426.6 676.9,1429.4 677.5,1425.6 678.1,1426.1 678.7,1427.0 679.3,1425.7 679.9,1426.0 680.5,1427.2 681.1,1431.1 681.7,1425.4 682.3,1429.3 682.9,1432.7 683.5,1430.0 684.1,1434.0 684.7,1426.6 685.3,1428.2 685.9,1429.7 686.5,1428.9 687.1,1429.0 687.7,1431.5 688.3,1428.1 688.9,1430.7 689.5,1430.5 690.1,1429.5 690.7,1433.9 691.3,1429.0 691.9,1433.8 692.5,1428.7 693.1,1431.0 693.7,1430.8 694.3,1428.7 694.9,1431.8 695.5,1432.9 696.1,1431.9 696.7,1430.8 697.3,1433.5 697.9,1432.3 698.5,1431.8 699.1,1425.4 699.7,1430.9 700.3,1433.1 700.9,1429.3 701.5,1425.9 702.1,1430.2 702.7,1431.7 703.3,1429.0 703.9,1431.6 704.5,1433.2 705.1,1430.9 705.7,1431.9 706.3,1435.9 706.9,1433.3 707.5,1431.7 708.1,1435.1 708.7,1435.8 709.3,1435.2 709.9,1435.2 710.5,1434.3 711.1,1441.6 711.7,1434.8 712.3,1437.2 712.9,1438.4 713.5,1438.9 714.1,1435.3 714.7,1435.7 715.3,1433.2 715.9,1434.2 716.5,1429.1 717.1,1434.3 717.7,1431.7 718.3,1431.6 718.9,1429.0 719.5,1424.2 720.1,1424.4 720.7,1423.9 721.3,1425.5 721.9,1419.3 722.5,1404.7 723.1,1386.1 723.7,1367.6 724.3,1351.5 724.9,1345.1 725.5,1338.5 726.1,1328.6 726.7,1323.4 727.3,1316.4 727.9,1320.1 728.5,1325.7 729.1,1325.2 729.7,1326.8 730.3,1321.0 730.9,1324.4 731.5,1318.4 732.1,1322.9 732.7,1337.7 733.3,1340.4 733.9,1345.2 734.5,1349.8 735.1,1354.9 735.7,1353.9 736.3,1364.3 736.9,1373.4 737.5,1373.4 738.1,1371.8 738.7,1370.3 739.3,1367.9 739.9,1364.3 740.5,1366.2 741.1,1369.9 741.7,1368.9 742.3,1368.6 742.9,1374.3 743.5,1381.9 744.1,1382.5 744.7,1385.6 745.3,1394.9 745.9,1392.2 746.5,1393.4 747.1,1400.0 747.7,1398.7 748.3,1402.9 748.9,1406.1 749.5,1411.1 750.1,1408.8 750.7,1413.3 751.3,1410.6 751.9,1414.8 752.5,1416.8 753.1,1418.9 753.7,1423.7 754.3,1420.5 754.9,1421.6 755.5,1422.4 756.1,1423.6 756.7,1426.3 757.3,1424.3 757.9,1424.5 758.5,1419.9 759.1,1420.5 759.7,1418.5 760.3,1416.2 760.9,1415.2 761.5,1412.3 762.1,1408.6 762.7,1405.8 763.3,1400.3 763.9,1398.3 764.5,1397.3 765.1,1395.3 765.7,1391.7 766.3,1386.6 766.9,1381.9 767.5,1380.3 768.1,1376.1 768.7,1371.3 769.3,1375.9 769.9,1377.8 770.5,1376.9 771.1,1375.3 771.7,1380.4 772.3,1383.1 772.9,1382.7 773.5,1388.7 774.1,1390.6 774.7,1395.3 775.3,1395.5 775.9,1399.5 776.5,1402.6 777.1,1407.5 777.7,1406.8 778.3,1405.3 778.9,1400.6 779.5,1388.8 780.1,1378.9 780.7,1375.3 781.3,1366.9 781.9,1359.0 782.5,1359.4 783.1,1353.4 783.7,1353.0 784.3,1351.9 784.9,1348.6 785.5,1346.8 786.1,1350.6 786.7,1358.6 787.3,1359.9 787.9,1363.0 788.5,1369.2 789.1,1368.8 789.7,1365.3 790.3,1363.7 790.9,1365.2 791.5,1361.9 792.1,1367.9 792.7,1371.4 793.3,1373.2 793.9,1374.3 794.5,1381.1 795.1,1387.0 795.7,1395.0 796.3,1403.4 796.9,1397.9 797.5,1395.4 798.1,1386.6 798.7,1379.0 799.3,1371.5 799.9,1366.8 800.5,1363.8 801.1,1369.2 801.7,1369.9 802.3,1375.5 802.9,1375.3 803.5,1377.8 804.1,1377.1 804.7,1379.9 805.3,1384.6 805.9,1385.9 806.5,1386.2 807.1,1388.9 807.7,1392.4 808.3,1391.0 808.9,1387.4 809.5,1383.1 810.1,1380.2 810.7,1378.9 811.3,1374.8 811.9,1368.9 812.5,1366.8 813.1,1366.3 813.7,1364.9 814.3,1360.5 814.9,1354.2 815.5,1350.5 816.1,1354.2 816.7,1348.1 817.3,1344.2 817.9,1342.7 818.5,1340.9 819.1,1342.7 819.7,1347.7 820.3,1355.2 820.9,1356.0 821.5,1361.0 822.1,1367.3 822.7,1371.5 823.3,1375.9 823.9,1381.4 824.5,1382.4 825.1,1385.3 825.7,1385.3 826.3,1390.3 826.9,1387.6 827.5,1390.0 828.1,1393.1 828.7,1392.3 829.3,1395.8 829.9,1395.7 830.5,1397.9 831.1,1400.0 831.7,1402.1 832.3,1404.6 832.9,1401.8 833.5,1408.2 834.1,1409.5 834.7,1409.8 835.3,1410.8 835.9,1413.2 836.5,1412.3 837.1,1416.8 837.7,1414.3 838.3,1411.8 838.9,1410.4 839.5,1411.7 840.1,1409.2 840.7,1410.4 841.3,1414.6 841.9,1410.6 842.5,1414.3 843.1,1414.2 843.7,1419.9 844.3,1425.1 844.9,1428.3 845.5,1430.3 846.1,1423.5 846.7,1420.8 847.3,1414.0 847.9,1411.9 848.5,1409.8 849.1,1407.5 849.7,1403.1 850.3,1407.3 850.9,1409.2 851.5,1407.5 852.1,1409.7 852.7,1414.5 853.3,1412.2 853.9,1414.5 854.5,1418.5 855.1,1414.8 855.7,1416.3 856.3,1419.8 856.9,1418.4 857.5,1422.3 858.1,1424.7 858.7,1425.5 859.3,1425.0 859.9,1423.4 860.5,1421.9 861.1,1418.0 861.7,1415.3 862.3,1414.8 862.9,1405.3 863.5,1407.3 864.1,1400.5 864.7,1399.7 865.3,1394.4 865.9,1390.5 866.5,1387.0 867.1,1386.1 867.7,1380.7 868.3,1377.8 868.9,1368.9 869.5,1366.0 870.1,1361.5 870.7,1357.9 871.3,1355.6 871.9,1350.9 872.5,1343.3 873.1,1337.4 873.7,1344.9 874.3,1347.6 874.9,1353.2 875.5,1359.9 876.1,1364.5 876.7,1371.4 877.3,1369.6 877.9,1372.6 878.5,1375.8 879.1,1386.4 879.7,1384.9 880.3,1389.4 880.9,1393.0 881.5,1389.5 882.1,1393.7 882.7,1391.7 883.3,1396.9 883.9,1394.6 884.5,1399.9 885.1,1403.6 885.7,1407.8 886.3,1413.8 886.9,1417.7 887.5,1420.8 888.1,1419.2 888.7,1412.0 889.3,1413.7 889.9,1415.1 890.5,1413.4 891.1,1410.9 891.7,1406.5 892.3,1406.7 892.9,1402.6 893.5,1399.4 894.1,1400.7 894.7,1397.0 895.3,1395.0 895.9,1394.3 896.5,1392.8 897.1,1388.7 897.7,1385.4 898.3,1385.2 898.9,1383.9 899.5,1387.8 900.1,1391.5 900.7,1392.6 901.3,1395.1 901.9,1395.7 902.5,1401.5 903.1,1401.5 903.7,1404.1 904.3,1405.9 904.9,1405.7 905.5,1405.0 906.1,1407.8 906.7,1410.9 907.3,1405.8 907.9,1407.5 908.5,1402.7 909.1,1397.7 909.7,1392.2 910.3,1385.0 910.9,1379.1 911.5,1375.0 912.1,1364.6 912.7,1358.8 913.3,1351.4 913.9,1356.9 914.5,1362.6 915.1,1362.9 915.7,1368.4 916.3,1369.2 916.9,1379.0 917.5,1381.4 918.1,1382.0 918.7,1380.5 919.3,1382.7 919.9,1382.3 920.5,1372.7 921.1,1370.2 921.7,1370.5 922.3,1363.7 922.9,1365.1 923.5,1368.3 924.1,1375.4 924.7,1378.9 925.3,1387.3 925.9,1391.9 926.5,1394.5 927.1,1399.3 927.7,1401.3 928.3,1402.2 928.9,1407.8 929.5,1410.1 930.1,1409.3 930.7,1412.0 931.3,1414.5 931.9,1415.3 932.5,1415.6 933.1,1419.2 933.7,1420.9 934.3,1419.8 934.9,1423.3 935.5,1425.4 936.1,1425.0 936.7,1423.8 937.3,1432.3 937.9,1432.3 938.5,1433.5 939.1,1433.1 939.7,1430.8 940.3,1425.1 940.9,1432.4 941.5,1433.0 942.1,1426.6 942.7,1428.9 943.3,1427.4 943.9,1429.9 944.5,1422.3 945.1,1423.9 945.7,1417.8 946.3,1410.1 946.9,1405.8 947.5,1405.9 948.1,1403.2 948.7,1388.6 949.3,1379.2 949.9,1368.9 950.5,1361.1 951.1,1361.5 951.7,1364.7 952.3,1368.4 952.9,1372.4 953.5,1378.4 954.1,1381.9 954.7,1382.2 955.3,1385.7 955.9,1385.6 956.5,1392.4 957.1,1394.1 957.7,1400.3 958.3,1397.9 958.9,1408.0 959.5,1408.6 960.1,1410.9 960.7,1413.4 961.3,1413.3 961.9,1417.7 962.5,1419.6 963.1,1420.0 963.7,1422.3 964.3,1420.2 964.9,1417.6 965.5,1417.6 966.1,1416.7 966.7,1417.6 967.3,1422.4 967.9,1420.3 968.5,1426.1 969.1,1423.1 969.7,1424.3 970.3,1418.4 970.9,1413.3 971.5,1406.5 972.1,1402.7 972.7,1391.6 973.3,1383.3 973.9,1376.9 974.5,1364.6 975.1,1368.5 975.7,1374.2 976.3,1375.0 976.9,1383.3 977.5,1385.3 978.1,1388.8 978.7,1394.2 979.3,1399.9 979.9,1392.5 980.5,1389.5 981.1,1377.5 981.7,1374.1 982.3,1370.4 982.9,1376.1 983.5,1381.0 984.1,1385.5 984.7,1384.0 985.3,1386.9 985.9,1389.3 986.5,1389.9 987.1,1392.2 987.7,1394.0 988.3,1387.3 988.9,1378.6 989.5,1366.1 990.1,1361.2 990.7,1356.1 991.3,1348.3 991.9,1348.0 992.5,1340.5 993.1,1344.0 993.7,1348.6 994.3,1352.5 994.9,1357.7 995.5,1361.5 996.1,1366.4 996.7,1377.3 997.3,1380.9 997.9,1391.5 998.5,1395.1 999.1,1394.2 999.7,1398.9 1000.3,1400.5 1000.9,1394.2" fill="none" stroke="#111" stroke-width="2.3" stroke-linejoin="round"/><text transform="translate(527.46 795.63) scale(0.988 1)" font-size="37" fill="#a8202d">1st</text><text transform="translate(482.39 840.92) scale(0.983 1)" font-size="38.29" fill="#000">Re-HFD</text><text transform="translate(527.46 980.63) scale(0.988 1)" font-size="37" fill="#a8202d">1st</text><text transform="translate(482.39 1025.42) scale(0.983 1)" font-size="38.29" fill="#000">Re-HFD</text><text transform="translate(527.46 1146.13) scale(0.988 1)" font-size="37" fill="#a8202d">1st</text><text transform="translate(482.39 1191.42) scale(0.983 1)" font-size="38.29" fill="#000">Re-HFD</text><text transform="translate(527.46 1324.83) scale(0.988 1)" font-size="37" fill="#a8202d">1st</text><text transform="translate(482.39 1370.12) scale(0.986 1)" font-size="38.14" fill="#000">Re-HFD</text><polygon points="556.2,857.1 580.3,857.1 568.25,883.1" fill="#e0271f"/><polygon points="557,1042.6 582,1042.6 569.5,1067.5" fill="#e0271f"/><polygon points="555,1208 579.6,1208 567.3,1233.5" fill="#e0271f"/><polygon points="561.4,1385.8 586,1385.8 573.7,1411" fill="#e0271f"/><rect x="658.1" y="929" width="32.1" height="8.1" fill="#8ccfea"/><rect x="698.6" y="929" width="17.7" height="8.1" fill="#8ccfea"/><rect x="784" y="929" width="11.9" height="8.1" fill="#8ccfea"/><rect x="824.2" y="929" width="29.8" height="8.1" fill="#8ccfea"/><rect x="861.6" y="929" width="19.4" height="8.1" fill="#8ccfea"/><rect x="886.9" y="929" width="10.1" height="8.1" fill="#8ccfea"/><rect x="900" y="929" width="34.6" height="8.1" fill="#8ccfea"/><rect x="936.1" y="929" width="17.7" height="8.1" fill="#8ccfea"/><rect x="658.1" y="1108.8" width="32.1" height="8.1" fill="#8ccfea"/><rect x="698.6" y="1108.8" width="17.7" height="8.1" fill="#8ccfea"/><rect x="784" y="1108.8" width="11.9" height="8.1" fill="#8ccfea"/><rect x="824.2" y="1108.8" width="29.8" height="8.1" fill="#8ccfea"/><rect x="861.6" y="1108.8" width="19.4" height="8.1" fill="#8ccfea"/><rect x="886.9" y="1108.8" width="10.1" height="8.1" fill="#8ccfea"/><rect x="900" y="1108.8" width="34.6" height="8.1" fill="#8ccfea"/><rect x="936.1" y="1108.8" width="17.7" height="8.1" fill="#8ccfea"/><rect x="658.1" y="1266" width="32.1" height="7.8" fill="#8ccfea"/><rect x="698.6" y="1266" width="17.7" height="7.8" fill="#8ccfea"/><rect x="784" y="1266" width="11.9" height="7.8" fill="#8ccfea"/><rect x="824.2" y="1266" width="29.8" height="7.8" fill="#8ccfea"/><rect x="861.6" y="1266" width="19.4" height="7.8" fill="#8ccfea"/><rect x="886.9" y="1266" width="10.1" height="7.8" fill="#8ccfea"/><rect x="900" y="1266" width="34.6" height="7.8" fill="#8ccfea"/><rect x="936.1" y="1266" width="17.7" height="7.8" fill="#8ccfea"/><rect x="658.1" y="1447.4" width="32.1" height="8" fill="#8ccfea"/><rect x="698.6" y="1447.4" width="17.7" height="8" fill="#8ccfea"/><rect x="784" y="1447.4" width="11.9" height="8" fill="#8ccfea"/><rect x="824.2" y="1447.4" width="29.8" height="8" fill="#8ccfea"/><rect x="861.6" y="1447.4" width="19.4" height="8" fill="#8ccfea"/><rect x="886.9" y="1447.4" width="10.1" height="8" fill="#8ccfea"/><rect x="900" y="1447.4" width="34.6" height="8" fill="#8ccfea"/><rect x="936.1" y="1447.4" width="17.7" height="8" fill="#8ccfea"/><path d="M947.7,1488.3 H1051.4 V1397.3" fill="none" stroke="#111" stroke-width="2.2"/><text transform="translate(952.46 1525.86) scale(0.981 1)" font-size="34.23" fill="#000">30 sec</text><text transform="translate(1062.95 1420.58) rotate(90) scale(1.001 1)" font-size="34.93" fill="#000">10%</text><path d="M578.5,1723.0 579.0,1726.7 579.5,1729.7 580.0,1725.5 580.5,1728.4 581.0,1726.5 581.5,1728.8 582.0,1729.9 582.5,1728.7 583.0,1729.5 583.5,1726.7 584.0,1730.9 584.5,1727.5 585.0,1727.8 585.5,1729.1 586.0,1730.7 586.5,1729.9 587.0,1732.6 587.5,1729.8 588.0,1728.5 588.5,1728.6 589.0,1729.5 589.5,1728.0 590.0,1730.3 590.5,1730.9 591.0,1729.6 591.5,1728.6 592.0,1727.1 592.5,1727.8 593.0,1727.7 593.5,1727.9 594.0,1728.3 594.5,1728.3 595.0,1726.8 595.5,1728.7 596.0,1728.0 596.5,1725.5 597.0,1718.7 597.5,1717.4 598.0,1720.4 598.5,1722.5 599.0,1725.4 599.5,1727.5 600.0,1726.9 600.5,1728.9 601.0,1727.2 601.5,1728.9 602.0,1729.5 602.5,1729.3 603.0,1730.5 603.5,1729.5 604.0,1729.1 604.5,1728.9 605.0,1731.2 605.5,1728.6 606.0,1730.3 606.5,1729.8 607.0,1731.0 607.5,1732.6 608.0,1730.1 608.5,1731.8 609.0,1731.7 609.5,1731.0 610.0,1729.5 610.5,1731.7 611.0,1730.3 611.5,1731.2 612.0,1730.2 612.5,1731.9 613.0,1730.9 613.5,1728.8 614.0,1728.8 614.5,1731.6 615.0,1729.6 615.5,1729.7 616.0,1726.8 616.5,1730.3 617.0,1731.1 617.5,1731.9 618.0,1728.6 618.5,1731.3 619.0,1728.4 619.5,1729.3 620.0,1729.3 620.5,1729.8 621.0,1728.8 621.5,1726.9 622.0,1724.8 622.5,1728.6 623.0,1726.6 623.5,1727.9 624.0,1730.8 624.5,1728.9 625.0,1730.1 625.5,1732.0 626.0,1727.1 626.5,1730.6 627.0,1726.2 627.5,1729.6 628.0,1729.4 628.5,1730.2 629.0,1730.6 629.5,1726.6 630.0,1727.1 630.5,1729.9 631.0,1730.3 631.5,1728.0 632.0,1729.9 632.5,1728.0 633.0,1729.5 633.5,1733.7 634.0,1731.0 634.5,1730.2 635.0,1729.5 635.5,1731.8 636.0,1730.4 636.5,1722.6 637.0,1727.2 637.5,1723.9 638.0,1722.9 638.5,1724.1 639.0,1725.1 639.5,1726.0 640.0,1729.0 640.5,1729.1 641.0,1727.0 641.5,1729.3 642.0,1729.5 642.5,1729.3 643.0,1727.5 643.5,1727.9 644.0,1727.7 644.5,1730.5 645.0,1730.9 645.5,1728.9 646.0,1726.9 646.5,1726.9 647.0,1728.2 647.5,1726.7 648.0,1728.6 648.5,1727.8 649.0,1726.7 649.5,1727.4 650.0,1728.1 650.5,1729.2 651.0,1728.1 651.5,1728.8 652.0,1728.2 652.5,1726.6 653.0,1726.6 653.5,1727.9 654.0,1727.8 654.5,1726.2 655.0,1729.9 655.5,1728.9 656.0,1728.1 656.5,1730.1 657.0,1728.4 657.5,1727.7 658.0,1728.5 658.5,1729.5 659.0,1728.3 659.5,1728.2 660.0,1730.8 660.5,1729.1 661.0,1729.9 661.5,1731.1 662.0,1728.3 662.5,1729.2 663.0,1727.4 663.5,1732.4 664.0,1730.4 664.5,1729.6 665.0,1728.0 665.5,1732.8 666.0,1725.8 666.5,1729.0 667.0,1732.0 667.5,1728.7 668.0,1730.3 668.5,1733.1 669.0,1730.0 669.5,1728.7 670.0,1732.9 670.5,1729.1 671.0,1732.3 671.5,1727.7 672.0,1732.1 672.5,1730.3 673.0,1726.4 673.5,1730.0 674.0,1728.5 674.5,1729.5 675.0,1729.5 675.5,1727.6 676.0,1730.8 676.5,1731.6 677.0,1721.6 677.5,1714.0 678.0,1715.0 678.5,1716.7 679.0,1719.8 679.5,1721.9 680.0,1723.0 680.5,1726.7 681.0,1725.1 681.5,1723.9 682.0,1723.0 682.5,1726.6 683.0,1725.4 683.5,1728.2 684.0,1725.3 684.5,1721.8 685.0,1726.5 685.5,1730.3 686.0,1730.2 686.5,1729.1 687.0,1726.1 687.5,1721.5 688.0,1720.0 688.5,1717.6 689.0,1719.0 689.5,1721.6 690.0,1723.4 690.5,1724.3 691.0,1729.2 691.5,1729.0 692.0,1721.8 692.5,1727.0 693.0,1727.0 693.5,1728.8 694.0,1727.6 694.5,1727.4 695.0,1726.5 695.5,1727.5 696.0,1728.3 696.5,1730.8 697.0,1720.3 697.5,1722.8 698.0,1718.4 698.5,1723.4 699.0,1723.6 699.5,1724.1 700.0,1725.1 700.5,1724.3 701.0,1728.9 701.5,1728.9 702.0,1729.4 702.5,1728.5 703.0,1722.4 703.5,1724.7 704.0,1716.8 704.5,1724.7 705.0,1724.7 705.5,1728.9 706.0,1730.4 706.5,1731.6 707.0,1730.2 707.5,1731.4 708.0,1725.5 708.5,1729.7 709.0,1730.5 709.5,1730.8 710.0,1725.7 710.5,1728.7 711.0,1728.9 711.5,1727.5 712.0,1728.3 712.5,1729.8 713.0,1727.3 713.5,1716.0 714.0,1709.9 714.5,1698.3 715.0,1702.8 715.5,1706.7 716.0,1713.7 716.5,1719.2 717.0,1720.6 717.5,1720.3 718.0,1722.5 718.5,1724.9 719.0,1722.7 719.5,1719.0 720.0,1716.3 720.5,1710.8 721.0,1707.4 721.5,1703.4 722.0,1702.7 722.5,1707.8 723.0,1716.0 723.5,1723.0 724.0,1722.3 724.5,1724.3 725.0,1722.2 725.5,1722.5 726.0,1725.1 726.5,1723.1 727.0,1723.7 727.5,1725.0 728.0,1723.6 728.5,1718.4 729.0,1724.7 729.5,1724.2 730.0,1724.8 730.5,1724.5 731.0,1725.9 731.5,1725.7 732.0,1727.2 732.5,1725.8 733.0,1725.5 733.5,1726.8 734.0,1727.9 734.5,1729.8 735.0,1726.6 735.5,1725.1 736.0,1727.6 736.5,1729.0 737.0,1728.7 737.5,1729.6 738.0,1729.0 738.5,1728.7 739.0,1729.8 739.5,1730.4 740.0,1729.9 740.5,1725.6 741.0,1722.9 741.5,1712.5 742.0,1701.3 742.5,1701.4 743.0,1710.6 743.5,1712.9 744.0,1724.4 744.5,1722.2 745.0,1724.9 745.5,1728.5 746.0,1727.6 746.5,1724.5 747.0,1722.7 747.5,1727.1 748.0,1726.8 748.5,1723.3 749.0,1720.4 749.5,1718.9 750.0,1720.2 750.5,1716.6 751.0,1720.7 751.5,1722.1 752.0,1723.9 752.5,1724.7 753.0,1719.4 753.5,1726.0 754.0,1727.8 754.5,1727.0 755.0,1728.3 755.5,1727.7 756.0,1728.6 756.5,1726.8 757.0,1727.1 757.5,1731.0 758.0,1730.6 758.5,1728.7 759.0,1732.6 759.5,1730.4 760.0,1730.6 760.5,1729.0 761.0,1727.2 761.5,1729.5 762.0,1732.6 762.5,1729.2 763.0,1729.5 763.5,1727.4 764.0,1727.9 764.5,1725.8 765.0,1728.6 765.5,1731.4 766.0,1726.4 766.5,1724.1 767.0,1722.6 767.5,1721.1 768.0,1719.8 768.5,1721.3 769.0,1718.2 769.5,1724.6 770.0,1723.6 770.5,1724.4 771.0,1727.2 771.5,1727.3 772.0,1730.5 772.5,1727.6 773.0,1728.6 773.5,1726.1 774.0,1728.6 774.5,1723.7 775.0,1723.0 775.5,1728.5 776.0,1725.8 776.5,1724.2 777.0,1727.8 777.5,1728.1 778.0,1727.8 778.5,1730.7 779.0,1735.3 779.5,1731.8 780.0,1731.5 780.5,1730.6 781.0,1728.6 781.5,1730.1 782.0,1732.6 782.5,1732.0 783.0,1734.0 783.5,1736.0 784.0,1734.9 784.5,1733.4 785.0,1731.9 785.5,1734.3 786.0,1733.5 786.5,1734.9 787.0,1734.0 787.5,1734.4 788.0,1734.4 788.5,1732.8 789.0,1735.1 789.5,1735.0 790.0,1732.6 790.5,1732.1 791.0,1731.8 791.5,1731.9 792.0,1730.2 792.5,1728.6 793.0,1727.8 793.5,1729.9 794.0,1728.8 794.5,1728.9 795.0,1729.2 795.5,1728.1 796.0,1726.2 796.5,1729.1 797.0,1729.8 797.5,1726.8 798.0,1727.3 798.5,1727.6 799.0,1728.9 799.5,1732.7 800.0,1729.8 800.5,1729.1 801.0,1731.3 801.5,1731.4 802.0,1730.4 802.5,1730.1 803.0,1730.5 803.5,1731.1 804.0,1730.1 804.5,1727.0 805.0,1726.1 805.5,1729.6 806.0,1727.5 806.5,1725.8 807.0,1726.6 807.5,1728.3 808.0,1732.7 808.5,1728.8 809.0,1724.0 809.5,1725.9 810.0,1723.0 810.5,1721.4 811.0,1719.4 811.5,1717.1 812.0,1715.0 812.5,1714.9 813.0,1712.8 813.5,1711.5 814.0,1707.2 814.5,1705.9 815.0,1696.7 815.5,1692.8 816.0,1698.5 816.5,1704.8 817.0,1708.8 817.5,1711.8 818.0,1718.3 818.5,1721.4 819.0,1722.0 819.5,1725.0 820.0,1724.1 820.5,1725.2 821.0,1730.2 821.5,1728.0 822.0,1730.1 822.5,1727.7 823.0,1729.5 823.5,1729.0 824.0,1732.6 824.5,1727.9 825.0,1732.5 825.5,1731.9 826.0,1733.7 826.5,1732.7 827.0,1730.2 827.5,1731.9 828.0,1732.7 828.5,1735.8 829.0,1732.1 829.5,1730.6 830.0,1731.8 830.5,1725.9 831.0,1729.8 831.5,1729.5 832.0,1727.9 832.5,1727.9 833.0,1729.5 833.5,1731.7 834.0,1725.1 834.5,1728.9 835.0,1725.5 835.5,1725.2 836.0,1725.5 836.5,1726.0 837.0,1727.0 837.5,1727.8 838.0,1728.0 838.5,1729.0 839.0,1731.7 839.5,1729.3 840.0,1730.0 840.5,1727.9 841.0,1730.6 841.5,1727.8 842.0,1726.6 842.5,1727.8 843.0,1725.9 843.5,1726.7 844.0,1726.2 844.5,1722.7 845.0,1723.6 845.5,1718.4 846.0,1710.6 846.5,1705.3 847.0,1698.8 847.5,1691.3 848.0,1695.3 848.5,1698.9 849.0,1710.7 849.5,1710.9 850.0,1713.8 850.5,1714.5 851.0,1713.6 851.5,1722.1 852.0,1717.1 852.5,1718.1 853.0,1718.9 853.5,1719.4 854.0,1721.6 854.5,1722.3 855.0,1725.8 855.5,1720.3 856.0,1724.1 856.5,1723.3 857.0,1723.4 857.5,1727.0 858.0,1724.7 858.5,1723.9 859.0,1725.2 859.5,1728.6 860.0,1728.6 860.5,1728.0 861.0,1730.9 861.5,1727.6 862.0,1729.5 862.5,1732.4 863.0,1729.1 863.5,1728.9 864.0,1734.7 864.5,1735.5 865.0,1731.0 865.5,1732.3 866.0,1733.3 866.5,1734.1 867.0,1734.7 867.5,1734.0 868.0,1730.0 868.5,1735.4 869.0,1730.0 869.5,1729.5 870.0,1725.7 870.5,1725.1 871.0,1725.6 871.5,1723.1 872.0,1725.3 872.5,1727.5 873.0,1725.3 873.5,1729.6 874.0,1734.0 874.5,1738.8 875.0,1736.1 875.5,1736.5 876.0,1729.7 876.5,1735.0 877.0,1734.7 877.5,1731.2 878.0,1732.6 878.5,1731.8 879.0,1732.8 879.5,1730.0 880.0,1730.4 880.5,1730.8 881.0,1734.9 881.5,1729.6 882.0,1728.2 882.5,1729.7 883.0,1726.8 883.5,1726.5 884.0,1725.5 884.5,1725.1 885.0,1725.6 885.5,1724.9 886.0,1724.5 886.5,1726.4 887.0,1731.2 887.5,1728.5 888.0,1727.5 888.5,1725.1 889.0,1719.7 889.5,1720.6 890.0,1721.0 890.5,1719.7 891.0,1724.2 891.5,1722.8 892.0,1726.3 892.5,1726.5 893.0,1724.0 893.5,1724.9 894.0,1726.6 894.5,1729.8 895.0,1728.0 895.5,1726.1 896.0,1727.5 896.5,1727.1 897.0,1729.0 897.5,1730.6 898.0,1728.6 898.5,1730.3 899.0,1729.0 899.5,1730.4 900.0,1737.9 900.5,1729.5 901.0,1727.6 901.5,1728.8 902.0,1728.1 902.5,1730.8 903.0,1733.4 903.5,1729.7 904.0,1727.5 904.5,1730.5 905.0,1730.8 905.5,1729.4 906.0,1731.6 906.5,1727.4 907.0,1734.8 907.5,1733.7 908.0,1731.2 908.5,1729.6 909.0,1731.5 909.5,1732.1 910.0,1730.3 910.5,1727.7 911.0,1730.8 911.5,1731.9 912.0,1732.3 912.5,1731.8 913.0,1731.0 913.5,1736.2 914.0,1732.5 914.5,1734.5 915.0,1737.6 915.5,1731.8 916.0,1733.4 916.5,1731.0 917.0,1729.6 917.5,1730.0 918.0,1732.2 918.5,1730.1 919.0,1726.0 919.5,1724.5 920.0,1722.1 920.5,1717.6 921.0,1716.4 921.5,1717.3 922.0,1712.8 922.5,1716.0 923.0,1713.0 923.5,1713.5 924.0,1710.6 924.5,1715.4 925.0,1710.7 925.5,1717.3 926.0,1718.5 926.5,1722.2 927.0,1719.8 927.5,1717.4 928.0,1727.0 928.5,1721.8 929.0,1722.4 929.5,1716.9 930.0,1711.9 930.5,1706.6 931.0,1701.1 931.5,1706.4 932.0,1707.9 932.5,1709.5 933.0,1714.3 933.5,1719.5 934.0,1718.0 934.5,1717.6 935.0,1722.5 935.5,1721.9 936.0,1722.5 936.5,1720.8 937.0,1722.3 937.5,1722.5 938.0,1723.3 938.5,1723.4 939.0,1722.4 939.5,1720.2 940.0,1719.8 940.5,1715.2 941.0,1715.6 941.5,1714.0 942.0,1713.5 942.5,1710.3 943.0,1707.4 943.5,1704.5 944.0,1707.0 944.5,1713.1 945.0,1716.1 945.5,1720.7 946.0,1715.9 946.5,1715.8 947.0,1713.8 947.5,1713.5 948.0,1711.5 948.5,1710.7 949.0,1709.1 949.5,1709.4 950.0,1705.6 950.5,1699.3 951.0,1704.9 951.5,1694.3 952.0,1690.3 952.5,1686.8 953.0,1688.0 953.5,1695.5 954.0,1701.5 954.5,1705.1 955.0,1711.2 955.5,1706.3 956.0,1707.7 956.5,1705.9 957.0,1704.0 957.5,1705.1 958.0,1704.1 958.5,1708.1 959.0,1714.6 959.5,1720.3 960.0,1720.6 960.5,1721.5 961.0,1722.6 961.5,1722.3 962.0,1727.2 962.5,1724.1 963.0,1730.1 963.5,1723.0 964.0,1726.3 964.5,1727.3 965.0,1726.6 965.5,1723.7 966.0,1723.4 966.5,1724.0 967.0,1721.0 967.5,1721.1 968.0,1721.1 968.5,1723.4 969.0,1722.8 969.5,1725.8 970.0,1729.1 970.5,1728.2 971.0,1728.9 971.5,1729.0 972.0,1730.1 972.5,1727.9 973.0,1727.8 973.5,1727.0 974.0,1728.3 974.5,1728.2 975.0,1727.5 975.5,1728.2 976.0,1727.6 976.5,1726.5 977.0,1720.0 977.5,1721.1 978.0,1713.0 978.5,1709.4 979.0,1706.0 979.5,1703.1 980.0,1700.0 980.5,1706.2 981.0,1711.5 981.5,1713.7 982.0,1721.2 982.5,1723.7 983.0,1724.7 983.5,1726.7 984.0,1725.9 984.5,1729.6 985.0,1727.3 985.5,1726.5 986.0,1727.0 986.5,1727.7 987.0,1727.3 987.5,1727.5 988.0,1729.8 988.5,1728.3 989.0,1727.0 989.5,1720.7 990.0,1722.3 990.5,1719.6 991.0,1716.8 991.5,1714.8 992.0,1714.2 992.5,1715.9 993.0,1719.6 993.5,1724.9 994.0,1720.9 994.5,1725.3 995.0,1729.2 995.5,1726.7 996.0,1728.1 996.5,1732.6 997.0,1730.1 997.5,1727.8" fill="none" stroke="#111" stroke-width="2.6" stroke-linejoin="round"/><path d="M579.2,1907.2 579.7,1908.3 580.2,1908.2 580.7,1910.0 581.2,1907.0 581.7,1907.9 582.2,1907.6 582.7,1909.0 583.2,1907.4 583.7,1909.7 584.2,1903.5 584.7,1908.6 585.2,1909.7 585.7,1909.3 586.2,1907.2 586.7,1902.9 587.2,1909.5 587.7,1911.7 588.2,1909.2 588.7,1907.9 589.2,1909.5 589.7,1909.2 590.2,1908.2 590.7,1908.9 591.2,1908.4 591.7,1908.8 592.2,1909.3 592.7,1906.7 593.2,1911.0 593.7,1913.5 594.2,1909.2 594.7,1909.8 595.2,1905.0 595.7,1907.3 596.2,1910.4 596.7,1909.5 597.2,1908.7 597.7,1907.0 598.2,1908.7 598.7,1908.8 599.2,1908.1 599.7,1905.7 600.2,1908.6 600.7,1906.7 601.2,1905.7 601.7,1909.4 602.2,1910.3 602.7,1907.0 603.2,1907.1 603.7,1908.7 604.2,1907.6 604.7,1909.9 605.2,1909.2 605.7,1908.7 606.2,1913.1 606.7,1909.6 607.2,1907.8 607.7,1907.5 608.2,1909.0 608.7,1908.3 609.2,1911.1 609.7,1906.7 610.2,1908.4 610.7,1907.9 611.2,1909.8 611.7,1910.3 612.2,1909.8 612.7,1907.7 613.2,1910.6 613.7,1903.3 614.2,1908.6 614.7,1912.0 615.2,1911.8 615.7,1905.1 616.2,1909.6 616.7,1907.6 617.2,1909.3 617.7,1908.2 618.2,1907.6 618.7,1909.1 619.2,1909.3 619.7,1909.0 620.2,1909.2 620.7,1908.6 621.2,1911.0 621.7,1908.3 622.2,1910.8 622.7,1909.6 623.2,1909.8 623.7,1905.6 624.2,1909.7 624.7,1917.6 625.2,1909.2 625.7,1911.8 626.2,1909.1 626.7,1908.1 627.2,1910.5 627.7,1910.5 628.2,1906.5 628.7,1910.4 629.2,1909.2 629.7,1910.9 630.2,1908.9 630.7,1908.2 631.2,1911.1 631.7,1909.6 632.2,1910.7 632.7,1905.7 633.2,1910.1 633.7,1910.3 634.2,1909.1 634.7,1908.2 635.2,1908.0 635.7,1911.4 636.2,1910.2 636.7,1911.3 637.2,1908.7 637.7,1910.0 638.2,1909.3 638.7,1909.5 639.2,1909.7 639.7,1906.1 640.2,1911.3 640.7,1909.1 641.2,1909.6 641.7,1904.2 642.2,1906.6 642.7,1912.1 643.2,1908.4 643.7,1910.3 644.2,1909.2 644.7,1910.3 645.2,1909.9 645.7,1911.8 646.2,1909.7 646.7,1906.0 647.2,1907.4 647.7,1910.2 648.2,1909.1 648.7,1909.5 649.2,1910.8 649.7,1909.2 650.2,1910.4 650.7,1909.6 651.2,1909.0 651.7,1908.1 652.2,1910.4 652.7,1909.0 653.2,1905.2 653.7,1907.4 654.2,1911.1 654.7,1905.5 655.2,1908.8 655.7,1906.5 656.2,1908.9 656.7,1909.4 657.2,1905.9 657.7,1911.4 658.2,1908.5 658.7,1912.3 659.2,1908.3 659.7,1908.8 660.2,1907.8 660.7,1907.2 661.2,1908.6 661.7,1915.4 662.2,1908.5 662.7,1907.9 663.2,1907.2 663.7,1905.3 664.2,1908.5 664.7,1908.3 665.2,1909.9 665.7,1908.0 666.2,1907.4 666.7,1915.3 667.2,1909.3 667.7,1905.5 668.2,1907.5 668.7,1905.8 669.2,1908.9 669.7,1907.2 670.2,1907.6 670.7,1908.5 671.2,1909.4 671.7,1908.7 672.2,1907.6 672.7,1908.9 673.2,1907.5 673.7,1908.3 674.2,1906.5 674.7,1909.3 675.2,1909.1 675.7,1907.6 676.2,1906.7 676.7,1902.0 677.2,1907.7 677.7,1907.6 678.2,1904.6 678.7,1907.7 679.2,1911.7 679.7,1908.7 680.2,1907.7 680.7,1908.5 681.2,1908.4 681.7,1907.2 682.2,1907.1 682.7,1907.7 683.2,1905.2 683.7,1906.0 684.2,1905.0 684.7,1914.1 685.2,1908.4 685.7,1907.0 686.2,1905.6 686.7,1900.2 687.2,1906.0 687.7,1904.5 688.2,1907.0 688.7,1903.3 689.2,1900.8 689.7,1902.1 690.2,1897.5 690.7,1900.2 691.2,1901.1 691.7,1899.5 692.2,1899.5 692.7,1901.7 693.2,1900.1 693.7,1899.3 694.2,1896.6 694.7,1899.8 695.2,1898.3 695.7,1900.3 696.2,1898.6 696.7,1897.7 697.2,1897.8 697.7,1895.3 698.2,1896.3 698.7,1898.9 699.2,1895.9 699.7,1895.5 700.2,1894.0 700.7,1894.9 701.2,1892.9 701.7,1896.9 702.2,1892.5 702.7,1893.1 703.2,1893.7 703.7,1893.4 704.2,1893.8 704.7,1893.2 705.2,1891.3 705.7,1893.7 706.2,1896.3 706.7,1892.0 707.2,1894.8 707.7,1893.4 708.2,1893.7 708.7,1893.3 709.2,1894.1 709.7,1894.0 710.2,1894.1 710.7,1894.3 711.2,1895.3 711.7,1895.6 712.2,1894.5 712.7,1893.2 713.2,1896.2 713.7,1896.5 714.2,1898.9 714.7,1902.3 715.2,1898.9 715.7,1899.8 716.2,1901.1 716.7,1903.3 717.2,1901.3 717.7,1901.6 718.2,1904.5 718.7,1904.5 719.2,1904.0 719.7,1904.9 720.2,1902.5 720.7,1905.1 721.2,1908.9 721.7,1906.7 722.2,1907.1 722.7,1904.5 723.2,1912.7 723.7,1905.4 724.2,1904.2 724.7,1903.7 725.2,1906.1 725.7,1906.5 726.2,1903.1 726.7,1906.9 727.2,1904.6 727.7,1905.7 728.2,1906.5 728.7,1907.7 729.2,1908.5 729.7,1908.5 730.2,1908.5 730.7,1907.9 731.2,1908.3 731.7,1908.8 732.2,1908.3 732.7,1910.5 733.2,1910.3 733.7,1908.7 734.2,1908.3 734.7,1909.9 735.2,1908.1 735.7,1912.8 736.2,1914.6 736.7,1906.1 737.2,1907.2 737.7,1911.0 738.2,1906.4 738.7,1907.2 739.2,1909.6 739.7,1908.4 740.2,1909.0 740.7,1908.9 741.2,1906.7 741.7,1908.8 742.2,1909.8 742.7,1909.4 743.2,1909.8 743.7,1909.0 744.2,1909.4 744.7,1908.0 745.2,1909.4 745.7,1909.3 746.2,1909.5 746.7,1909.0 747.2,1912.9 747.7,1904.5 748.2,1914.2 748.7,1909.2 749.2,1909.6 749.7,1909.3 750.2,1909.2 750.7,1909.4 751.2,1907.7 751.7,1908.3 752.2,1909.0 752.7,1908.9 753.2,1908.7 753.7,1909.3 754.2,1908.7 754.7,1907.9 755.2,1907.9 755.7,1908.2 756.2,1908.4 756.7,1907.7 757.2,1909.3 757.7,1909.6 758.2,1906.5 758.7,1909.3 759.2,1911.2 759.7,1909.7 760.2,1907.4 760.7,1906.6 761.2,1908.0 761.7,1908.3 762.2,1906.9 762.7,1909.4 763.2,1908.8 763.7,1906.2 764.2,1906.9 764.7,1908.7 765.2,1908.9 765.7,1909.5 766.2,1911.0 766.7,1908.5 767.2,1908.7 767.7,1909.8 768.2,1908.6 768.7,1908.5 769.2,1912.2 769.7,1908.1 770.2,1912.8 770.7,1906.6 771.2,1910.5 771.7,1907.1 772.2,1908.8 772.7,1909.4 773.2,1910.4 773.7,1908.2 774.2,1909.7 774.7,1907.9 775.2,1912.1 775.7,1907.5 776.2,1908.7 776.7,1908.2 777.2,1910.5 777.7,1910.4 778.2,1910.4 778.7,1908.2 779.2,1907.2 779.7,1908.3 780.2,1908.9 780.7,1904.2 781.2,1904.6 781.7,1902.0 782.2,1904.2 782.7,1904.5 783.2,1895.5 783.7,1902.9 784.2,1897.6 784.7,1892.6 785.2,1894.2 785.7,1895.4 786.2,1892.9 786.7,1892.1 787.2,1893.1 787.7,1892.4 788.2,1894.4 788.7,1890.9 789.2,1896.1 789.7,1894.2 790.2,1896.7 790.7,1896.8 791.2,1897.9 791.7,1897.3 792.2,1897.4 792.7,1899.6 793.2,1902.7 793.7,1899.4 794.2,1899.2 794.7,1899.4 795.2,1899.8 795.7,1900.2 796.2,1897.5 796.7,1900.8 797.2,1902.3 797.7,1899.2 798.2,1902.0 798.7,1903.3 799.2,1901.2 799.7,1902.0 800.2,1902.1 800.7,1898.7 801.2,1898.7 801.7,1903.5 802.2,1903.2 802.7,1903.2 803.2,1901.2 803.7,1905.1 804.2,1903.6 804.7,1905.3 805.2,1901.4 805.7,1898.3 806.2,1903.2 806.7,1900.0 807.2,1898.8 807.7,1898.3 808.2,1898.2 808.7,1899.4 809.2,1897.5 809.7,1891.3 810.2,1896.1 810.7,1894.5 811.2,1896.8 811.7,1890.7 812.2,1887.0 812.7,1896.5 813.2,1892.2 813.7,1888.7 814.2,1892.4 814.7,1886.8 815.2,1891.8 815.7,1891.2 816.2,1891.0 816.7,1892.6 817.2,1892.2 817.7,1890.8 818.2,1890.9 818.7,1893.5 819.2,1891.7 819.7,1891.1 820.2,1895.6 820.7,1892.9 821.2,1896.3 821.7,1892.5 822.2,1894.9 822.7,1895.5 823.2,1896.1 823.7,1893.9 824.2,1897.3 824.7,1894.3 825.2,1899.4 825.7,1898.8 826.2,1899.2 826.7,1901.5 827.2,1905.0 827.7,1900.6 828.2,1901.3 828.7,1902.8 829.2,1904.3 829.7,1903.0 830.2,1900.6 830.7,1902.8 831.2,1904.9 831.7,1903.7 832.2,1903.6 832.7,1902.7 833.2,1900.6 833.7,1905.2 834.2,1901.4 834.7,1903.3 835.2,1901.3 835.7,1903.3 836.2,1902.2 836.7,1901.5 837.2,1901.1 837.7,1900.4 838.2,1901.8 838.7,1900.5 839.2,1898.6 839.7,1899.6 840.2,1900.5 840.7,1897.5 841.2,1899.6 841.7,1899.2 842.2,1900.5 842.7,1899.7 843.2,1900.4 843.7,1899.6 844.2,1894.9 844.7,1899.7 845.2,1895.6 845.7,1899.4 846.2,1897.8 846.7,1899.5 847.2,1898.4 847.7,1899.3 848.2,1898.5 848.7,1899.9 849.2,1897.8 849.7,1899.1 850.2,1901.3 850.7,1898.5 851.2,1900.0 851.7,1900.3 852.2,1899.7 852.7,1901.0 853.2,1901.6 853.7,1900.4 854.2,1899.3 854.7,1898.5 855.2,1896.1 855.7,1897.1 856.2,1896.6 856.7,1896.3 857.2,1894.9 857.7,1890.9 858.2,1895.4 858.7,1894.5 859.2,1893.3 859.7,1893.9 860.2,1892.5 860.7,1894.9 861.2,1896.8 861.7,1895.3 862.2,1895.5 862.7,1893.6 863.2,1901.9 863.7,1898.8 864.2,1894.9 864.7,1896.4 865.2,1900.5 865.7,1900.3 866.2,1899.0 866.7,1898.2 867.2,1897.5 867.7,1894.8 868.2,1897.8 868.7,1897.2 869.2,1897.4 869.7,1896.9 870.2,1894.9 870.7,1898.4 871.2,1897.0 871.7,1901.6 872.2,1897.7 872.7,1898.5 873.2,1899.9 873.7,1900.7 874.2,1901.7 874.7,1898.9 875.2,1906.0 875.7,1902.4 876.2,1903.8 876.7,1902.2 877.2,1902.8 877.7,1901.1 878.2,1900.4 878.7,1904.9 879.2,1898.6 879.7,1901.3 880.2,1902.9 880.7,1902.5 881.2,1901.1 881.7,1902.4 882.2,1899.7 882.7,1900.5 883.2,1902.1 883.7,1901.1 884.2,1900.3 884.7,1901.2 885.2,1901.6 885.7,1902.0 886.2,1899.4 886.7,1898.1 887.2,1900.4 887.7,1902.6 888.2,1898.7 888.7,1902.0 889.2,1903.0 889.7,1903.5 890.2,1904.6 890.7,1905.0 891.2,1902.9 891.7,1903.6 892.2,1905.8 892.7,1906.2 893.2,1902.4 893.7,1906.0 894.2,1904.4 894.7,1906.3 895.2,1907.8 895.7,1906.5 896.2,1906.7 896.7,1907.5 897.2,1905.8 897.7,1907.6 898.2,1905.9 898.7,1901.7 899.2,1908.1 899.7,1905.1 900.2,1907.3 900.7,1901.8 901.2,1903.3 901.7,1902.1 902.2,1905.9 902.7,1907.6 903.2,1903.9 903.7,1903.9 904.2,1905.7 904.7,1905.7 905.2,1907.4 905.7,1906.8 906.2,1905.7 906.7,1906.0 907.2,1909.0 907.7,1904.1 908.2,1906.1 908.7,1906.0 909.2,1900.5 909.7,1906.1 910.2,1905.4 910.7,1906.9 911.2,1906.6 911.7,1905.4 912.2,1906.7 912.7,1904.9 913.2,1905.2 913.7,1903.8 914.2,1906.6 914.7,1904.6 915.2,1904.2 915.7,1912.2 916.2,1900.5 916.7,1905.7 917.2,1904.3 917.7,1905.0 918.2,1906.5 918.7,1906.7 919.2,1901.5 919.7,1905.3 920.2,1905.3 920.7,1906.5 921.2,1907.3 921.7,1912.2 922.2,1905.2 922.7,1906.1 923.2,1906.2 923.7,1906.1 924.2,1906.2 924.7,1906.9 925.2,1905.7 925.7,1908.7 926.2,1906.9 926.7,1905.2 927.2,1908.0 927.7,1908.2 928.2,1905.6 928.7,1907.3 929.2,1908.7 929.7,1903.9 930.2,1905.6 930.7,1905.0 931.2,1904.3 931.7,1905.2 932.2,1905.7 932.7,1905.7 933.2,1906.6 933.7,1905.9 934.2,1906.0 934.7,1904.9 935.2,1907.0 935.7,1904.1 936.2,1907.7 936.7,1906.0 937.2,1903.3 937.7,1905.9 938.2,1906.5 938.7,1909.2 939.2,1906.7 939.7,1907.3 940.2,1904.5 940.7,1902.2 941.2,1905.9 941.7,1909.2 942.2,1904.0 942.7,1904.9 943.2,1900.3 943.7,1904.2 944.2,1898.2 944.7,1916.7 945.2,1907.4 945.7,1906.1 946.2,1905.6 946.7,1906.8 947.2,1905.6 947.7,1901.8 948.2,1905.7 948.7,1906.4 949.2,1905.6 949.7,1905.9 950.2,1904.3 950.7,1906.3 951.2,1908.0 951.7,1905.9 952.2,1905.8 952.7,1905.8 953.2,1904.2 953.7,1906.7 954.2,1906.8 954.7,1906.2 955.2,1905.3 955.7,1905.5 956.2,1909.4 956.7,1908.3 957.2,1908.0 957.7,1903.1 958.2,1905.4 958.7,1905.7 959.2,1906.8 959.7,1905.3 960.2,1905.3 960.7,1905.6 961.2,1907.6 961.7,1906.9 962.2,1905.2 962.7,1911.6 963.2,1903.1 963.7,1909.6 964.2,1905.9 964.7,1905.5 965.2,1906.9 965.7,1904.3 966.2,1905.3 966.7,1904.1 967.2,1904.9 967.7,1903.6 968.2,1904.2 968.7,1902.8 969.2,1901.3 969.7,1902.5 970.2,1899.6 970.7,1899.3 971.2,1897.5 971.7,1896.7 972.2,1895.4 972.7,1895.6 973.2,1894.8 973.7,1894.9 974.2,1896.8 974.7,1896.7 975.2,1899.8 975.7,1902.4 976.2,1898.1 976.7,1899.7 977.2,1900.0 977.7,1902.6 978.2,1900.8 978.7,1902.4 979.2,1900.2 979.7,1902.4 980.2,1909.0 980.7,1907.1 981.2,1904.3 981.7,1902.9 982.2,1905.5 982.7,1902.2 983.2,1903.0 983.7,1901.8 984.2,1903.0 984.7,1905.1 985.2,1905.6 985.7,1904.1 986.2,1904.9 986.7,1903.0 987.2,1905.9 987.7,1906.1 988.2,1906.2 988.7,1911.1 989.2,1905.5 989.7,1909.1 990.2,1908.9 990.7,1907.8 991.2,1908.0 991.7,1906.9 992.2,1907.8 992.7,1908.9 993.2,1909.0 993.7,1907.2 994.2,1909.0 994.7,1906.6 995.2,1907.4 995.7,1906.2 996.2,1906.2 996.7,1908.9 997.2,1908.8 997.7,1911.0" fill="none" stroke="#111" stroke-width="2.6" stroke-linejoin="round"/><path d="M579.2,2066.5 579.7,2069.9 580.2,2067.6 580.7,2065.6 581.2,2065.2 581.7,2067.2 582.2,2064.8 582.7,2066.1 583.2,2066.9 583.7,2066.2 584.2,2058.2 584.7,2068.8 585.2,2068.8 585.7,2065.7 586.2,2066.8 586.7,2071.4 587.2,2068.4 587.7,2063.4 588.2,2065.7 588.7,2065.7 589.2,2068.2 589.7,2067.0 590.2,2064.2 590.7,2055.9 591.2,2070.0 591.7,2064.7 592.2,2066.4 592.7,2066.1 593.2,2068.7 593.7,2066.4 594.2,2068.3 594.7,2067.6 595.2,2064.4 595.7,2067.0 596.2,2064.6 596.7,2063.8 597.2,2068.4 597.7,2066.6 598.2,2065.0 598.7,2066.9 599.2,2067.0 599.7,2068.0 600.2,2067.3 600.7,2067.0 601.2,2065.2 601.7,2065.6 602.2,2066.8 602.7,2066.4 603.2,2066.7 603.7,2070.6 604.2,2069.3 604.7,2066.8 605.2,2068.4 605.7,2068.5 606.2,2065.7 606.7,2064.0 607.2,2066.8 607.7,2069.1 608.2,2065.0 608.7,2065.7 609.2,2069.7 609.7,2064.8 610.2,2069.7 610.7,2065.7 611.2,2067.3 611.7,2070.6 612.2,2065.9 612.7,2066.8 613.2,2071.5 613.7,2065.8 614.2,2065.5 614.7,2067.7 615.2,2068.8 615.7,2066.8 616.2,2064.5 616.7,2067.5 617.2,2064.2 617.7,2063.5 618.2,2066.5 618.7,2069.6 619.2,2068.5 619.7,2066.7 620.2,2064.4 620.7,2064.9 621.2,2067.2 621.7,2067.1 622.2,2067.1 622.7,2065.0 623.2,2068.5 623.7,2067.5 624.2,2068.3 624.7,2067.0 625.2,2064.2 625.7,2067.5 626.2,2067.0 626.7,2060.4 627.2,2063.5 627.7,2066.9 628.2,2069.4 628.7,2067.0 629.2,2067.7 629.7,2067.5 630.2,2066.1 630.7,2066.4 631.2,2060.1 631.7,2065.1 632.2,2067.4 632.7,2067.8 633.2,2065.4 633.7,2068.0 634.2,2067.7 634.7,2071.4 635.2,2069.1 635.7,2067.4 636.2,2067.7 636.7,2064.6 637.2,2071.1 637.7,2069.8 638.2,2067.6 638.7,2066.5 639.2,2067.9 639.7,2067.1 640.2,2067.8 640.7,2067.0 641.2,2066.6 641.7,2067.1 642.2,2069.3 642.7,2069.2 643.2,2066.6 643.7,2066.8 644.2,2067.4 644.7,2067.1 645.2,2066.8 645.7,2067.6 646.2,2064.9 646.7,2062.7 647.2,2066.0 647.7,2071.5 648.2,2068.7 648.7,2067.6 649.2,2065.3 649.7,2076.7 650.2,2069.9 650.7,2071.5 651.2,2067.8 651.7,2066.8 652.2,2066.0 652.7,2068.9 653.2,2065.8 653.7,2068.0 654.2,2068.6 654.7,2067.8 655.2,2069.0 655.7,2070.6 656.2,2064.8 656.7,2065.4 657.2,2065.4 657.7,2066.8 658.2,2067.8 658.7,2067.5 659.2,2067.5 659.7,2068.4 660.2,2065.8 660.7,2065.5 661.2,2065.8 661.7,2069.5 662.2,2067.3 662.7,2068.1 663.2,2070.4 663.7,2066.2 664.2,2064.2 664.7,2066.8 665.2,2067.4 665.7,2067.9 666.2,2066.4 666.7,2068.9 667.2,2068.2 667.7,2069.1 668.2,2066.4 668.7,2066.7 669.2,2068.4 669.7,2067.5 670.2,2071.9 670.7,2069.0 671.2,2066.2 671.7,2065.7 672.2,2067.3 672.7,2069.3 673.2,2068.3 673.7,2066.6 674.2,2063.5 674.7,2068.0 675.2,2071.2 675.7,2068.2 676.2,2071.6 676.7,2067.9 677.2,2074.2 677.7,2068.0 678.2,2069.7 678.7,2067.1 679.2,2064.9 679.7,2068.9 680.2,2065.8 680.7,2069.5 681.2,2071.2 681.7,2067.5 682.2,2067.3 682.7,2068.4 683.2,2068.8 683.7,2064.3 684.2,2068.5 684.7,2066.5 685.2,2065.3 685.7,2067.4 686.2,2067.8 686.7,2067.8 687.2,2069.1 687.7,2068.2 688.2,2067.6 688.7,2068.1 689.2,2068.3 689.7,2069.9 690.2,2067.6 690.7,2069.5 691.2,2068.8 691.7,2070.3 692.2,2067.9 692.7,2066.7 693.2,2065.6 693.7,2068.4 694.2,2073.0 694.7,2067.4 695.2,2067.9 695.7,2069.9 696.2,2067.9 696.7,2070.7 697.2,2063.9 697.7,2070.8 698.2,2067.5 698.7,2073.4 699.2,2069.6 699.7,2069.9 700.2,2068.3 700.7,2067.6 701.2,2067.8 701.7,2070.9 702.2,2068.5 702.7,2061.0 703.2,2069.4 703.7,2069.6 704.2,2069.6 704.7,2066.6 705.2,2068.0 705.7,2070.8 706.2,2069.8 706.7,2070.1 707.2,2066.4 707.7,2069.5 708.2,2068.2 708.7,2067.9 709.2,2066.9 709.7,2066.6 710.2,2067.9 710.7,2070.0 711.2,2069.3 711.7,2069.0 712.2,2068.4 712.7,2067.6 713.2,2069.0 713.7,2070.4 714.2,2068.5 714.7,2065.8 715.2,2071.6 715.7,2068.4 716.2,2066.2 716.7,2070.1 717.2,2067.9 717.7,2065.9 718.2,2071.9 718.7,2067.5 719.2,2066.7 719.7,2067.9 720.2,2063.3 720.7,2066.8 721.2,2068.4 721.7,2067.2 722.2,2062.8 722.7,2066.7 723.2,2071.6 723.7,2068.4 724.2,2067.9 724.7,2063.6 725.2,2072.3 725.7,2067.5 726.2,2067.3 726.7,2068.8 727.2,2068.1 727.7,2068.8 728.2,2065.2 728.7,2067.3 729.2,2068.8 729.7,2066.3 730.2,2064.9 730.7,2065.3 731.2,2065.0 731.7,2066.5 732.2,2067.0 732.7,2064.0 733.2,2062.0 733.7,2063.8 734.2,2065.5 734.7,2065.3 735.2,2066.3 735.7,2065.3 736.2,2061.0 736.7,2062.5 737.2,2062.9 737.7,2064.1 738.2,2061.9 738.7,2061.6 739.2,2062.0 739.7,2062.1 740.2,2062.7 740.7,2069.9 741.2,2062.9 741.7,2062.8 742.2,2062.4 742.7,2061.8 743.2,2064.2 743.7,2060.6 744.2,2063.5 744.7,2063.4 745.2,2058.7 745.7,2062.2 746.2,2063.2 746.7,2062.5 747.2,2061.8 747.7,2061.4 748.2,2058.7 748.7,2059.6 749.2,2069.5 749.7,2062.8 750.2,2063.7 750.7,2057.0 751.2,2060.1 751.7,2061.9 752.2,2064.1 752.7,2061.5 753.2,2060.8 753.7,2064.4 754.2,2064.7 754.7,2067.2 755.2,2059.5 755.7,2062.1 756.2,2061.1 756.7,2063.8 757.2,2061.7 757.7,2061.0 758.2,2063.8 758.7,2062.2 759.2,2058.8 759.7,2061.9 760.2,2062.3 760.7,2063.0 761.2,2061.5 761.7,2056.9 762.2,2062.7 762.7,2063.9 763.2,2061.0 763.7,2062.9 764.2,2063.7 764.7,2067.2 765.2,2060.5 765.7,2064.2 766.2,2063.9 766.7,2062.3 767.2,2064.1 767.7,2058.7 768.2,2059.9 768.7,2059.9 769.2,2064.9 769.7,2065.6 770.2,2064.7 770.7,2066.0 771.2,2065.9 771.7,2065.1 772.2,2065.6 772.7,2065.9 773.2,2065.7 773.7,2060.6 774.2,2066.8 774.7,2067.1 775.2,2065.0 775.7,2065.8 776.2,2066.9 776.7,2063.1 777.2,2067.8 777.7,2066.8 778.2,2072.1 778.7,2065.8 779.2,2064.9 779.7,2064.2 780.2,2068.0 780.7,2064.9 781.2,2061.2 781.7,2057.9 782.2,2057.9 782.7,2058.8 783.2,2055.8 783.7,2052.2 784.2,2053.3 784.7,2052.5 785.2,2049.2 785.7,2052.0 786.2,2053.7 786.7,2048.0 787.2,2051.2 787.7,2054.7 788.2,2050.3 788.7,2056.8 789.2,2061.8 789.7,2059.4 790.2,2062.7 790.7,2064.0 791.2,2063.1 791.7,2065.3 792.2,2062.9 792.7,2065.6 793.2,2068.3 793.7,2064.3 794.2,2062.2 794.7,2062.3 795.2,2065.9 795.7,2065.2 796.2,2060.4 796.7,2065.2 797.2,2067.7 797.7,2065.0 798.2,2065.3 798.7,2064.7 799.2,2065.3 799.7,2064.1 800.2,2063.1 800.7,2069.0 801.2,2065.8 801.7,2065.2 802.2,2064.8 802.7,2067.0 803.2,2065.2 803.7,2067.3 804.2,2064.8 804.7,2066.0 805.2,2067.8 805.7,2068.4 806.2,2069.6 806.7,2066.5 807.2,2067.5 807.7,2066.4 808.2,2064.2 808.7,2066.8 809.2,2066.1 809.7,2063.8 810.2,2066.4 810.7,2066.4 811.2,2067.3 811.7,2068.3 812.2,2067.4 812.7,2066.9 813.2,2064.9 813.7,2064.0 814.2,2064.7 814.7,2067.0 815.2,2064.7 815.7,2066.9 816.2,2066.1 816.7,2066.7 817.2,2064.4 817.7,2065.9 818.2,2064.9 818.7,2063.6 819.2,2064.4 819.7,2067.4 820.2,2065.5 820.7,2060.2 821.2,2061.6 821.7,2057.6 822.2,2060.9 822.7,2060.1 823.2,2062.9 823.7,2059.2 824.2,2059.5 824.7,2057.7 825.2,2058.3 825.7,2061.6 826.2,2058.4 826.7,2050.0 827.2,2059.9 827.7,2055.5 828.2,2056.5 828.7,2056.7 829.2,2061.2 829.7,2060.3 830.2,2060.3 830.7,2060.5 831.2,2060.6 831.7,2065.4 832.2,2060.7 832.7,2060.4 833.2,2062.3 833.7,2064.0 834.2,2061.5 834.7,2061.4 835.2,2060.1 835.7,2061.8 836.2,2062.5 836.7,2062.9 837.2,2061.4 837.7,2058.8 838.2,2061.7 838.7,2062.5 839.2,2053.3 839.7,2059.1 840.2,2065.1 840.7,2056.8 841.2,2058.9 841.7,2063.4 842.2,2062.2 842.7,2063.1 843.2,2063.2 843.7,2067.1 844.2,2064.7 844.7,2065.3 845.2,2064.1 845.7,2060.1 846.2,2064.3 846.7,2061.4 847.2,2065.1 847.7,2063.1 848.2,2064.8 848.7,2064.2 849.2,2064.3 849.7,2071.9 850.2,2068.1 850.7,2064.5 851.2,2065.0 851.7,2062.8 852.2,2064.3 852.7,2068.1 853.2,2058.8 853.7,2065.4 854.2,2063.6 854.7,2063.9 855.2,2065.3 855.7,2064.0 856.2,2066.7 856.7,2065.2 857.2,2066.2 857.7,2064.9 858.2,2065.1 858.7,2065.6 859.2,2067.3 859.7,2065.4 860.2,2069.0 860.7,2065.3 861.2,2064.6 861.7,2066.8 862.2,2064.7 862.7,2068.5 863.2,2065.5 863.7,2065.9 864.2,2064.3 864.7,2065.4 865.2,2068.2 865.7,2064.6 866.2,2059.2 866.7,2066.5 867.2,2068.0 867.7,2063.4 868.2,2070.1 868.7,2063.7 869.2,2064.4 869.7,2068.1 870.2,2065.0 870.7,2067.3 871.2,2066.3 871.7,2069.3 872.2,2066.5 872.7,2064.7 873.2,2066.6 873.7,2072.2 874.2,2066.4 874.7,2064.8 875.2,2070.9 875.7,2067.4 876.2,2066.8 876.7,2066.8 877.2,2066.3 877.7,2064.5 878.2,2063.2 878.7,2065.3 879.2,2065.8 879.7,2066.5 880.2,2066.7 880.7,2065.7 881.2,2067.6 881.7,2068.1 882.2,2067.5 882.7,2067.3 883.2,2061.0 883.7,2066.5 884.2,2066.5 884.7,2064.8 885.2,2066.8 885.7,2066.0 886.2,2069.1 886.7,2067.2 887.2,2066.3 887.7,2065.7 888.2,2064.8 888.7,2065.2 889.2,2066.8 889.7,2065.6 890.2,2065.0 890.7,2065.0 891.2,2065.9 891.7,2064.0 892.2,2065.7 892.7,2063.8 893.2,2066.0 893.7,2068.2 894.2,2065.4 894.7,2069.8 895.2,2065.7 895.7,2065.7 896.2,2063.9 896.7,2066.4 897.2,2069.2 897.7,2064.2 898.2,2063.5 898.7,2065.0 899.2,2066.0 899.7,2064.9 900.2,2065.5 900.7,2065.6 901.2,2071.9 901.7,2074.5 902.2,2069.8 902.7,2066.7 903.2,2064.7 903.7,2063.8 904.2,2063.3 904.7,2065.1 905.2,2065.9 905.7,2062.0 906.2,2064.5 906.7,2065.0 907.2,2062.9 907.7,2064.6 908.2,2064.7 908.7,2064.1 909.2,2064.3 909.7,2063.8 910.2,2061.5 910.7,2061.6 911.2,2064.4 911.7,2067.7 912.2,2061.5 912.7,2065.7 913.2,2062.7 913.7,2067.4 914.2,2063.2 914.7,2068.1 915.2,2068.0 915.7,2062.3 916.2,2065.6 916.7,2063.1 917.2,2062.0 917.7,2062.6 918.2,2063.6 918.7,2065.6 919.2,2063.1 919.7,2063.7 920.2,2066.0 920.7,2064.1 921.2,2065.2 921.7,2061.6 922.2,2066.1 922.7,2066.3 923.2,2066.4 923.7,2065.3 924.2,2066.0 924.7,2065.7 925.2,2065.5 925.7,2065.0 926.2,2063.1 926.7,2064.7 927.2,2064.5 927.7,2064.9 928.2,2062.2 928.7,2065.7 929.2,2065.8 929.7,2066.9 930.2,2066.1 930.7,2063.9 931.2,2065.8 931.7,2063.1 932.2,2065.9 932.7,2062.1 933.2,2068.5 933.7,2066.5 934.2,2066.5 934.7,2067.2 935.2,2062.9 935.7,2065.6 936.2,2066.7 936.7,2065.5 937.2,2064.7 937.7,2064.2 938.2,2069.2 938.7,2066.2 939.2,2061.9 939.7,2067.6 940.2,2066.3 940.7,2067.2 941.2,2066.4 941.7,2064.7 942.2,2069.3 942.7,2069.7 943.2,2067.8 943.7,2062.9 944.2,2063.5 944.7,2065.4 945.2,2065.7 945.7,2068.4 946.2,2063.4 946.7,2064.8 947.2,2069.3 947.7,2065.9 948.2,2068.0 948.7,2067.4 949.2,2063.0 949.7,2066.6 950.2,2065.6 950.7,2063.1 951.2,2068.8 951.7,2066.0 952.2,2066.1 952.7,2064.7 953.2,2066.2 953.7,2065.9 954.2,2064.8 954.7,2067.4 955.2,2065.5 955.7,2063.1 956.2,2069.5 956.7,2074.4 957.2,2063.9 957.7,2070.2 958.2,2066.3 958.7,2063.7 959.2,2061.8 959.7,2059.7 960.2,2065.0 960.7,2066.8 961.2,2063.8 961.7,2066.1 962.2,2061.6 962.7,2070.2 963.2,2065.7 963.7,2066.5 964.2,2066.6 964.7,2062.9 965.2,2062.8 965.7,2066.3 966.2,2064.1 966.7,2067.4 967.2,2065.0 967.7,2066.6 968.2,2067.7 968.7,2065.6 969.2,2066.7 969.7,2066.7 970.2,2066.4 970.7,2066.2 971.2,2066.7 971.7,2066.3 972.2,2064.9 972.7,2066.8 973.2,2065.6 973.7,2069.2 974.2,2064.3 974.7,2067.4 975.2,2067.9 975.7,2068.3 976.2,2067.0 976.7,2064.4 977.2,2065.0 977.7,2065.0 978.2,2064.5 978.7,2069.2 979.2,2064.4 979.7,2071.9 980.2,2066.7 980.7,2064.9 981.2,2065.4 981.7,2066.2 982.2,2066.6 982.7,2064.2 983.2,2070.7 983.7,2065.5 984.2,2073.3 984.7,2066.1 985.2,2068.3 985.7,2062.3 986.2,2066.4 986.7,2062.9 987.2,2069.3 987.7,2066.4 988.2,2062.1 988.7,2067.8 989.2,2067.6 989.7,2066.3 990.2,2069.2 990.7,2065.7 991.2,2066.0 991.7,2066.9 992.2,2067.8 992.7,2066.1 993.2,2063.6 993.7,2065.4 994.2,2066.7 994.7,2066.8 995.2,2064.5 995.7,2067.8 996.2,2065.5 996.7,2068.2 997.2,2066.1 997.7,2067.0" fill="none" stroke="#111" stroke-width="2.6" stroke-linejoin="round"/><path d="M579.8,2235.9 580.3,2232.7 580.8,2245.2 581.3,2230.5 581.8,2231.3 582.3,2232.9 582.8,2239.9 583.3,2231.1 583.8,2229.8 584.3,2231.5 584.8,2231.2 585.3,2231.4 585.8,2232.8 586.3,2234.5 586.8,2232.1 587.3,2230.8 587.8,2232.6 588.3,2232.2 588.8,2232.1 589.3,2234.5 589.8,2233.9 590.3,2231.2 590.8,2232.5 591.3,2232.7 591.8,2236.6 592.3,2234.5 592.8,2235.5 593.3,2232.6 593.8,2232.5 594.3,2230.8 594.8,2232.0 595.3,2233.6 595.8,2234.0 596.3,2232.2 596.8,2233.3 597.3,2232.1 597.8,2234.0 598.3,2232.5 598.8,2234.2 599.3,2230.9 599.8,2231.8 600.3,2232.6 600.8,2230.1 601.3,2229.9 601.8,2231.8 602.3,2232.3 602.8,2235.6 603.3,2231.8 603.8,2233.2 604.3,2239.8 604.8,2235.1 605.3,2223.2 605.8,2236.8 606.3,2234.7 606.8,2233.0 607.3,2229.6 607.8,2232.5 608.3,2233.9 608.8,2232.4 609.3,2231.7 609.8,2232.4 610.3,2234.6 610.8,2229.9 611.3,2227.8 611.8,2236.1 612.3,2231.4 612.8,2232.1 613.3,2231.2 613.8,2232.7 614.3,2232.9 614.8,2231.4 615.3,2234.4 615.8,2234.8 616.3,2231.4 616.8,2233.0 617.3,2237.0 617.8,2233.8 618.3,2230.7 618.8,2233.7 619.3,2237.0 619.8,2231.9 620.3,2229.6 620.8,2231.8 621.3,2232.7 621.8,2230.6 622.3,2232.9 622.8,2229.1 623.3,2235.3 623.8,2229.6 624.3,2231.0 624.8,2232.4 625.3,2232.3 625.8,2233.7 626.3,2226.5 626.8,2233.2 627.3,2231.5 627.8,2232.9 628.3,2232.7 628.8,2231.1 629.3,2230.4 629.8,2233.8 630.3,2232.4 630.8,2232.6 631.3,2236.1 631.8,2233.1 632.3,2232.3 632.8,2232.4 633.3,2231.4 633.8,2231.5 634.3,2227.6 634.8,2235.8 635.3,2232.2 635.8,2233.2 636.3,2232.1 636.8,2230.2 637.3,2232.5 637.8,2232.5 638.3,2229.1 638.8,2234.3 639.3,2231.8 639.8,2233.2 640.3,2230.8 640.8,2232.8 641.3,2233.4 641.8,2233.6 642.3,2233.8 642.8,2233.0 643.3,2232.3 643.8,2233.9 644.3,2229.0 644.8,2235.6 645.3,2232.5 645.8,2233.3 646.3,2234.4 646.8,2231.1 647.3,2232.9 647.8,2232.9 648.3,2235.8 648.8,2234.6 649.3,2233.4 649.8,2233.6 650.3,2231.9 650.8,2235.5 651.3,2229.2 651.8,2232.5 652.3,2234.2 652.8,2236.0 653.3,2231.0 653.8,2233.1 654.3,2232.7 654.8,2234.0 655.3,2234.7 655.8,2229.0 656.3,2232.9 656.8,2233.2 657.3,2229.5 657.8,2228.0 658.3,2233.2 658.8,2234.0 659.3,2226.5 659.8,2238.4 660.3,2229.1 660.8,2233.2 661.3,2230.3 661.8,2232.4 662.3,2232.6 662.8,2232.6 663.3,2232.6 663.8,2236.2 664.3,2236.5 664.8,2231.3 665.3,2234.0 665.8,2233.7 666.3,2235.4 666.8,2233.3 667.3,2233.9 667.8,2231.9 668.3,2234.7 668.8,2233.3 669.3,2232.3 669.8,2232.6 670.3,2234.8 670.8,2235.8 671.3,2236.0 671.8,2231.8 672.3,2231.1 672.8,2234.3 673.3,2232.4 673.8,2236.1 674.3,2232.8 674.8,2231.5 675.3,2230.5 675.8,2230.9 676.3,2233.6 676.8,2233.1 677.3,2234.0 677.8,2230.6 678.3,2230.4 678.8,2234.2 679.3,2232.7 679.8,2232.3 680.3,2235.5 680.8,2228.9 681.3,2227.8 681.8,2232.5 682.3,2232.6 682.8,2240.9 683.3,2233.8 683.8,2232.4 684.3,2229.5 684.8,2232.0 685.3,2229.7 685.8,2229.6 686.3,2224.2 686.8,2231.3 687.3,2228.1 687.8,2228.7 688.3,2225.3 688.8,2229.1 689.3,2222.6 689.8,2223.2 690.3,2227.3 690.8,2221.8 691.3,2226.4 691.8,2227.6 692.3,2226.8 692.8,2228.5 693.3,2227.3 693.8,2227.7 694.3,2228.7 694.8,2221.5 695.3,2231.0 695.8,2228.4 696.3,2229.7 696.8,2222.3 697.3,2228.7 697.8,2227.2 698.3,2227.8 698.8,2228.6 699.3,2238.5 699.8,2233.3 700.3,2227.0 700.8,2221.4 701.3,2228.2 701.8,2228.0 702.3,2219.9 702.8,2219.9 703.3,2219.6 703.8,2216.6 704.3,2220.8 704.8,2217.9 705.3,2214.2 705.8,2213.0 706.3,2211.5 706.8,2204.2 707.3,2211.4 707.8,2210.0 708.3,2213.1 708.8,2207.9 709.3,2206.8 709.8,2209.5 710.3,2209.2 710.8,2209.0 711.3,2211.5 711.8,2204.8 712.3,2209.1 712.8,2212.8 713.3,2205.8 713.8,2210.7 714.3,2209.9 714.8,2220.5 715.3,2216.5 715.8,2215.2 716.3,2224.6 716.8,2217.7 717.3,2219.0 717.8,2215.6 718.3,2219.1 718.8,2217.9 719.3,2218.0 719.8,2219.5 720.3,2218.9 720.8,2219.4 721.3,2220.1 721.8,2222.1 722.3,2214.5 722.8,2218.9 723.3,2226.1 723.8,2217.1 724.3,2208.7 724.8,2223.6 725.3,2219.1 725.8,2224.1 726.3,2222.4 726.8,2220.3 727.3,2216.5 727.8,2220.1 728.3,2220.5 728.8,2224.8 729.3,2220.8 729.8,2222.3 730.3,2220.6 730.8,2221.0 731.3,2222.0 731.8,2220.4 732.3,2222.4 732.8,2224.7 733.3,2221.9 733.8,2222.6 734.3,2223.9 734.8,2223.6 735.3,2222.4 735.8,2220.4 736.3,2218.8 736.8,2223.6 737.3,2221.4 737.8,2222.4 738.3,2228.9 738.8,2225.4 739.3,2230.1 739.8,2231.0 740.3,2224.5 740.8,2223.0 741.3,2224.4 741.8,2224.2 742.3,2227.8 742.8,2224.9 743.3,2218.5 743.8,2225.7 744.3,2223.4 744.8,2226.8 745.3,2219.1 745.8,2226.7 746.3,2226.4 746.8,2224.9 747.3,2227.6 747.8,2224.0 748.3,2226.8 748.8,2226.5 749.3,2226.6 749.8,2231.1 750.3,2229.1 750.8,2229.2 751.3,2225.5 751.8,2223.3 752.3,2227.8 752.8,2230.3 753.3,2228.7 753.8,2229.7 754.3,2228.0 754.8,2228.1 755.3,2229.4 755.8,2224.8 756.3,2229.6 756.8,2234.8 757.3,2225.9 757.8,2230.1 758.3,2229.4 758.8,2228.3 759.3,2230.6 759.8,2229.8 760.3,2233.0 760.8,2229.6 761.3,2230.5 761.8,2230.7 762.3,2226.7 762.8,2227.8 763.3,2229.9 763.8,2228.4 764.3,2229.1 764.8,2229.4 765.3,2229.6 765.8,2231.2 766.3,2223.6 766.8,2231.3 767.3,2233.8 767.8,2229.7 768.3,2231.1 768.8,2229.6 769.3,2235.9 769.8,2228.8 770.3,2228.3 770.8,2229.9 771.3,2231.1 771.8,2229.7 772.3,2229.9 772.8,2230.2 773.3,2229.6 773.8,2231.3 774.3,2228.8 774.8,2228.6 775.3,2229.0 775.8,2231.1 776.3,2232.6 776.8,2230.1 777.3,2232.6 777.8,2229.9 778.3,2229.3 778.8,2229.0 779.3,2225.9 779.8,2230.6 780.3,2224.1 780.8,2228.6 781.3,2227.8 781.8,2227.9 782.3,2224.3 782.8,2222.9 783.3,2224.3 783.8,2222.9 784.3,2224.9 784.8,2220.0 785.3,2218.6 785.8,2219.3 786.3,2219.5 786.8,2221.5 787.3,2215.5 787.8,2215.1 788.3,2219.0 788.8,2218.4 789.3,2217.9 789.8,2219.2 790.3,2213.4 790.8,2220.2 791.3,2218.2 791.8,2219.2 792.3,2220.7 792.8,2223.1 793.3,2219.2 793.8,2224.8 794.3,2224.3 794.8,2226.0 795.3,2221.0 795.8,2222.2 796.3,2220.7 796.8,2221.0 797.3,2221.1 797.8,2219.3 798.3,2217.4 798.8,2218.6 799.3,2220.2 799.8,2220.6 800.3,2219.1 800.8,2217.3 801.3,2218.5 801.8,2227.7 802.3,2218.0 802.8,2217.9 803.3,2221.3 803.8,2218.7 804.3,2217.8 804.8,2218.8 805.3,2220.6 805.8,2218.2 806.3,2221.7 806.8,2225.9 807.3,2219.2 807.8,2218.0 808.3,2217.9 808.8,2219.5 809.3,2219.9 809.8,2211.3 810.3,2217.4 810.8,2218.1 811.3,2218.0 811.8,2218.8 812.3,2216.1 812.8,2215.4 813.3,2214.5 813.8,2213.9 814.3,2213.6 814.8,2211.0 815.3,2212.5 815.8,2214.6 816.3,2211.0 816.8,2205.6 817.3,2209.4 817.8,2210.5 818.3,2209.6 818.8,2210.2 819.3,2212.0 819.8,2211.6 820.3,2213.5 820.8,2211.7 821.3,2211.0 821.8,2211.4 822.3,2213.1 822.8,2211.3 823.3,2213.9 823.8,2214.9 824.3,2208.0 824.8,2208.1 825.3,2206.7 825.8,2216.3 826.3,2209.4 826.8,2213.5 827.3,2211.1 827.8,2212.8 828.3,2215.0 828.8,2214.6 829.3,2213.8 829.8,2215.9 830.3,2218.0 830.8,2215.6 831.3,2219.3 831.8,2215.8 832.3,2214.7 832.8,2217.2 833.3,2219.0 833.8,2221.2 834.3,2218.3 834.8,2223.5 835.3,2216.2 835.8,2216.7 836.3,2218.7 836.8,2215.3 837.3,2216.8 837.8,2217.4 838.3,2218.7 838.8,2215.6 839.3,2220.8 839.8,2218.9 840.3,2216.7 840.8,2219.4 841.3,2215.8 841.8,2217.5 842.3,2217.6 842.8,2220.0 843.3,2215.0 843.8,2216.7 844.3,2217.7 844.8,2216.2 845.3,2212.3 845.8,2217.4 846.3,2213.5 846.8,2215.4 847.3,2217.0 847.8,2214.0 848.3,2218.6 848.8,2217.8 849.3,2216.4 849.8,2213.2 850.3,2216.7 850.8,2214.7 851.3,2215.6 851.8,2219.1 852.3,2214.1 852.8,2210.0 853.3,2207.7 853.8,2215.3 854.3,2215.5 854.8,2214.4 855.3,2213.1 855.8,2217.9 856.3,2214.9 856.8,2212.1 857.3,2210.4 857.8,2208.7 858.3,2206.6 858.8,2205.7 859.3,2206.2 859.8,2200.6 860.3,2202.3 860.8,2203.6 861.3,2203.5 861.8,2204.6 862.3,2205.0 862.8,2206.0 863.3,2210.0 863.8,2206.9 864.3,2210.9 864.8,2207.4 865.3,2207.6 865.8,2209.0 866.3,2207.2 866.8,2209.7 867.3,2207.4 867.8,2207.4 868.3,2214.0 868.8,2207.2 869.3,2205.2 869.8,2207.9 870.3,2208.8 870.8,2205.3 871.3,2206.1 871.8,2204.6 872.3,2204.1 872.8,2204.5 873.3,2206.9 873.8,2206.2 874.3,2203.3 874.8,2203.3 875.3,2204.9 875.8,2209.9 876.3,2204.9 876.8,2206.1 877.3,2207.2 877.8,2208.0 878.3,2209.1 878.8,2206.6 879.3,2207.2 879.8,2208.7 880.3,2207.8 880.8,2205.4 881.3,2207.9 881.8,2209.3 882.3,2209.5 882.8,2208.6 883.3,2210.0 883.8,2211.8 884.3,2215.1 884.8,2212.0 885.3,2209.8 885.8,2209.9 886.3,2211.2 886.8,2210.8 887.3,2208.6 887.8,2212.0 888.3,2208.3 888.8,2212.7 889.3,2203.3 889.8,2212.8 890.3,2214.1 890.8,2212.3 891.3,2212.3 891.8,2214.5 892.3,2211.4 892.8,2213.4 893.3,2215.3 893.8,2210.1 894.3,2214.8 894.8,2215.4 895.3,2213.1 895.8,2213.5 896.3,2214.4 896.8,2214.6 897.3,2210.5 897.8,2219.7 898.3,2214.7 898.8,2219.5 899.3,2216.0 899.8,2214.8 900.3,2217.3 900.8,2216.1 901.3,2214.3 901.8,2218.0 902.3,2215.9 902.8,2215.4 903.3,2215.1 903.8,2215.7 904.3,2216.2 904.8,2216.1 905.3,2215.2 905.8,2215.5 906.3,2217.0 906.8,2217.7 907.3,2213.7 907.8,2215.8 908.3,2222.0 908.8,2220.1 909.3,2216.7 909.8,2223.7 910.3,2224.8 910.8,2217.0 911.3,2217.7 911.8,2218.1 912.3,2217.0 912.8,2216.7 913.3,2218.6 913.8,2221.3 914.3,2217.6 914.8,2213.5 915.3,2214.9 915.8,2217.9 916.3,2218.3 916.8,2221.3 917.3,2217.1 917.8,2217.2 918.3,2215.3 918.8,2217.4 919.3,2220.2 919.8,2219.5 920.3,2218.4 920.8,2218.9 921.3,2217.9 921.8,2218.1 922.3,2217.9 922.8,2219.4 923.3,2219.6 923.8,2218.1 924.3,2218.7 924.8,2219.9 925.3,2222.0 925.8,2219.9 926.3,2217.1 926.8,2218.7 927.3,2220.6 927.8,2220.3 928.3,2218.9 928.8,2221.8 929.3,2217.7 929.8,2223.2 930.3,2224.3 930.8,2221.3 931.3,2221.2 931.8,2222.5 932.3,2221.2 932.8,2223.3 933.3,2223.5 933.8,2223.4 934.3,2222.9 934.8,2216.8 935.3,2222.9 935.8,2223.0 936.3,2218.8 936.8,2221.5 937.3,2222.7 937.8,2223.0 938.3,2224.0 938.8,2223.5 939.3,2221.6 939.8,2225.1 940.3,2226.7 940.8,2223.0 941.3,2222.6 941.8,2226.2 942.3,2223.6 942.8,2224.1 943.3,2226.4 943.8,2222.3 944.3,2226.2 944.8,2224.7 945.3,2226.1 945.8,2224.1 946.3,2229.4 946.8,2227.1 947.3,2224.4 947.8,2227.8 948.3,2223.2 948.8,2224.3 949.3,2228.7 949.8,2225.6 950.3,2224.1 950.8,2224.6 951.3,2226.4 951.8,2237.5 952.3,2224.7 952.8,2226.1 953.3,2225.6 953.8,2230.0 954.3,2225.1 954.8,2223.6 955.3,2228.2 955.8,2226.4 956.3,2225.2 956.8,2223.6 957.3,2222.6 957.8,2224.1 958.3,2222.2 958.8,2220.1 959.3,2222.2 959.8,2221.7 960.3,2222.3 960.8,2224.2 961.3,2222.8 961.8,2221.9 962.3,2221.4 962.8,2218.4 963.3,2226.2 963.8,2218.6 964.3,2221.0 964.8,2218.8 965.3,2226.3 965.8,2219.8 966.3,2217.5 966.8,2217.5 967.3,2216.2 967.8,2214.6 968.3,2218.0 968.8,2215.0 969.3,2214.5 969.8,2214.3 970.3,2213.7 970.8,2215.0 971.3,2213.3 971.8,2211.3 972.3,2209.6 972.8,2210.3 973.3,2215.5 973.8,2208.1 974.3,2209.1 974.8,2211.4 975.3,2210.6 975.8,2213.4 976.3,2213.9 976.8,2216.5 977.3,2221.5 977.8,2216.3 978.3,2216.8 978.8,2218.4 979.3,2217.1 979.8,2223.9 980.3,2212.8 980.8,2220.4 981.3,2217.7 981.8,2222.4 982.3,2223.5 982.8,2224.6 983.3,2222.5 983.8,2225.3 984.3,2225.6 984.8,2225.8 985.3,2221.9 985.8,2222.9 986.3,2224.9 986.8,2223.7 987.3,2224.7 987.8,2224.7 988.3,2223.8 988.8,2226.5 989.3,2224.9 989.8,2225.3 990.3,2227.8 990.8,2227.2 991.3,2225.4 991.8,2225.0 992.3,2226.1 992.8,2224.8 993.3,2226.5 993.8,2223.7 994.3,2223.3 994.8,2215.6 995.3,2224.2 995.8,2226.7 996.3,2221.6 996.8,2212.5 997.3,2221.2" fill="none" stroke="#111" stroke-width="2.6" stroke-linejoin="round"/><text transform="translate(539.75 1613.04) scale(1.038 1)" font-size="36.46" fill="#a8202d">4th</text><text transform="translate(491.89 1658.32) scale(0.983 1)" font-size="38.29" fill="#000">Re-HFD</text><text transform="translate(539.75 1803.64) scale(1.038 1)" font-size="36.46" fill="#a8202d">4th</text><text transform="translate(491.89 1849.82) scale(0.990 1)" font-size="38" fill="#000">Re-HFD</text><text transform="translate(539.75 1963.84) scale(1.038 1)" font-size="36.46" fill="#a8202d">4th</text><text transform="translate(491.89 2008.52) scale(0.994 1)" font-size="37.86" fill="#000">Re-HFD</text><text transform="translate(539.75 2130.44) scale(1.038 1)" font-size="36.46" fill="#a8202d">4th</text><text transform="translate(491.89 2175.42) scale(0.990 1)" font-size="38" fill="#000">Re-HFD</text><polygon points="569.8,1670.6 595,1670.6 582.4,1696" fill="#e0271f"/><polygon points="566.9,1865.3 591.5,1865.3 579.2,1890.7" fill="#e0271f"/><polygon points="566.9,2025 591.5,2025 579.2,2050.4" fill="#e0271f"/><polygon points="565.8,2191 590.4,2191 578.1,2216.5" fill="#e0271f"/><rect x="664.3" y="1747.2" width="24.2" height="7.8" fill="#8ccfea"/><rect x="698.1" y="1747.2" width="24.7" height="7.8" fill="#8ccfea"/><rect x="782.7" y="1747.2" width="40.7" height="7.8" fill="#8ccfea"/><rect x="881.9" y="1747.2" width="15.7" height="7.8" fill="#8ccfea"/><rect x="917.4" y="1747.2" width="16" height="7.8" fill="#8ccfea"/><rect x="664.3" y="1926.5" width="24.2" height="8" fill="#8ccfea"/><rect x="698.1" y="1926.5" width="24.7" height="8" fill="#8ccfea"/><rect x="782.7" y="1926.5" width="40.7" height="8" fill="#8ccfea"/><rect x="881.9" y="1926.5" width="15.7" height="8" fill="#8ccfea"/><rect x="917.4" y="1926.5" width="16" height="8" fill="#8ccfea"/><rect x="664.3" y="2085.8" width="24.2" height="7.9" fill="#8ccfea"/><rect x="698.1" y="2085.8" width="24.7" height="7.9" fill="#8ccfea"/><rect x="782.7" y="2085.8" width="40.7" height="7.9" fill="#8ccfea"/><rect x="881.9" y="2085.8" width="15.7" height="7.9" fill="#8ccfea"/><rect x="917.4" y="2085.8" width="16" height="7.9" fill="#8ccfea"/><rect x="664.3" y="2248.7" width="24.2" height="8.3" fill="#8ccfea"/><rect x="698.1" y="2248.7" width="24.7" height="8.3" fill="#8ccfea"/><rect x="782.7" y="2248.7" width="40.7" height="8.3" fill="#8ccfea"/><rect x="881.9" y="2248.7" width="15.7" height="8.3" fill="#8ccfea"/><rect x="917.4" y="2248.7" width="16" height="8.3" fill="#8ccfea"/><path d="M944,2289.3 H1050.8 V2198.7" fill="none" stroke="#111" stroke-width="2.2"/><text transform="translate(952.46 2327.25) scale(0.961 1)" font-size="34.93" fill="#000">30 sec</text><text transform="translate(1061.55 2210.61) rotate(90) scale(0.989 1)" font-size="34.93" fill="#000">10%</text><text x="1131.25" y="24.38" font-size="30.59" fill="#35318f">First eating (mouse #1)</text><polygon points="1147.7,35.2 1170.4,35.2 1159.05,58.9" fill="#2f2a95"/><rect x="1158.5" y="66.8" width="7.8" height="144.8" fill="#bcbcea"/><rect x="1194.6" y="66.8" width="15.4" height="144.8" fill="#bcbcea"/><rect x="1158.5" y="66.8" width="481" height="144.8" fill="none" stroke="#a3a3a3" stroke-width="2"/><rect x="1170.9" y="88.6" width="3" height="26.4" fill="#111"/><rect x="1306.2" y="88.6" width="3" height="26.4" fill="#111"/><rect x="1450.3" y="88.6" width="3" height="26.4" fill="#111"/><rect x="1464.5" y="88.6" width="3" height="26.4" fill="#111"/><path d="M1159.8,236.4 V225.5 H1639.2 V236.4" fill="none" stroke="#111" stroke-width="4"/><text transform="translate(1150.97 274.01) scale(1.070 1)" font-size="28.73" fill="#000">0</text><text transform="translate(1309.53 264.31) scale(1.044 1)" font-size="33.26" fill="#000">Time (min)</text><text transform="translate(1616.72 274.01) scale(1.044 1)" font-size="29.14" fill="#000">1.5</text><text transform="translate(1131.25 320.21) scale(1.022 1)" font-size="29.95" fill="#35318f">First eating (mouse #2)</text><polygon points="1148,330 1171,330 1159.5,353" fill="#2f2a95"/><rect x="1171.7" y="361.5" width="82.3" height="230.5" fill="#bcbcea"/><rect x="1321" y="361.5" width="55" height="230.5" fill="#bcbcea"/><rect x="1420.4" y="361.5" width="23.9" height="230.5" fill="#bcbcea"/><rect x="1548" y="361.5" width="42.7" height="230.5" fill="#bcbcea"/><rect x="1158.5" y="361.5" width="480" height="230.5" fill="none" stroke="#a3a3a3" stroke-width="2"/><rect x="1157.3" y="375" width="3" height="18" fill="#111"/><rect x="1456" y="375" width="3" height="18" fill="#111"/><rect x="1507.8" y="375" width="3" height="18" fill="#111"/><rect x="1574.5" y="375" width="3" height="18" fill="#111"/><rect x="1612.1" y="375" width="3" height="18" fill="#111"/><rect x="1197.1" y="398" width="3" height="18" fill="#111"/><rect x="1263.5" y="398" width="3" height="18" fill="#111"/><rect x="1274.1" y="398" width="3" height="18" fill="#111"/><rect x="1198.2" y="422" width="3" height="17.5" fill="#111"/><rect x="1346.4" y="422" width="3" height="17.5" fill="#111"/><rect x="1157.3" y="445" width="3" height="17" fill="#111"/><rect x="1573.5" y="445" width="3" height="17" fill="#111"/><rect x="1576.3" y="467.5" width="3" height="17.5" fill="#111"/><path d="M1160.8,617 V606.5 H1639.2 V617" fill="none" stroke="#111" stroke-width="4"/><text transform="translate(1150.97 654.61) scale(1.070 1)" font-size="28.73" fill="#000">0</text><text transform="translate(1309.53 645.61) scale(1.044 1)" font-size="33.26" fill="#000">Time (min)</text><text transform="translate(1616.72 654.61) scale(1.044 1)" font-size="29.14" fill="#000">1.5</text><text x="1131.25" y="777.6" font-size="30.48" fill="#35318f">First eating (mouse #1)</text><polygon points="1150.3,791.3 1172.4,791.3 1161.35,814.5" fill="#2f2a95"/><rect x="1159.5" y="824.7" width="6.1" height="163.2" fill="#bcbcea"/><rect x="1245" y="824.7" width="9.2" height="163.2" fill="#bcbcea"/><rect x="1343.4" y="824.7" width="18.4" height="163.2" fill="#bcbcea"/><rect x="1413" y="824.7" width="8.8" height="163.2" fill="#bcbcea"/><rect x="1502" y="824.7" width="6.3" height="163.2" fill="#bcbcea"/><rect x="1625.5" y="824.7" width="10.2" height="163.2" fill="#bcbcea"/><rect x="1159.5" y="824.7" width="481.5" height="163.2" fill="none" stroke="#a3a3a3" stroke-width="2"/><rect x="1225.4" y="843" width="3" height="28.4" fill="#111"/><rect x="1250.3" y="843" width="3" height="28.4" fill="#111"/><rect x="1281.6" y="843" width="3" height="28.4" fill="#111"/><rect x="1326.6" y="843" width="3" height="28.4" fill="#111"/><rect x="1353.2" y="843" width="3" height="28.4" fill="#111"/><rect x="1395.1" y="843" width="3" height="28.4" fill="#111"/><rect x="1432.2" y="843" width="3" height="28.4" fill="#111"/><rect x="1447.5" y="843" width="3" height="28.4" fill="#111"/><rect x="1543.3" y="843" width="3" height="28.4" fill="#111"/><rect x="1554.8" y="843" width="3" height="28.4" fill="#111"/><rect x="1592.3" y="843" width="3" height="28.4" fill="#111"/><rect x="1625" y="843" width="3" height="28.4" fill="#111"/><rect x="1281.6" y="875.8" width="3" height="28.6" fill="#111"/><rect x="1295.3" y="875.8" width="3" height="28.6" fill="#111"/><rect x="1327.6" y="875.8" width="3" height="28.6" fill="#111"/><rect x="1338.5" y="875.8" width="3" height="28.6" fill="#111"/><rect x="1356.6" y="875.8" width="3" height="28.6" fill="#111"/><path d="M1160.6,1016 V1005.5 H1638.2 V1016" fill="none" stroke="#111" stroke-width="4"/><text transform="translate(1150.27 1055.11) scale(1.070 1)" font-size="28.73" fill="#000">0</text><text transform="translate(1309.53 1048.81) scale(1.044 1)" font-size="33.26" fill="#000">Time (min)</text><text transform="translate(1616.42 1055.11) scale(1.044 1)" font-size="29.14" fill="#000">1.5</text><text x="1131.25" y="1130.8" font-size="30.48" fill="#35318f">First eating (mouse #2)</text><polygon points="1149,1142.8 1171.7,1142.8 1160.35,1165.6" fill="#2f2a95"/><rect x="1159.5" y="1172.8" width="57.2" height="236.4" fill="#bcbcea"/><rect x="1240.5" y="1172.8" width="34.1" height="236.4" fill="#bcbcea"/><rect x="1405.8" y="1172.8" width="11.2" height="236.4" fill="#bcbcea"/><rect x="1477.3" y="1172.8" width="51.4" height="236.4" fill="#bcbcea"/><rect x="1549.9" y="1172.8" width="30.6" height="236.4" fill="#bcbcea"/><rect x="1597.5" y="1172.8" width="11.6" height="236.4" fill="#bcbcea"/><rect x="1622" y="1172.8" width="16" height="236.4" fill="#bcbcea"/><rect x="1159.5" y="1172.8" width="481.5" height="236.4" fill="none" stroke="#a3a3a3" stroke-width="2"/><rect x="1258.5" y="1188" width="3" height="24" fill="#111"/><rect x="1269.7" y="1188" width="3" height="24" fill="#111"/><rect x="1320.1" y="1188" width="3" height="24" fill="#111"/><rect x="1342.9" y="1188" width="3" height="24" fill="#111"/><rect x="1354.2" y="1188" width="3" height="24" fill="#111"/><rect x="1454.3" y="1188" width="3" height="24" fill="#111"/><rect x="1478.5" y="1188" width="3" height="24" fill="#111"/><rect x="1490.1" y="1188" width="3" height="24" fill="#111"/><rect x="1542.2" y="1188" width="3" height="24" fill="#111"/><rect x="1553.5" y="1188" width="3" height="24" fill="#111"/><rect x="1594.7" y="1188" width="3" height="24" fill="#111"/><rect x="1349.8" y="1214.7" width="3" height="23.8" fill="#111"/><rect x="1392.7" y="1214.7" width="3" height="23.8" fill="#111"/><rect x="1433.9" y="1214.7" width="3" height="23.8" fill="#111"/><rect x="1553.1" y="1214.7" width="3" height="23.8" fill="#111"/><rect x="1573.2" y="1214.7" width="3" height="23.8" fill="#111"/><rect x="1633.2" y="1214.7" width="3" height="23.8" fill="#111"/><rect x="1256.1" y="1241" width="3" height="23.8" fill="#111"/><rect x="1287.8" y="1241" width="3" height="23.8" fill="#111"/><rect x="1302.8" y="1241" width="3" height="23.8" fill="#111"/><rect x="1336.8" y="1241" width="3" height="23.8" fill="#111"/><rect x="1357.3" y="1241" width="3" height="23.8" fill="#111"/><rect x="1375.3" y="1241" width="3" height="23.8" fill="#111"/><rect x="1392.7" y="1241" width="3" height="23.8" fill="#111"/><rect x="1509.9" y="1241" width="3" height="23.8" fill="#111"/><rect x="1566.4" y="1241" width="3" height="23.8" fill="#111"/><rect x="1601.9" y="1241" width="3" height="23.8" fill="#111"/><rect x="1256.1" y="1267" width="3" height="24" fill="#111"/><rect x="1267" y="1267" width="3" height="24" fill="#111"/><rect x="1396.4" y="1267" width="3" height="24" fill="#111"/><rect x="1472.4" y="1267" width="3" height="24" fill="#111"/><rect x="1537.8" y="1267" width="3" height="24" fill="#111"/><rect x="1551.1" y="1267" width="3" height="24" fill="#111"/><rect x="1592.3" y="1267" width="3" height="24" fill="#111"/><rect x="1628.1" y="1267" width="3" height="24" fill="#111"/><rect x="1256.1" y="1293.4" width="3" height="23.6" fill="#111"/><rect x="1267" y="1293.4" width="3" height="23.6" fill="#111"/><rect x="1352.1" y="1293.4" width="3" height="23.6" fill="#111"/><rect x="1482.6" y="1293.4" width="3" height="23.6" fill="#111"/><rect x="1542.2" y="1293.4" width="3" height="23.6" fill="#111"/><rect x="1591.6" y="1293.4" width="3" height="23.6" fill="#111"/><rect x="1628.8" y="1293.4" width="3" height="23.6" fill="#111"/><rect x="1352.8" y="1320.3" width="3" height="23.5" fill="#111"/><rect x="1391" y="1320.3" width="3" height="23.5" fill="#111"/><rect x="1478.2" y="1320.3" width="3" height="23.5" fill="#111"/><rect x="1518" y="1320.3" width="3" height="23.5" fill="#111"/><rect x="1542.2" y="1320.3" width="3" height="23.5" fill="#111"/><rect x="1596" y="1320.3" width="3" height="23.5" fill="#111"/><rect x="1290.1" y="1346" width="3" height="24" fill="#111"/><rect x="1302.8" y="1346" width="3" height="24" fill="#111"/><rect x="1368.2" y="1346" width="3" height="24" fill="#111"/><rect x="1432.2" y="1346" width="3" height="24" fill="#111"/><rect x="1570.2" y="1346" width="3" height="24" fill="#111"/><rect x="1604.9" y="1346" width="3" height="24" fill="#111"/><rect x="1186.9" y="1372.7" width="3" height="23.9" fill="#111"/><rect x="1205.3" y="1372.7" width="3" height="23.9" fill="#111"/><path d="M1161.8,1433 V1423.5 H1638.7 V1433" fill="none" stroke="#111" stroke-width="4"/><text transform="translate(1150.77 1469.51) scale(1.070 1)" font-size="28.73" fill="#000">0</text><text transform="translate(1309.53 1465.04) scale(1.047 1)" font-size="33.16" fill="#000">Time (min)</text><text transform="translate(1616.92 1469.51) scale(1.044 1)" font-size="29.14" fill="#000">1.5</text><text transform="translate(1131.25 1661.89) scale(0.987 1)" font-size="31.02" fill="#35318f">First eating (mouse #1)</text><polygon points="1153.7,1680.3 1175.8,1680.3 1164.75,1704.1" fill="#2f2a95"/><rect x="1162.5" y="1707" width="6.5" height="184.5" fill="#bcbcea"/><rect x="1178.5" y="1707" width="15.4" height="184.5" fill="#bcbcea"/><rect x="1327.4" y="1707" width="63" height="184.5" fill="#bcbcea"/><rect x="1162.5" y="1707" width="481" height="184.5" fill="none" stroke="#a3a3a3" stroke-width="2"/><rect x="1292.9" y="1724.6" width="3" height="27.2" fill="#111"/><rect x="1310.5" y="1724.6" width="3" height="27.2" fill="#111"/><rect x="1542.2" y="1724.6" width="3" height="27.2" fill="#111"/><rect x="1575.6" y="1724.6" width="3" height="27.2" fill="#111"/><rect x="1311.3" y="1756" width="3" height="26.5" fill="#111"/><rect x="1575.3" y="1756" width="3" height="26.5" fill="#111"/><path d="M1167.4,1914 V1905.5 H1643.7 V1914" fill="none" stroke="#111" stroke-width="4"/><text transform="translate(1156.77 1950.71) scale(1.075 1)" font-size="28.59" fill="#000">0</text><text transform="translate(1309.53 1946.04) scale(1.047 1)" font-size="33.16" fill="#000">Time (min)</text><text transform="translate(1621.92 1950.71) scale(1.049 1)" font-size="29" fill="#000">1.5</text><text transform="translate(1131.25 2020.71) scale(1.022 1)" font-size="29.95" fill="#35318f">First eating (mouse #2)</text><polygon points="1151.3,2032.2 1173.4,2032.2 1162.35,2055.4" fill="#2f2a95"/><rect x="1163" y="2061.5" width="38.4" height="201.7" fill="#bcbcea"/><rect x="1216.7" y="2061.5" width="35.1" height="201.7" fill="#bcbcea"/><rect x="1344.8" y="2061.5" width="62.7" height="201.7" fill="#bcbcea"/><rect x="1497.7" y="2061.5" width="24.6" height="201.7" fill="#bcbcea"/><rect x="1552.3" y="2061.5" width="24.8" height="201.7" fill="#bcbcea"/><rect x="1163" y="2061.5" width="482.5" height="201.7" fill="none" stroke="#a3a3a3" stroke-width="2"/><rect x="1240.1" y="2074" width="3" height="22.3" fill="#111"/><rect x="1251.3" y="2074" width="3" height="22.3" fill="#111"/><rect x="1282.7" y="2074" width="3" height="22.3" fill="#111"/><rect x="1394.4" y="2074" width="3" height="22.3" fill="#111"/><rect x="1444.5" y="2074" width="3" height="22.3" fill="#111"/><rect x="1571.2" y="2074" width="3" height="22.3" fill="#111"/><rect x="1604.2" y="2074" width="3" height="22.3" fill="#111"/><rect x="1238.4" y="2098" width="3" height="22" fill="#111"/><rect x="1631.5" y="2121.8" width="3" height="22.2" fill="#111"/><rect x="1346.4" y="2145.7" width="3" height="22.1" fill="#111"/><path d="M1167.4,2289 V2279.5 H1643.7 V2289" fill="none" stroke="#111" stroke-width="4"/><text transform="translate(1156.77 2324.21) scale(1.065 1)" font-size="28.87" fill="#000">0</text><text transform="translate(1309.53 2324.56) scale(1.050 1)" font-size="33.05" fill="#000">Time (min)</text><text transform="translate(1621.92 2324.21) scale(1.039 1)" font-size="29.29" fill="#000">1.5</text><rect x="1768" y="24.4" width="34" height="32.9" fill="#6b97d3"/><rect x="1768" y="95" width="34" height="33" fill="#a7a5a9"/><text transform="translate(1816.89 54.36) scale(0.944 1)" font-size="34.15" fill="#000">Correlated</text><text transform="translate(1816.61 123.87) scale(0.967 1)" font-size="33.47" fill="#000">Non-correlated</text><path d="M1981.21,304.14 A147.7,147.7 0 1 1 1868,251.3 L1868,325.2 A73.8,73.8 0 1 0 1924.57,351.6 Z" fill="#a7a5a9" stroke="#fff" stroke-width="1.6" stroke-linejoin="miter"/><path d="M1871.81,243.14 A147.7,147.7 0 0 1 1985.02,295.98 L1928.37,343.45 A73.8,73.8 0 0 0 1871.81,317.04 Z" fill="#6b97d3" stroke="#fff" stroke-width="1.6" stroke-linejoin="miter"/><text transform="translate(1986.33 232.63) scale(0.972 1)" font-size="36.62" fill="#000">13.9%</text><text x="1962.96" y="573.63" font-size="36.62" fill="#000">86.1%</text><text transform="translate(1832.85 386.51) scale(1.040 1)" font-size="28.98" fill="#000">Total</text><text x="1818.84" y="421.51" font-size="28.98" fill="#000">36 cells</text><line x1="1979" y1="231.5" x2="1929.5" y2="275.6" stroke="#111" stroke-width="2"/><line x1="1891.5" y1="521.4" x2="1952.4" y2="558.9" stroke="#111" stroke-width="2"/><rect x="1770" y="763.5" width="33.8" height="32.7" fill="#d35a4a"/><rect x="1770" y="838" width="33.8" height="32.7" fill="#a7a5a9"/><text transform="translate(1818.39 792.37) scale(0.980 1)" font-size="32.93" fill="#000">Correlated</text><text x="1818.21" y="866.18" font-size="32.38" fill="#000">Non-correlated</text><path d="M1942.06,1288.18 A148.5,148.5 0 1 1 1869.7,1010 L1869.7,1084 A74.5,74.5 0 1 0 1906,1223.56 Z" fill="#a7a5a9" stroke="#fff" stroke-width="2.2" stroke-linejoin="miter"/><path d="M1873.76,1008.94 A148.5,148.5 0 0 1 1946.12,1287.12 L1910.06,1222.5 A74.5,74.5 0 0 0 1873.76,1082.94 Z" fill="#d35a4a" stroke="#fff" stroke-width="2.2" stroke-linejoin="miter"/><text transform="translate(1986.11 992.42) scale(0.931 1)" font-size="38.17" fill="#000">41.9%</text><text transform="translate(1743.38 1385.62) scale(0.936 1)" font-size="38.03" fill="#000">58.1%</text><text transform="translate(1842.28 1146.71) scale(1.014 1)" font-size="28.57" fill="#000">Total</text><text transform="translate(1825.26 1182.52) scale(1.060 1)" font-size="27.76" fill="#000">43 cells</text><line x1="2005.3" y1="1001.3" x2="1955" y2="1059" stroke="#111" stroke-width="2"/><line x1="1821" y1="1274.3" x2="1787.2" y2="1337" stroke="#111" stroke-width="2"/><rect x="1769.5" y="1635.8" width="33.6" height="32.6" fill="#8c2ab2"/><rect x="1769.5" y="1706.2" width="33.6" height="32.6" fill="#a7a5a9"/><text transform="translate(1818.09 1664.67) scale(0.961 1)" font-size="33.47" fill="#000">Correlated</text><text transform="translate(1817.41 1734.67) scale(0.966 1)" font-size="33.47" fill="#000">Non-correlated</text><path d="M2015.95,2068.28 A147.8,147.8 0 1 1 1870.6,1893.7 L1870.6,1967.5 A74,74 0 1 0 1943.37,2054.91 Z" fill="#a7a5a9" stroke="#fff" stroke-width="1.6" stroke-linejoin="miter"/><path d="M1874.83,1890.18 A147.8,147.8 0 0 1 2020.18,2064.76 L1947.6,2051.39 A74,74 0 0 0 1874.83,1963.98 Z" fill="#8c2ab2" stroke="#fff" stroke-width="1.6" stroke-linejoin="miter"/><text transform="translate(1984.79 1868.81) scale(0.939 1)" font-size="38.59" fill="#000">27.9%</text><text x="1749.39" y="2272.32" font-size="36.17" fill="#000">72.1%</text><text transform="translate(1837.27 2025.7) scale(0.976 1)" font-size="29.93" fill="#000">Total</text><text transform="translate(1821.67 2060.53) scale(1.071 1)" font-size="27.35" fill="#000">43 cells</text><line x1="1992" y1="1886.4" x2="1941.8" y2="1943.3" stroke="#111" stroke-width="2"/><line x1="1828.6" y1="2150.2" x2="1794.3" y2="2223.2" stroke="#111" stroke-width="2"/></svg></body></html>
